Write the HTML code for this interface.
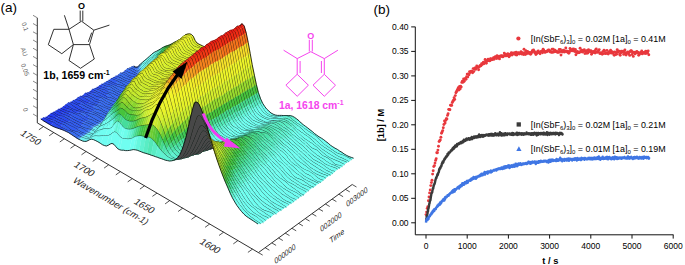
<!DOCTYPE html>
<html><head><meta charset="utf-8"><style>
html,body{margin:0;padding:0;background:#fff;}
svg{display:block;}
text{font-family:"Liberation Sans",sans-serif;}
</style></head><body>
<svg width="685" height="265" viewBox="0 0 685 265">
<rect width="685" height="265" fill="#fff"/>
<path stroke="#1a1a1a" stroke-width="0.9" fill="none" d="M37.3 17.8 V122.9 L258.4 252.6 L352.2 184.5"/>
<path stroke="#1a1a1a" stroke-width="0.75" fill="none" d="M43.5 126.5 l-4.6 3.3 M53.8 132.5 l-4.6 3.3 M64.4 138.7 l-4.6 3.3 M75.1 145.0 l-4.6 3.3 M86.1 151.5 l-4.6 3.3 M97.3 158.1 l-4.6 3.3 M108.7 164.8 l-4.6 3.3 M120.4 171.6 l-4.6 3.3 M132.3 178.6 l-4.6 3.3 M144.5 185.8 l-4.6 3.3 M157.0 193.1 l-4.6 3.3 M169.7 200.6 l-4.6 3.3 M182.7 208.2 l-4.6 3.3 M196.1 216.0 l-4.6 3.3 M209.7 224.0 l-4.6 3.3 M223.6 232.2 l-4.6 3.3 M237.9 240.6 l-4.6 3.3 M252.5 249.1 l-4.6 3.3 M258.4 252.6 l4.3 2.5 M265.1 247.7 l4.3 2.5 M271.8 242.9 l4.3 2.5 M278.5 238.0 l4.3 2.5 M285.2 233.1 l4.3 2.5 M291.9 228.3 l4.3 2.5 M298.6 223.4 l4.3 2.5 M305.3 218.6 l4.3 2.5 M312.0 213.7 l4.3 2.5 M318.7 208.8 l4.3 2.5 M325.4 204.0 l4.3 2.5 M332.1 199.1 l4.3 2.5 M338.8 194.2 l4.3 2.5 M345.5 189.4 l4.3 2.5 M352.2 184.5 l4.3 2.5 "/>
<path stroke="#555" stroke-width="0.7" fill="none" d="M37.3 17.8 L33.0 15.3 M37.3 26.0 L33.0 23.5 M37.3 34.2 L33.0 31.8 M37.3 42.5 L33.0 40.0 M37.3 50.7 L33.0 48.2 M37.3 58.9 L33.0 56.4 M37.3 67.1 L33.0 64.6 M37.3 75.4 L33.0 72.9 M37.3 83.6 L33.0 81.1 M37.3 91.8 L33.0 89.3 M37.3 100.0 L33.0 97.5 M37.3 108.3 L33.0 105.8 M37.3 116.5 L33.0 114.0 "/>
<text transform="matrix(0.862 0.507 -0.70 0.72 28.6 140.0)" text-anchor="middle" font-size="9.6" fill="#222">1750</text>
<text transform="matrix(0.862 0.507 -0.70 0.72 82.2 171.4)" text-anchor="middle" font-size="9.6" fill="#222">1700</text>
<text transform="matrix(0.862 0.507 -0.70 0.72 142.2 208.4)" text-anchor="middle" font-size="9.6" fill="#222">1650</text>
<text transform="matrix(0.862 0.507 -0.70 0.72 208.0 248.4)" text-anchor="middle" font-size="9.6" fill="#222">1600</text>
<text transform="matrix(0.862 0.507 -0.70 0.72 108.8 203.4)" text-anchor="middle" font-size="9.4" fill="#2a2a2a">Wavenumber (cm-1)</text>
<text transform="matrix(0.80 -0.60 0.22 0.97 285.6 256.5)" text-anchor="middle" font-size="8" fill="#222" textLength="26" lengthAdjust="spacingAndGlyphs">000000</text>
<text transform="matrix(0.80 -0.60 0.22 0.97 331.5 224.5)" text-anchor="middle" font-size="8" fill="#222" textLength="26" lengthAdjust="spacingAndGlyphs">002000</text>
<text transform="matrix(0.80 -0.60 0.22 0.97 357.5 199.5)" text-anchor="middle" font-size="8" fill="#222" textLength="26" lengthAdjust="spacingAndGlyphs">003000</text>
<text transform="matrix(0.80 -0.60 0.22 0.97 337.5 238.5)" text-anchor="middle" font-size="8" fill="#222">Time</text>
<text transform="matrix(0.35 0.94 -0.94 0.35 23.0 27.5)" text-anchor="middle" font-size="6.5" fill="#666">0.1</text>
<text transform="matrix(0.35 0.94 -0.94 0.35 22.0 52.7)" text-anchor="middle" font-size="6.5" fill="#666">AU</text>
<text transform="matrix(0.35 0.94 -0.94 0.35 23.0 70.5)" text-anchor="middle" font-size="6.5" fill="#666">0.05</text>
<text transform="matrix(0.35 0.94 -0.94 0.35 23.5 110.5)" text-anchor="middle" font-size="6.5" fill="#666">0</text>
<style>.sf path{fill:currentColor;stroke:currentColor;stroke-width:1.50}.sf path.k{fill:none;stroke:#000;stroke-width:4.00}</style><g class="sf" transform="scale(0.2)"><path color="#396df0" d="M658 334l9 3 8 2 12-3-9-1-9-5z"/>
<path color="#3f79f0" d="M675 339l9 2 11-14-8 9z"/>
<path color="#4a8bf0" d="M684 341l9-5 11-17-9 8z"/>
<path color="#6cf1f0" d="M693 336l8-7 12-18-9 8z"/>
<path color="#6ff8f1" d="M701 329l9-6 11-19-8 7z"/>
<path color="#70fcf2" d="M710 323l9-5 11-21-9 7z"/>
<path color="#70fdf2" d="M719 318l9-5 11-24-9 8z"/>
<path color="#70fdf1" d="M728 313l8-7 9-9 12-24-9 8-9 8z"/>
<path color="#70fef1" d="M745 297l9-7 11-24-8 7z"/>
<path color="#70fef0" d="M754 290l9-8 11-22-9 6z"/>
<path color="#70fff0" d="M763 282l9-7 11-19-9 4z"/>
<path color="#6dfdea" d="M772 275l9-7 11-17-9 5z"/>
<path color="#60f2d1" d="M781 268l9-9 11-13-9 5z"/>
<path color="#52e8b7" d="M790 259l9-8 11-11-9 6z"/>
<path color="#46dd9c" d="M799 251l9-7 11-9-9 5z"/>
<path color="#42d279" d="M808 244l9-5 11-8-9 4z"/>
<path color="#3ec755" d="M817 239l9-3 11-8-9 3z"/>
<path color="#3cc143" d="M826 236l9-2 11-9-9 3z"/>
<path color="#54c639" d="M835 234l9-3 11-10-9 4z"/>
<path color="#62ca35" d="M844 231l9-4 11-11-9 5z"/>
<path color="#7dd12f" d="M853 227l9-4 12-13-10 6z"/>
<path color="#97d92d" d="M862 223l9-4 12-13-9 4z"/>
<path color="#a4de2d" d="M871 219l9-4 12-14-9 5z"/>
<path color="#bee62d" d="M880 215l10-6 11-13-9 5z"/>
<path color="#c9ea2c" d="M890 209l9-9 11-11-9 7z"/>
<path color="#484848" d="M899 200l9-11 10-8 11-8-9 7-10 9z"/>
<path color="#e5f228" d="M918 181l9-5 11-6-9 3z"/>
<path color="#e9f328" d="M927 176l9 0 10 2 9 5 11-2-9-9-9-3-10 1z"/>
<path color="#e5f228" d="M955 183l9 24 12-4-10-22z"/>
<path color="#ddf029" d="M964 207l10 12 11-4-9-12z"/>
<path color="#d9ef2a" d="M974 219l9 7 10 6 9 5 10 4 10 3 9 1 12-6-10-2-10-3-9-4-10-5-9-4-10-6z"/>
<path color="#ddf029" d="M1031 245l10 0 11-5-9-1z"/>
<path color="#e1f129" d="M1041 245l9 0 12-6-10 1z"/>
<path color="#e5f228" d="M1050 245l10-1 12-8-10 3z"/>
<path color="#e8f328" d="M1060 244l10 0 11-9-9 1z"/>
<path color="#e9f328" d="M1070 244l10 0 11-10-10 1z"/>
<path color="#ebf328" d="M1080 244l9-2 12-8-10 0z"/>
<path color="#ecf428" d="M1089 242l10-5 12-7-10 4z"/>
<path color="#484848" d="M1099 237l10-6 10-7 11-8-9 8-10 6z"/>
<path color="#f3f528" d="M1119 224l10-6 11-8-10 6z"/>
<path color="#f4eb28" d="M1129 218l10-7 11-7-10 6z"/>
<path color="#484848" d="M1139 211l10-8 10-12 10-16 10-19 10-19 10-9 11-10-10 11-10 22-10 21-10 16-10 10-10 6z"/>
<path color="#eb1e14" d="M1199 128l10 11 12-9-11-12z"/>
<path color="#ed2b14" d="M1209 139l10 33 12-8-10-34z"/>
<path color="#f4721a" d="M1219 172l10 47 12-7-10-48z"/>
<path color="#f5da28" d="M1229 219l11 55 11-7-10-55z"/>
<path color="#eef428" d="M1240 274l10 57 11-8-10-56z"/>
<path color="#d9ef2a" d="M1250 331l10 53 12-8-11-53z"/>
<path color="#97d92d" d="M1260 384l11 47 11-8-10-47z"/>
<path color="#46c33c" d="M1271 431l10 37 11-5-10-40z"/>
<path color="#46dd9c" d="M1281 468l10 29 12-3-11-31z"/>
<path color="#59edc4" d="M1291 497l11 23 11-4-10-22z"/>
<path color="#6dfdea" d="M1302 520l10 18 12-5-11-17z"/>
<path color="#70fff0" d="M1312 538l11 16 10 11 12-9-11-10-10-13z"/>
<path color="#70fef0" d="M1333 565l11 8 10 5 11 2 10 2 12-5-11-2-10-4-11-6-10-9z"/>
<path color="#70fff0" d="M1375 582l11 1 11 1 11-1 11-5-11-1-10 0-11 0z"/>
<path color="#6dfdea" d="M1408 583l10-2 12-3-11 0z"/>
<path color="#66f7de" d="M1418 581l11-1 12-2-11 0z"/>
<path color="#60f2d1" d="M1429 580l11 2 11 6 11 10 11 9 11-12-11-8-11-6-11-3-10 0z"/>
<path color="#66f7de" d="M1473 607l11 8 11-11-11-9z"/>
<path color="#6dfdea" d="M1484 615l11 8 11 7 11-6-11-9-11-11z"/>
<path color="#70fff0" d="M1506 630l11 8 11 9 11 8 11 7 11 7 11 7 12 9 11-1-11-8-11-8-11-10-12-9-11-9-11-8-11-8z"/>
<path color="#70fef0" d="M1584 685l11 11 12-5-12-7z"/>
<path color="#70fef1" d="M1595 696l11 12 12 11 11 9 12 8 11 8 12 8 11 8 12 7 11 4 12 4 12 4 11 6 12 6 12 7 11-7-11-4-12-4-12-6-12-7-11-8-12-7-11-8-12-6-11-7-12-8-11-10-12-9-11-9-11-7z"/>
<path class="k" d="M658 334l9 3 8 2 9 2 9-5 8-7 9-6 9-5 9-5 8-7 9-9 9-7 9-8 9-7 9-7 9-9 9-8 9-7 9-5 9-3 9-2 9-3 9-4 9-4 9-4 9-4 10-6 9-9 9-11 10-8 9-5 9 0 10 2 9 5 9 24 10 12 9 7 10 6 9 5 10 4 10 3 9 1 10 0 9 0 10-1 10 0 10 0 9-2 10-5 10-6 10-7 10-6 10-7 10-8 10-12 10-16 10-19 10-19 10-9 10 11 10 33 10 47 11 55 10 57 10 53 11 47 10 37 10 29 11 23 10 18 11 16 10 11 11 8 10 5 11 2 10 2 11 1 11 1 11-1 10-2 11-1 11 2 11 6 11 10 11 9 11 8 11 8 11 7 11 8 11 9 11 8 11 7 11 7 11 7 12 9 11 11 11 12 12 11 11 9 12 8 11 8 12 8 11 8 12 7 11 4 12 4 12 4 11 6 12 6 12 7"/>
<path class="k" d="M669 330l9 5 9 1 8-9 9-8 9-8 8-7 9-7 9-8 9-8 9-8 8-7 9-6 9-4 9-5 9-5 9-6 9-5 9-4 9-3 9-3 9-4 9-5 10-6 9-4 9-5 9-5 9-7 10-9 9-7 9-3 10-1 9 3 9 9 10 22 9 12 10 6 9 4 10 5 9 4 10 3 10 2 9 1 10-1 10-3 9-1 10-1 10 0 10-4 10-6 9-8 10-6 10-6 10-6 10-10 10-16 10-21 10-22 10-11 11 12 10 34 10 48 10 55 10 56 11 53 10 47 10 40 11 31 10 22 11 17 10 13 11 10 10 9 11 6 10 4 11 2 11 0 10 0 11 1 11 0 11 0 10 0 11 3 11 6 11 8 11 9 11 11 11 9 11 8 11 8 11 9 12 9 11 10 11 8 11 8 12 7 11 7 11 9 12 9 11 10 12 8 11 7 12 6 11 8 12 7 11 8 12 7 12 6 12 4 11 4"/>
<path color="#396df0" d="M647 340l8 3 9 3 9 5 11-10-9-2-8-2-9-3z"/>
<path color="#3f79f0" d="M673 351l8 5 12-20-9 5z"/>
<path color="#4582f0" d="M681 356l9 1 11-28-8 7z"/>
<path color="#5ec6f0" d="M690 357l9-9 11-25-9 6z"/>
<path color="#6ef5f1" d="M699 348l9-10 11-20-9 5z"/>
<path color="#70fcf2" d="M708 338l8-8 12-17-9 5z"/>
<path color="#70fdf2" d="M716 330l9-8 11-16-8 7z"/>
<path color="#70fdf1" d="M725 322l9-7 9-8 11-17-9 7-9 9z"/>
<path color="#70fef1" d="M743 307l9-8 11-17-9 8z"/>
<path color="#70fef0" d="M752 299l8-8 12-16-9 7z"/>
<path color="#70fff0" d="M760 291l9-7 12-16-9 7z"/>
<path color="#6dfdea" d="M769 284l9-7 12-18-9 9z"/>
<path color="#60f2d1" d="M778 277l9-6 12-20-9 8z"/>
<path color="#4be2aa" d="M787 271l9-6 12-21-9 7z"/>
<path color="#44d78b" d="M796 265l9-8 12-18-9 5z"/>
<path color="#40cc67" d="M805 257l9-8 12-13-9 3z"/>
<path color="#3cc143" d="M814 249l9-6 12-9-9 2z"/>
<path color="#46c33c" d="M823 243l9-4 12-8-9 3z"/>
<path color="#62ca35" d="M832 239l10-3 11-9-9 4z"/>
<path color="#6fce32" d="M842 236l9-3 11-10-9 4z"/>
<path color="#8ad52d" d="M851 233l9-4 11-10-9 4z"/>
<path color="#a4de2d" d="M860 229l9-6 11-8-9 4z"/>
<path color="#484848" d="M869 223l9-7 9-8 10-9 11-10-9 11-9 9-10 6z"/>
<path color="#ddf029" d="M897 199l9-6 12-12-10 8z"/>
<path color="#e5f228" d="M906 193l9-4 12-13-9 5z"/>
<path color="#e8f328" d="M915 189l10-2 11-11-9 0z"/>
<path color="#e9f328" d="M925 187l9-1 12-8-10-2z"/>
<path color="#ebf328" d="M934 186l9 1 12-4-9-5z"/>
<path color="#e8f328" d="M943 187l10 24 11-4-9-24z"/>
<path color="#ddf029" d="M953 211l9 14 12-6-10-12z"/>
<path color="#d9ef2a" d="M962 225l10 7 9 4 10 3 9 3 10 5 10 5 11-7-9-1-10-3-10-4-9-5-10-6-9-7z"/>
<path color="#ddf029" d="M1020 252l9 4 10 1 11-12-9 0-10 0z"/>
<path color="#e1f129" d="M1039 257l10-3 11-10-10 1z"/>
<path color="#e8f328" d="M1049 254l9-2 12-8-10 0z"/>
<path color="#e9f328" d="M1058 252l10-2 12-6-10 0z"/>
<path color="#ebf328" d="M1068 250l10-1 11-7-9 2z"/>
<path color="#ecf428" d="M1078 249l10-3 11-9-10 5z"/>
<path color="#eef428" d="M1088 246l10-7 11-8-10 6z"/>
<path color="#484848" d="M1098 239l9-9 10-8 10-7 10-6 10-10 10-16 10-21 10-22 10-9 12-3-10 9-10 19-10 19-10 16-10 12-10 8-10 7-10 6-10 7z"/>
<path color="#eb1e14" d="M1187 131l11 13 11-5-10-11z"/>
<path color="#ed2b14" d="M1198 144l10 35 11-7-10-33z"/>
<path color="#f4721a" d="M1208 179l10 50 11-10-10-47z"/>
<path color="#f5da28" d="M1218 229l10 56 12-11-11-55z"/>
<path color="#edf428" d="M1228 285l10 55 12-9-10-57z"/>
<path color="#d5ed2b" d="M1238 340l11 53 11-9-10-53z"/>
<path color="#97d92d" d="M1249 393l10 46 12-8-11-47z"/>
<path color="#46c33c" d="M1259 439l10 38 12-9-10-37z"/>
<path color="#46dd9c" d="M1269 477l11 29 11-9-10-29z"/>
<path color="#59edc4" d="M1280 506l10 22 12-8-11-23z"/>
<path color="#6dfdea" d="M1290 528l11 16 11-6-10-18z"/>
<path color="#70fff0" d="M1301 544l10 12 11 11 11-2-10-11-11-16z"/>
<path color="#70fef0" d="M1322 567l10 8 11 6 10 4 12-5-11-2-10-5-11-8z"/>
<path color="#70fff0" d="M1353 585l11 2 11 2 10 2 11 2 12-10-11 1-11-1-11-1-10-2z"/>
<path color="#6dfdea" d="M1396 593l11 0 11-12-10 2z"/>
<path color="#66f7de" d="M1407 593l11-1 11-12-11 1z"/>
<path color="#60f2d1" d="M1418 592l10 0 11 3 11 6 11 7 12-1-11-9-11-10-11-6-11-2z"/>
<path color="#66f7de" d="M1461 608l11 9 11 8 12-2-11-8-11-8z"/>
<path color="#6dfdea" d="M1483 625l11 8 11 9 12-4-11-8-11-7z"/>
<path color="#70fff0" d="M1505 642l11 10 11 10 11 10 12 8 11 8 11 8 12-11-12-9-11-7-11-7-11-7-11-8-11-9z"/>
<path color="#70fef0" d="M1572 696l11 9 12-9-11-11z"/>
<path color="#70fef1" d="M1583 705l12 10 11 11 12 9 11 7 11 7 12 7 12 8 11 8 12 8 11 6 12 5 12 6 12 6 11 6 12-11-12-7-12-6-11-6-12-4-12-4-11-4-12-7-11-8-12-8-11-8-12-8-11-9-12-11-11-12z"/>
<path class="k" d="M647 340l8 3 9 3 9 5 8 5 9 1 9-9 9-10 8-8 9-8 9-7 9-8 9-8 8-8 9-7 9-7 9-6 9-6 9-8 9-8 9-6 9-4 10-3 9-3 9-4 9-6 9-7 9-8 10-9 9-6 9-4 10-2 9-1 9 1 10 24 9 14 10 7 9 4 10 3 9 3 10 5 10 5 9 4 10 1 10-3 9-2 10-2 10-1 10-3 10-7 9-9 10-8 10-7 10-6 10-10 10-16 10-21 10-22 10-9 11 13 10 35 10 50 10 56 10 55 11 53 10 46 10 38 11 29 10 22 11 16 10 12 11 11 10 8 11 6 10 4 11 2 11 2 10 2 11 2 11 0 11-1 10 0 11 3 11 6 11 7 11 9 11 8 11 8 11 9 11 10 11 10 11 10 12 8 11 8 11 8 11 9 12 10 11 11 12 9 11 7 11 7 12 7 12 8 11 8 12 8 11 6 12 5 12 6 12 6 11 6"/>
<path color="#396df0" d="M635 344l9 3 9 5 8 5 9 5 9 5 11-10-9-1-8-5-9-5-9-3-8-3z"/>
<path color="#3f79f0" d="M679 367l8 5 12-24-9 9z"/>
<path color="#4a8bf0" d="M687 372l9-8 12-26-9 10z"/>
<path color="#6ef5f1" d="M696 364l9-10 11-24-8 8z"/>
<path color="#70fbf2" d="M705 354l9-9 11-23-9 8z"/>
<path color="#70fdf2" d="M714 345l8-9 12-21-9 7z"/>
<path color="#70fdf1" d="M722 336l9-8 9-9 12-20-9 8-9 8z"/>
<path color="#70fef1" d="M740 319l9-9 11-19-8 8z"/>
<path color="#70fef0" d="M749 310l9-9 11-17-9 7z"/>
<path color="#70fff0" d="M758 301l9-9 11-15-9 7z"/>
<path color="#66f7de" d="M767 292l9-9 11-12-9 6z"/>
<path color="#59edc4" d="M776 283l9-8 11-10-9 6z"/>
<path color="#4be2aa" d="M785 275l9-6 11-12-9 8z"/>
<path color="#44d78b" d="M794 269l9-6 11-14-9 8z"/>
<path color="#40cc67" d="M803 263l9-4 11-16-9 6z"/>
<path color="#3cc143" d="M812 259l9-4 11-16-9 4z"/>
<path color="#54c639" d="M821 255l9-4 12-15-10 3z"/>
<path color="#62ca35" d="M830 251l9-5 12-13-9 3z"/>
<path color="#7dd12f" d="M839 246l9-6 12-11-9 4z"/>
<path color="#97d92d" d="M848 240l10-6 11-11-9 6z"/>
<path color="#b1e22d" d="M858 234l9-7 11-11-9 7z"/>
<path color="#484848" d="M867 227l9-10 9-10 10-7 11-7-9 6-10 9-9 8z"/>
<path color="#e1f129" d="M895 200l9-4 11-7-9 4z"/>
<path color="#e8f328" d="M904 196l9-3 12-6-10 2z"/>
<path color="#e9f328" d="M913 193l10-2 11-5-9 1z"/>
<path color="#ebf328" d="M923 191l9 0 11-4-9-1z"/>
<path color="#e8f328" d="M932 191l9 22 12-2-10-24z"/>
<path color="#e1f129" d="M941 213l10 15 11-3-9-14z"/>
<path color="#d9ef2a" d="M951 228l9 10 10 8 9 6 10 4 10 3 9 1 10 1 11-5-9-4-10-5-10-5-9-3-10-3-9-4-10-7z"/>
<path color="#ddf029" d="M1018 261l9 0 12-4-10-1z"/>
<path color="#e1f129" d="M1027 261l10-2 12-5-10 3z"/>
<path color="#e5f228" d="M1037 259l10-2 11-5-9 2z"/>
<path color="#e9f328" d="M1047 257l10-1 11-6-10 2z"/>
<path color="#ebf328" d="M1057 256l9-2 12-5-10 1z"/>
<path color="#484848" d="M1066 254l10-4 10-6 10-8 10-7 10-6 11-8-10 7-10 8-9 9-10 7-10 3z"/>
<path color="#f5da28" d="M1116 223l10-6 11-8-10 6z"/>
<path color="#484848" d="M1126 217l10-9 10-13 10-21 10-22 10-12 11-9-10 9-10 22-10 21-10 16-10 10z"/>
<path color="#eb1e14" d="M1176 140l10 9 12-5-11-13z"/>
<path color="#ed2b14" d="M1186 149l10 33 12-3-10-35z"/>
<path color="#f4721a" d="M1196 182l10 50 12-3-10-50z"/>
<path color="#f5da28" d="M1206 232l11 56 11-3-10-56z"/>
<path color="#edf428" d="M1217 288l10 57 11-5-10-55z"/>
<path color="#d5ed2b" d="M1227 345l10 53 12-5-11-53z"/>
<path color="#97d92d" d="M1237 398l10 46 12-5-10-46z"/>
<path color="#46c33c" d="M1247 444l11 37 11-4-10-38z"/>
<path color="#46dd9c" d="M1258 481l10 30 12-5-11-29z"/>
<path color="#59edc4" d="M1268 511l11 24 11-7-10-22z"/>
<path color="#6dfdea" d="M1279 535l10 18 12-9-11-16z"/>
<path color="#70fff0" d="M1289 553l10 14 11 10 12-10-11-11-10-12z"/>
<path color="#70fef0" d="M1310 577l11 7 10 5 11 3 11-7-10-4-11-6-10-8z"/>
<path color="#70fff0" d="M1342 592l10 1 11 1 11 1 10 0 12-2-11-2-10-2-11-2-11-2z"/>
<path color="#6dfdea" d="M1384 595l11 1 12-3-11 0z"/>
<path color="#66f7de" d="M1395 596l11 0 12-4-11 1z"/>
<path color="#60f2d1" d="M1406 596l11 2 11 4 10 5 11 8 11 8 12-6-11-9-11-7-11-6-11-3-10 0z"/>
<path color="#66f7de" d="M1460 623l11 10 11 10 12-10-11-8-11-8z"/>
<path color="#6dfdea" d="M1482 643l11 9 12-10-11-9z"/>
<path color="#70fff0" d="M1493 652l12 9 11 7 11 8 11 7 11 9 12 10 11-6-11-8-11-8-12-8-11-10-11-10-11-10z"/>
<path color="#70fef0" d="M1561 702l11 10 11-7-11-9z"/>
<path color="#70fef1" d="M1572 712l11 11 12 10 11 10 11 8 12 8 11 7 12 8 12 7 11 7 12 6 12 5 11 4 12 4 12 5 11-3-11-6-12-6-12-6-12-5-11-6-12-8-11-8-12-8-12-7-11-7-11-7-12-9-11-11-12-10z"/>
<path class="k" d="M635 344l9 3 9 5 8 5 9 5 9 5 8 5 9-8 9-10 9-9 8-9 9-8 9-9 9-9 9-9 9-9 9-9 9-8 9-6 9-6 9-4 9-4 9-4 9-5 9-6 10-6 9-7 9-10 9-10 10-7 9-4 9-3 10-2 9 0 9 22 10 15 9 10 10 8 9 6 10 4 10 3 9 1 10 1 9 0 10-2 10-2 10-1 9-2 10-4 10-6 10-8 10-7 10-6 10-6 10-9 10-13 10-21 10-22 10-12 10 9 10 33 10 50 11 56 10 57 10 53 10 46 11 37 10 30 11 24 10 18 10 14 11 10 11 7 10 5 11 3 10 1 11 1 11 1 10 0 11 1 11 0 11 2 11 4 10 5 11 8 11 8 11 10 11 10 11 9 12 9 11 7 11 8 11 7 11 9 12 10 11 10 11 11 12 10 11 10 11 8 12 8 11 7 12 8 12 7 11 7 12 6 12 5 11 4 12 4 12 5"/>
<path color="#396df0" d="M624 354l9 4 8 4 9 4 9 3 8 3 9 4 11-4-8-5-9-5-9-5-8-5-9-5-9-3z"/>
<path color="#3f79f0" d="M676 376l9 4 11-16-9 8z"/>
<path color="#4582f0" d="M685 380l8-4 12-22-9 10z"/>
<path color="#6cf1f0" d="M693 376l9-9 12-22-9 9z"/>
<path color="#70fbf2" d="M702 367l9-9 11-22-8 9z"/>
<path color="#70fcf2" d="M711 358l9-9 11-21-9 8z"/>
<path color="#70fdf1" d="M720 349l9-9 9-10 11-20-9 9-9 9z"/>
<path color="#70fef1" d="M738 330l8-9 12-20-9 9z"/>
<path color="#70fef0" d="M746 321l9-10 12-19-9 9z"/>
<path color="#70fff0" d="M755 311l9-10 12-18-9 9z"/>
<path color="#66f7de" d="M764 301l9-9 12-17-9 8z"/>
<path color="#52e8b7" d="M773 292l9-8 12-15-9 6z"/>
<path color="#46dd9c" d="M782 284l9-7 12-14-9 6z"/>
<path color="#42d279" d="M791 277l9-6 12-12-9 4z"/>
<path color="#3ec755" d="M800 271l9-5 12-11-9 4z"/>
<path color="#3cc143" d="M809 266l10-4 11-11-9 4z"/>
<path color="#54c639" d="M819 262l9-4 11-12-9 5z"/>
<path color="#6fce32" d="M828 258l9-5 11-13-9 6z"/>
<path color="#8ad52d" d="M837 253l9-7 12-12-10 6z"/>
<path color="#a4de2d" d="M846 246l9-8 12-11-9 7z"/>
<path color="#484848" d="M855 238l10-11 9-11 9-9 12-7-10 7-9 10-9 10z"/>
<path color="#e1f129" d="M883 207l9-5 12-6-9 4z"/>
<path color="#e8f328" d="M892 202l10-2 11-7-9 3z"/>
<path color="#e9f328" d="M902 200l9-1 12-8-10 2z"/>
<path color="#ebf328" d="M911 199l9 2 12-10-9 0z"/>
<path color="#e8f328" d="M920 201l10 19 11-7-9-22z"/>
<path color="#e1f129" d="M930 220l9 16 12-8-10-15z"/>
<path color="#d9ef2a" d="M939 236l10 9 9 6 10 4 9 3 10 4 10 4 9 3 12-8-10-1-9-1-10-3-10-4-9-6-10-8-9-10z"/>
<path color="#ddf029" d="M1006 269l10 1 11-9-9 0z"/>
<path color="#e1f129" d="M1016 270l10-1 11-10-10 2z"/>
<path color="#e5f228" d="M1026 269l9-2 12-10-10 2z"/>
<path color="#e9f328" d="M1035 267l10-2 12-9-10 1z"/>
<path color="#ebf328" d="M1045 265l10-3 11-8-9 2z"/>
<path color="#ecf428" d="M1055 262l10-4 11-8-10 4z"/>
<path color="#484848" d="M1065 258l9-7 10-9 10-8 10-6 10-6 10-9 10-13 10-19 10-21 10-11 12-9-10 12-10 22-10 21-10 13-10 9-10 6-10 6-10 7-10 8-10 6z"/>
<path color="#eb1e14" d="M1164 149l10 10 12-10-10-9z"/>
<path color="#ed2b14" d="M1174 159l11 32 11-9-10-33z"/>
<path color="#f36218" d="M1185 191l10 48 11-7-10-50z"/>
<path color="#f5da28" d="M1195 239l10 55 12-6-11-56z"/>
<path color="#eef428" d="M1205 294l10 57 12-6-10-57z"/>
<path color="#d9ef2a" d="M1215 351l11 53 11-6-10-53z"/>
<path color="#97d92d" d="M1226 404l10 47 11-7-10-46z"/>
<path color="#46c33c" d="M1236 451l10 39 12-9-11-37z"/>
<path color="#46dd9c" d="M1246 490l11 31 11-10-10-30z"/>
<path color="#59edc4" d="M1257 521l10 22 12-8-11-24z"/>
<path color="#6dfdea" d="M1267 543l10 17 12-7-10-18z"/>
<path color="#70fff0" d="M1277 560l11 11 10 8 11 7 10 5 11 5 11 4 10 3 11 2 11 1 11-11-10 0-11-1-11-1-10-1-11-3-10-5-11-7-11-10-10-14z"/>
<path color="#6dfdea" d="M1373 606l11 0 11-10-11-1z"/>
<path color="#66f7de" d="M1384 606l10-1 12-9-11 0z"/>
<path color="#60f2d1" d="M1394 605l11 0 11 2 12-5-11-4-11-2z"/>
<path color="#59edc4" d="M1416 607l11 4 11 6 11-2-11-8-10-5z"/>
<path color="#60f2d1" d="M1438 617l11 8 11 9 11-1-11-10-11-8z"/>
<path color="#66f7de" d="M1460 634l11 11 11-2-11-10z"/>
<path color="#6dfdea" d="M1471 645l11 11 11-4-11-9z"/>
<path color="#70fff0" d="M1482 656l11 12 11 10 11 10 11 8 12 8 11 7 12-9-12-10-11-9-11-7-11-8-11-7-12-9z"/>
<path color="#70fef0" d="M1549 711l11 7 12 9 11-4-11-11-11-10z"/>
<path color="#70fef1" d="M1572 727l11 9 11 10 12 10 11 10 12 9 11 9 12 7 12 5 11 5 12 5 12 5 11 6 12 6 12-11-12-5-12-4-11-4-12-5-12-6-11-7-12-7-12-8-11-7-12-8-11-8-11-10-12-10z"/>
<path class="k" d="M624 354l9 4 8 4 9 4 9 3 8 3 9 4 9 4 8-4 9-9 9-9 9-9 9-9 9-10 8-9 9-10 9-10 9-9 9-8 9-7 9-6 9-5 10-4 9-4 9-5 9-7 9-8 10-11 9-11 9-9 9-5 10-2 9-1 9 2 10 19 9 16 10 9 9 6 10 4 9 3 10 4 10 4 9 3 10 1 10-1 9-2 10-2 10-3 10-4 9-7 10-9 10-8 10-6 10-6 10-9 10-13 10-19 10-21 10-11 10 10 11 32 10 48 10 55 10 57 11 53 10 47 10 39 11 31 10 22 10 17 11 11 10 8 11 7 10 5 11 5 11 4 10 3 11 2 11 1 11 0 10-1 11 0 11 2 11 4 11 6 11 8 11 9 11 11 11 11 11 12 11 10 11 10 11 8 12 8 11 7 11 7 12 9 11 9 11 10 12 10 11 10 12 9 11 9 12 7 12 5 11 5 12 5 12 5 11 6 12 6"/>
<path color="#325cef" d="M613 363l8 1 12-6-9-4z"/>
<path color="#396df0" d="M621 364l9 4 8 6 9 6 9 2 8 1 9 3 12-6-9-4-9-4-8-3-9-3-9-4-8-4z"/>
<path color="#3f79f0" d="M673 386l9 6 11-16-8 4z"/>
<path color="#4582f0" d="M682 392l9 1 11-26-9 9z"/>
<path color="#5ec6f0" d="M691 393l9-13 11-22-9 9z"/>
<path color="#70fbf2" d="M700 380l8-15 12-16-9 9z"/>
<path color="#70fdf2" d="M708 365l9-12 12-13-9 9z"/>
<path color="#70fdf1" d="M717 353l9-8 9-8 11-16-8 9-9 10z"/>
<path color="#70fef1" d="M735 337l9-9 11-17-9 10z"/>
<path color="#70fef0" d="M744 328l9-10 11-17-9 10z"/>
<path color="#70fff0" d="M753 318l9-9 11-17-9 9z"/>
<path color="#66f7de" d="M762 309l9-4 11-21-9 8z"/>
<path color="#59edc4" d="M771 305l9-4 11-24-9 7z"/>
<path color="#4be2aa" d="M780 301l9-7 11-23-9 6z"/>
<path color="#42d279" d="M789 294l9-9 11-19-9 5z"/>
<path color="#3ec755" d="M798 285l9-10 12-13-10 4z"/>
<path color="#46c33c" d="M807 275l9-7 12-10-9 4z"/>
<path color="#62ca35" d="M816 268l9-6 12-9-9 5z"/>
<path color="#484848" d="M825 262l10-8 9-11 9-12 9-10 10-5 11-9-9 9-9 11-10 11-9 8-9 7z"/>
<path color="#e1f129" d="M872 216l9-3 11-11-9 5z"/>
<path color="#e5f228" d="M881 213l9-4 12-9-10 2z"/>
<path color="#e8f328" d="M890 209l10-3 11-7-9 1z"/>
<path color="#e9f328" d="M900 206l9 2 11-7-9-2z"/>
<path color="#e8f328" d="M909 208l9 18 12-6-10-19z"/>
<path color="#e1f129" d="M918 226l10 17 11-7-9-16z"/>
<path color="#d9ef2a" d="M928 243l9 8 10 5 9 7 10 7 9 4 10 1 10 0 11-6-9-3-10-4-10-4-9-3-10-4-9-6-10-9z"/>
<path color="#ddf029" d="M995 275l9 0 12-5-10-1z"/>
<path color="#e1f129" d="M1004 275l10-1 12-5-10 1z"/>
<path color="#e5f228" d="M1014 274l10-4 11-3-9 2z"/>
<path color="#484848" d="M1024 270l9-5 10-4 10-1 12-2-10 4-10 3-10 2z"/>
<path color="#eef428" d="M1053 260l10-1 11-8-9 7z"/>
<path color="#f0f528" d="M1063 259l10-4 11-13-10 9z"/>
<path color="#f3f528" d="M1073 255l10-8 11-13-10 8z"/>
<path color="#f4eb28" d="M1083 247l10-9 11-10-10 6z"/>
<path color="#f4e028" d="M1093 238l9-7 12-9-10 6z"/>
<path color="#f5c525" d="M1102 231l10-7 12-11-10 9z"/>
<path color="#484848" d="M1112 224l10-14 11-23 10-26 10-11 11-1-10 11-10 21-10 19-10 13z"/>
<path color="#eb1e14" d="M1153 150l10 14 11-5-10-10z"/>
<path color="#ed2b14" d="M1163 164l10 37 12-10-11-32z"/>
<path color="#f4721a" d="M1173 201l10 48 12-10-10-48z"/>
<path color="#f5da28" d="M1183 249l10 53 12-8-10-55z"/>
<path color="#eef428" d="M1193 302l11 55 11-6-10-57z"/>
<path color="#d9ef2a" d="M1204 357l10 55 12-8-11-53z"/>
<path color="#97d92d" d="M1214 412l10 47 12-8-10-47z"/>
<path color="#46c33c" d="M1224 459l11 36 11-5-10-39z"/>
<path color="#44d78b" d="M1235 495l10 27 12-1-11-31z"/>
<path color="#59edc4" d="M1245 522l10 21 12 0-10-22z"/>
<path color="#6dfdea" d="M1255 543l11 19 11-2-10-17z"/>
<path color="#70fff0" d="M1266 562l10 17 11 11 10 7 11 5 10 5 11 5 11 0 10-3 12-4-11-2-10-3-11-4-11-5-10-5-11-7-10-8-11-11z"/>
<path color="#484848" d="M1350 609l11-3 11-1 12 1-11 0-11-1z"/>
<path color="#66f7de" d="M1372 605l11 2 11-2-10 1z"/>
<path color="#60f2d1" d="M1383 607l10 1 12-3-11 0z"/>
<path color="#59edc4" d="M1393 608l11 3 11 6 11 9 11 11 12-12-11-8-11-6-11-4-11-2z"/>
<path color="#60f2d1" d="M1437 637l11 8 12-11-11-9z"/>
<path color="#66f7de" d="M1448 645l11 7 11 8 12-4-11-11-11-11z"/>
<path color="#6dfdea" d="M1470 660l11 11 12-3-11-12z"/>
<path color="#70fff0" d="M1481 671l11 12 12 10 11 8 11 8 11 11 12-9-11-7-12-8-11-8-11-10-11-10z"/>
<path color="#70fef0" d="M1537 720l12 12 11-14-11-7z"/>
<path color="#70fef1" d="M1549 732l11 9 11 5 12 5 11 9 12 12 11 9 12 5 11 6 12 9 12 11 11 10 12 4 12 2 12 5 11-10-12-6-11-6-12-5-12-5-11-5-12-5-12-7-11-9-12-9-11-10-12-10-11-10-11-9-12-9z"/>
<path class="k" d="M613 363l8 1 9 4 8 6 9 6 9 2 8 1 9 3 9 6 9 1 9-13 8-15 9-12 9-8 9-8 9-9 9-10 9-9 9-4 9-4 9-7 9-9 9-10 9-7 9-6 10-8 9-11 9-12 9-10 10-5 9-3 9-4 10-3 9 2 9 18 10 17 9 8 10 5 9 7 10 7 9 4 10 1 10 0 9 0 10-1 10-4 9-5 10-4 10-1 10-1 10-4 10-8 10-9 9-7 10-7 10-14 11-23 10-26 10-11 10 14 10 37 10 48 10 53 11 55 10 55 10 47 11 36 10 27 10 21 11 19 10 17 11 11 10 7 11 5 10 5 11 5 11 0 10-3 11-3 11-1 11 2 10 1 11 3 11 6 11 9 11 11 11 8 11 7 11 8 11 11 11 12 12 10 11 8 11 8 11 11 12 12 11 9 11 5 12 5 11 9 12 12 11 9 12 5 11 6 12 9 12 11 11 10 12 4 12 2 12 5"/>
<path color="#396df0" d="M601 365l9 3 8 5 9 5 9 5 8 3 9 4 9 4 8 4 9 4 12-9-9-1-9-6-9-3-8-1-9-2-9-6-8-6-9-4-8-1z"/>
<path color="#4582f0" d="M679 402l9 3 12-25-9 13z"/>
<path color="#5ec6f0" d="M688 405l9-12 11-28-8 15z"/>
<path color="#70fbf2" d="M697 393l9-11 11-29-9 12z"/>
<path color="#70fdf2" d="M706 382l9-11 11-26-9 8z"/>
<path color="#70fdf1" d="M715 371l8-12 9-11 12-20-9 9-9 8z"/>
<path color="#70fef1" d="M732 348l9-10 12-20-9 10z"/>
<path color="#70fff0" d="M741 338l9-9 9-8 12-16-9 4-9 9z"/>
<path color="#66f7de" d="M759 321l9-9 12-11-9 4z"/>
<path color="#484848" d="M768 312l9-9 9-9 10-9 11-10-9 10-9 9-9 7z"/>
<path color="#3cc143" d="M796 285l9-6 11-11-9 7z"/>
<path color="#54c639" d="M805 279l9-6 11-11-9 6z"/>
<path color="#6fce32" d="M814 273l9-6 12-13-10 8z"/>
<path color="#97d92d" d="M823 267l9-9 12-15-9 11z"/>
<path color="#bee62d" d="M832 258l9-12 12-15-9 12z"/>
<path color="#cdeb2c" d="M841 246l10-12 11-13-9 10z"/>
<path color="#d5ed2b" d="M851 234l9-8 12-10-10 5z"/>
<path color="#ddf029" d="M860 226l9-5 12-8-9 3z"/>
<path color="#e5f228" d="M869 221l10-3 11-9-9 4z"/>
<path color="#e8f328" d="M879 218l9-2 12-10-10 3z"/>
<path color="#e9f328" d="M888 216l9 0 12-8-9-2z"/>
<path color="#e8f328" d="M897 216l10 14 11-4-9-18z"/>
<path color="#e1f129" d="M907 230l9 17 12-4-10-17z"/>
<path color="#d9ef2a" d="M916 247l10 10 9 6 10 5 11-5-9-7-10-5-9-8z"/>
<path color="#d5ed2b" d="M945 268l9 5 10 4 11-3-9-4-10-7z"/>
<path color="#d9ef2a" d="M964 277l9 3 10 1 12-6-10 0-10-1z"/>
<path color="#ddf029" d="M983 281l10-1 11-5-9 0z"/>
<path color="#e1f129" d="M993 280l9-1 12-5-10 1z"/>
<path color="#e5f228" d="M1002 279l10-1 12-8-10 4z"/>
<path color="#e9f328" d="M1012 278l10 0 11-13-9 5z"/>
<path color="#ebf328" d="M1022 278l10-1 11-16-10 4z"/>
<path color="#ecf428" d="M1032 277l9-3 12-14-10 1z"/>
<path color="#eef428" d="M1041 274l10-7 12-8-10 1z"/>
<path color="#484848" d="M1051 267l10-8 10-7 10-7 10-8 10-10 10-15 10-20 10-22 10-12 12-8-10 11-10 26-11 23-10 14-10 7-9 7-10 9-10 8-10 4z"/>
<path color="#eb1e14" d="M1141 158l10 12 12-6-10-14z"/>
<path color="#ed2b14" d="M1151 170l10 35 12-4-10-37z"/>
<path color="#f4721a" d="M1161 205l10 51 12-7-10-48z"/>
<path color="#f4e028" d="M1171 256l11 56 11-10-10-53z"/>
<path color="#edf428" d="M1182 312l10 56 12-11-11-55z"/>
<path color="#d5ed2b" d="M1192 368l10 51 12-7-10-55z"/>
<path color="#97d92d" d="M1202 419l11 45 11-5-10-47z"/>
<path color="#46c33c" d="M1213 464l10 38 12-7-11-36z"/>
<path color="#44d78b" d="M1223 502l10 31 12-11-10-27z"/>
<path color="#59edc4" d="M1233 533l11 23 11-13-10-21z"/>
<path color="#66f7de" d="M1244 556l10 16 12-10-11-19z"/>
<path color="#70fff0" d="M1254 572l11 12 10 9 11 7 10 6 11 4 10 3 11 2 11 0 11-6-10 3-11 0-11-5-10-5-11-5-10-7-11-11-10-17z"/>
<path color="#6dfdea" d="M1339 615l10-1 12-8-11 3z"/>
<path color="#66f7de" d="M1349 614l11-1 12-8-11 1z"/>
<path color="#60f2d1" d="M1360 613l11-1 12-5-11-2z"/>
<path color="#59edc4" d="M1371 612l11 2 11 7 11 7 10 7 12-9-11-9-11-6-11-3-10-1z"/>
<path color="#60f2d1" d="M1414 635l11 7 11 7 12-4-11-8-11-11z"/>
<path color="#66f7de" d="M1436 649l11 10 11 10 12-9-11-8-11-7z"/>
<path color="#6dfdea" d="M1458 669l12 10 11-8-11-11z"/>
<path color="#70fff0" d="M1470 679l11 8 11 9 11 8 11 10 12 10 11-4-11-11-11-8-11-8-12-10-11-12z"/>
<path color="#70fef0" d="M1526 724l11 11 12-3-12-12z"/>
<path color="#70fef1" d="M1537 735l11 10 12 10 11 10 11 9 12 8 11 7 12 7 12 9 11 8 12 7 12-8-12-11-12-9-11-6-12-5-11-9-12-12-11-9-12-5-11-5-11-9z"/>
<path color="#70fdf1" d="M1652 820l12 5 11 4 12-3-12-4-11-10z"/>
<path color="#70fef1" d="M1675 829l12 6 12 6 12-8-12-5-12-2z"/>
<path class="k" d="M601 365l9 3 8 5 9 5 9 5 8 3 9 4 9 4 8 4 9 4 9 3 9-12 9-11 9-11 8-12 9-11 9-10 9-9 9-8 9-9 9-9 9-9 10-9 9-6 9-6 9-6 9-9 9-12 10-12 9-8 9-5 10-3 9-2 9 0 10 14 9 17 10 10 9 6 10 5 9 5 10 4 9 3 10 1 10-1 9-1 10-1 10 0 10-1 9-3 10-7 10-8 10-7 10-7 10-8 10-10 10-15 10-20 10-22 10-12 10 12 10 35 10 51 11 56 10 56 10 51 11 45 10 38 10 31 11 23 10 16 11 12 10 9 11 7 10 6 11 4 10 3 11 2 11 0 10-1 11-1 11-1 11 2 11 7 11 7 10 7 11 7 11 7 11 10 11 10 12 10 11 8 11 9 11 8 11 10 12 10 11 11 11 10 12 10 11 10 11 9 12 8 11 7 12 7 12 9 11 8 12 7 12 5 11 4 12 6 12 6"/>
<path color="#396df0" d="M590 375l8 3 9 3 8 5 9 5 9 3 8 3 9 4 9 4 9 4 8 2 12-6-9-3-9-4-8-4-9-4-9-4-8-3-9-5-9-5-8-5-9-3z"/>
<path color="#4582f0" d="M676 411l9 2 12-20-9 12z"/>
<path color="#5ec6f0" d="M685 413l9-11 12-20-9 11z"/>
<path color="#6ff8f1" d="M694 402l9-9 12-22-9 11z"/>
<path color="#70fcf2" d="M703 393l9-9 11-25-8 12z"/>
<path color="#70fdf1" d="M712 384l9-13 9-14 11-19-9 10-9 11z"/>
<path color="#70fef1" d="M730 357l9-13 11-15-9 9z"/>
<path color="#70fff0" d="M739 344l9-8 11-15-9 8z"/>
<path color="#6dfdea" d="M748 336l9-7 11-17-9 9z"/>
<path color="#60f2d1" d="M757 329l9-8 11-18-9 9z"/>
<path color="#4be2aa" d="M766 321l9-9 11-18-9 9z"/>
<path color="#44d78b" d="M775 312l9-9 12-18-10 9z"/>
<path color="#3ec755" d="M784 303l9-8 12-16-9 6z"/>
<path color="#46c33c" d="M793 295l9-8 12-14-9 6z"/>
<path color="#62ca35" d="M802 287l9-10 12-10-9 6z"/>
<path color="#484848" d="M811 277l10-11 9-12 9-10 9-9 12-9-9 8-10 12-9 12-9 9z"/>
<path color="#ddf029" d="M848 235l10-6 11-8-9 5z"/>
<path color="#e1f129" d="M858 229l9-6 12-5-10 3z"/>
<path color="#e8f328" d="M867 223l9-2 12-5-9 2z"/>
<path color="#e9f328" d="M876 221l10 3 11-8-9 0z"/>
<path color="#e8f328" d="M886 224l9 13 12-7-10-14z"/>
<path color="#e1f129" d="M895 237l10 20 11-10-9-17z"/>
<path color="#d9ef2a" d="M905 257l9 9 9 4 10 3 10 5 9 5 10 3 9 3 12-8-10-1-9-3-10-4-9-5-10-5-9-6-10-10z"/>
<path color="#ddf029" d="M971 289l10 0 12-9-10 1z"/>
<path color="#e1f129" d="M981 289l10-1 11-9-9 1z"/>
<path color="#e5f228" d="M991 288l9-4 12-6-10 1z"/>
<path color="#e8f328" d="M1000 284l10-2 12-4-10 0z"/>
<path color="#ebf328" d="M1010 282l10-2 12-3-10 1z"/>
<path color="#ecf428" d="M1020 280l10-1 11-5-9 3z"/>
<path color="#edf428" d="M1030 279l10-3 11-9-10 7z"/>
<path color="#eff428" d="M1040 276l9-7 12-10-10 8z"/>
<path color="#484848" d="M1049 269l10-9 10-9 10-7 10-9 10-14 10-21 10-24 10-12 12-6-10 12-10 22-10 20-10 15-10 10-10 8-10 7-10 7z"/>
<path color="#eb1e14" d="M1129 164l10 11 12-5-10-12z"/>
<path color="#ed2b14" d="M1139 175l11 35 11-5-10-35z"/>
<path color="#f4721a" d="M1150 210l10 50 11-4-10-51z"/>
<path color="#f4e028" d="M1160 260l10 58 12-6-11-56z"/>
<path color="#edf428" d="M1170 318l10 58 12-8-10-56z"/>
<path color="#d5ed2b" d="M1180 376l11 53 11-10-10-51z"/>
<path color="#97d92d" d="M1191 429l10 45 12-10-11-45z"/>
<path color="#46c33c" d="M1201 474l10 35 12-7-10-38z"/>
<path color="#44d78b" d="M1211 509l11 28 11-4-10-31z"/>
<path color="#59edc4" d="M1222 537l10 23 12-4-11-23z"/>
<path color="#6dfdea" d="M1232 560l10 19 12-7-10-16z"/>
<path color="#70fff0" d="M1242 579l11 13 10 9 11 5 10 5 11 4 11 4 10 3 11 0 12-7-11 0-11-2-10-3-11-4-10-6-11-7-10-9-11-12z"/>
<path color="#6dfdea" d="M1327 622l11-2 11-6-10 1z"/>
<path color="#66f7de" d="M1338 620l10-1 12-6-11 1z"/>
<path color="#60f2d1" d="M1348 619l11-1 12-6-11 1z"/>
<path color="#59edc4" d="M1359 618l11 2 11 6 11 8 11 8 11-7-10-7-11-7-11-7-11-2z"/>
<path color="#60f2d1" d="M1403 642l11 8 11 6 11 7 11-4-11-10-11-7-11-7z"/>
<path color="#66f7de" d="M1436 663l11 9 11 10 12-3-12-10-11-10z"/>
<path color="#6dfdea" d="M1458 682l11 12 12-7-11-8z"/>
<path color="#70fff0" d="M1469 694l11 10 11 10 12 8 11 9 11 10 12-6-11-11-12-10-11-10-11-8-11-9z"/>
<path color="#70fef0" d="M1525 741l11 11 12-7-11-10z"/>
<path color="#70fef1" d="M1536 752l12 11 11 10 12 9 11 7 12 8 11 8 12 9 11 8 12 6 12 5 11 3 12 4 12 6 12-5-12-6-12-6-11-4-12-5-12-7-11-8-12-9-12-7-11-7-12-8-11-9-11-10-12-10z"/>
<path class="k" d="M590 375l8 3 9 3 8 5 9 5 9 3 8 3 9 4 9 4 9 4 8 2 9 2 9-11 9-9 9-9 9-13 9-14 9-13 9-8 9-7 9-8 9-9 9-9 9-8 9-8 9-10 10-11 9-12 9-10 9-9 10-6 9-6 9-2 10 3 9 13 10 20 9 9 9 4 10 3 10 5 9 5 10 3 9 3 10 0 10-1 9-4 10-2 10-2 10-1 10-3 9-7 10-9 10-9 10-7 10-9 10-14 10-21 10-24 10-12 10 11 11 35 10 50 10 58 10 58 11 53 10 45 10 35 11 28 10 23 10 19 11 13 10 9 11 5 10 5 11 4 11 4 10 3 11 0 11-2 10-1 11-1 11 2 11 6 11 8 11 8 11 8 11 6 11 7 11 9 11 10 11 12 11 10 11 10 12 8 11 9 11 10 11 11 12 11 11 10 12 9 11 7 12 8 11 8 12 9 11 8 12 6 12 5 11 3 12 4 12 6"/>
<path color="#325cef" d="M578 381l9 2 11-5-8-3z"/>
<path color="#396df0" d="M587 383l8 4 9 4 8 5 9 5 9 4 9 3 8 2 9 4 9 4 9 4 11-9-9-2-8-2-9-4-9-4-9-4-8-3-9-3-9-5-8-5-9-3z"/>
<path color="#4582f0" d="M674 422l9 4 11-24-9 11z"/>
<path color="#5ec6f0" d="M683 426l8-10 12-23-9 9z"/>
<path color="#6ff8f1" d="M691 416l9-12 12-20-9 9z"/>
<path color="#70fcf2" d="M700 404l9-12 12-21-9 13z"/>
<path color="#70fdf1" d="M709 392l9-11 12-24-9 14z"/>
<path color="#70fef1" d="M718 381l9-13 9-13 12-19-9 8-9 13z"/>
<path color="#70fff0" d="M736 355l9-12 12-14-9 7z"/>
<path color="#6dfdea" d="M745 343l9-11 12-11-9 8z"/>
<path color="#59edc4" d="M754 332l9-8 12-12-9 9z"/>
<path color="#4be2aa" d="M763 324l9-7 12-14-9 9z"/>
<path color="#42d279" d="M772 317l9-6 12-16-9 8z"/>
<path color="#3ec755" d="M781 311l10-9 11-15-9 8z"/>
<path color="#54c639" d="M791 302l9-11 11-14-9 10z"/>
<path color="#484848" d="M800 291l9-13 9-14 9-13 10-7 11-9-9 9-9 10-9 12-10 11z"/>
<path color="#d9ef2a" d="M837 244l9-5 12-10-10 6z"/>
<path color="#e1f129" d="M846 239l9-3 12-13-9 6z"/>
<path color="#e5f228" d="M855 236l10-3 11-12-9 2z"/>
<path color="#e8f328" d="M865 233l9-2 9 5 12 1-9-13-10-3z"/>
<path color="#e1f129" d="M883 236l10 22 12-1-10-20z"/>
<path color="#d9ef2a" d="M893 258l9 12 10 7 9 6 10 4 9 3 10 4 10 2 11-7-9-3-10-3-9-5-10-5-10-3-9-4-9-9z"/>
<path color="#ddf029" d="M960 296l9-1 12-6-10 0z"/>
<path color="#e1f129" d="M969 295l10-3 12-4-10 1z"/>
<path color="#e5f228" d="M979 292l10-3 11-5-9 4z"/>
<path color="#e9f328" d="M989 289l9 0 12-7-10 2z"/>
<path color="#ebf328" d="M998 289l10 2 12-11-10 2z"/>
<path color="#ecf428" d="M1008 291l10-1 12-11-10 1z"/>
<path color="#edf428" d="M1018 290l10-4 12-10-10 3z"/>
<path color="#484848" d="M1028 286l10-10 10-11 10-10 9-8 10-8 10-12 10-18 11-22 10-12 11-11-10 12-10 24-10 21-10 14-10 9-10 7-10 9-10 9-9 7z"/>
<path color="#eb1e14" d="M1118 175l10 9 11-9-10-11z"/>
<path color="#ed2b14" d="M1128 184l10 33 12-7-11-35z"/>
<path color="#f4721a" d="M1138 217l10 49 12-6-10-50z"/>
<path color="#f5da28" d="M1148 266l10 58 12-6-10-58z"/>
<path color="#edf428" d="M1158 324l11 57 11-5-10-58z"/>
<path color="#d5ed2b" d="M1169 381l10 53 12-5-11-53z"/>
<path color="#97d92d" d="M1179 434l10 46 12-6-10-45z"/>
<path color="#46c33c" d="M1189 480l10 38 12-9-10-35z"/>
<path color="#44d78b" d="M1199 518l11 29 12-10-11-28z"/>
<path color="#59edc4" d="M1210 547l10 21 12-8-10-23z"/>
<path color="#66f7de" d="M1220 568l11 15 11-4-10-19z"/>
<path color="#70fff0" d="M1231 583l10 11 11 10 10 9 11 7 10 6 11 2 11-1 10-3 12-2-11 0-10-3-11-4-11-4-10-5-11-5-10-9-11-13z"/>
<path color="#6dfdea" d="M1315 624l11-1 12-3-11 2z"/>
<path color="#60f2d1" d="M1326 623l11 0 10 3 12-8-11 1-10 1z"/>
<path color="#59edc4" d="M1347 626l11 4 11 5 11 5 11 4 11 7 11 9 12-4-11-6-11-8-11-8-11-8-11-6-11-2z"/>
<path color="#60f2d1" d="M1413 660l11 10 11 11 12-9-11-9-11-7z"/>
<path color="#66f7de" d="M1435 681l11 10 12-9-11-10z"/>
<path color="#6dfdea" d="M1446 691l11 9 12-6-11-12z"/>
<path color="#70fff0" d="M1457 700l11 10 12 10 11 10 11 9 11 10 12-8-11-10-11-9-12-8-11-10-11-10z"/>
<path color="#70fef0" d="M1513 749l12 10 11-7-11-11z"/>
<path color="#70fef1" d="M1525 759l11 10 11 11 12 11 11 9 12 6 11 6 12 6 12 8 11 9 12 8 12 7 11 5 12 3 12-12-12-6-12-4-11-3-12-5-12-6-11-8-12-9-11-8-12-8-11-7-12-9-11-10-12-11z"/>
<path class="k" d="M578 381l9 2 8 4 9 4 8 5 9 5 9 4 9 3 8 2 9 4 9 4 9 4 9 4 8-10 9-12 9-12 9-11 9-13 9-13 9-12 9-11 9-8 9-7 9-6 10-9 9-11 9-13 9-14 9-13 10-7 9-5 9-3 10-3 9-2 9 5 10 22 9 12 10 7 9 6 10 4 9 3 10 4 10 2 9-1 10-3 10-3 9 0 10 2 10-1 10-4 10-10 10-11 10-10 9-8 10-8 10-12 10-18 11-22 10-12 10 9 10 33 10 49 10 58 11 57 10 53 10 46 10 38 11 29 10 21 11 15 10 11 11 10 10 9 11 7 10 6 11 2 11-1 10-3 11-1 11 0 10 3 11 4 11 5 11 5 11 4 11 7 11 9 11 10 11 11 11 10 11 9 11 10 12 10 11 10 11 9 11 10 12 10 11 10 11 11 12 11 11 9 12 6 11 6 12 6 12 8 11 9 12 8 12 7 11 5 12 3"/>
<path color="#325cef" d="M566 388l9 3 9 4 11-8-8-4-9-2z"/>
<path color="#396df0" d="M584 395l8 4 9 3 9 4 8 3 9 4 9 5 8 4 9 5 9 4 9 3 12-8-9-4-9-4-9-4-9-4-8-2-9-3-9-4-9-5-8-5-9-4z"/>
<path color="#4582f0" d="M671 434l9 3 11-21-8 10z"/>
<path color="#5ec6f0" d="M680 437l9-11 11-22-9 12z"/>
<path color="#6ff8f1" d="M689 426l9-13 11-21-9 12z"/>
<path color="#70fdf2" d="M698 413l8-13 12-19-9 11z"/>
<path color="#70fdf1" d="M706 400l9-12 12-20-9 13z"/>
<path color="#70fef1" d="M715 388l9-13 9-12 12-20-9 12-9 13z"/>
<path color="#70fff0" d="M733 363l9-12 12-19-9 11z"/>
<path color="#66f7de" d="M742 351l10-10 11-17-9 8z"/>
<path color="#52e8b7" d="M752 341l9-10 11-14-9 7z"/>
<path color="#46dd9c" d="M761 331l9-9 11-11-9 6z"/>
<path color="#484848" d="M770 322l9-10 9-10 9-11 9-13 10-12 11-15-9 13-9 14-9 13-9 11-10 9z"/>
<path color="#cdeb2c" d="M816 266l9-10 12-12-10 7z"/>
<path color="#d5ed2b" d="M825 256l9-8 12-9-9 5z"/>
<path color="#ddf029" d="M834 248l10-6 11-6-9 3z"/>
<path color="#e5f228" d="M844 242l9-4 12-5-10 3z"/>
<path color="#e8f328" d="M853 238l9-1 12-6-9 2z"/>
<path color="#e9f328" d="M862 237l10 3 11-4-9-5z"/>
<path color="#e5f228" d="M872 240l9 25 12-7-10-22z"/>
<path color="#ddf029" d="M881 265l10 13 11-8-9-12z"/>
<path color="#d9ef2a" d="M891 278l9 7 12-8-10-7z"/>
<path color="#d5ed2b" d="M900 285l10 3 11-5-9-6z"/>
<path color="#d9ef2a" d="M910 288l9 3 10 4 9 5 10 3 12-7-10-2-10-4-9-3-10-4z"/>
<path color="#ddf029" d="M948 303l10 1 11-9-9 1z"/>
<path color="#e1f129" d="M958 304l9-2 12-10-10 3z"/>
<path color="#e5f228" d="M967 302l10-4 12-9-10 3z"/>
<path color="#e9f328" d="M977 298l10-2 11-7-9 0z"/>
<path color="#ebf328" d="M987 296l9-1 10-1 12-4-10 1-10-2z"/>
<path color="#484848" d="M1006 294l10-4 10-7 10-9 10-8 12-11-10 10-10 11-10 10-10 4z"/>
<path color="#f4e028" d="M1046 266l10-8 11-11-9 8z"/>
<path color="#484848" d="M1056 258l10-10 10-15 10-20 10-22 10-12 12-4-10 12-11 22-10 18-10 12-10 8z"/>
<path color="#eb1e14" d="M1106 179l10 12 12-7-10-9z"/>
<path color="#ed2b14" d="M1116 191l10 35 12-9-10-33z"/>
<path color="#f4721a" d="M1126 226l10 49 12-9-10-49z"/>
<path color="#f4e028" d="M1136 275l11 56 11-7-10-58z"/>
<path color="#edf428" d="M1147 331l10 56 12-6-11-57z"/>
<path color="#d5ed2b" d="M1157 387l10 52 12-5-10-53z"/>
<path color="#97d92d" d="M1167 439l10 46 12-5-10-46z"/>
<path color="#46c33c" d="M1177 485l11 39 11-6-10-38z"/>
<path color="#44d78b" d="M1188 524l10 31 12-8-11-29z"/>
<path color="#59edc4" d="M1198 555l10 23 12-10-10-21z"/>
<path color="#66f7de" d="M1208 578l11 15 12-10-11-15z"/>
<path color="#70fff0" d="M1219 593l10 9 11 8 10 7 11 7 10 5 11 4 11 1 12-7-11 1-11-2-10-6-11-7-10-9-11-10-10-11z"/>
<path color="#6dfdea" d="M1293 634l10-1 12-9-10 3z"/>
<path color="#66f7de" d="M1303 633l11-2 12-8-11 1z"/>
<path color="#60f2d1" d="M1314 631l11-1 12-7-11 0z"/>
<path color="#59edc4" d="M1325 630l11 1 10 3 11 5 11 6 11 7 11 7 11 8 12-7-11-9-11-7-11-4-11-5-11-5-11-4-10-3z"/>
<path color="#60f2d1" d="M1401 667l11 9 11 10 12-5-11-11-11-10z"/>
<path color="#66f7de" d="M1423 686l11 10 12-5-11-10z"/>
<path color="#6dfdea" d="M1434 696l11 11 12-7-11-9z"/>
<path color="#70fff0" d="M1445 707l11 10 12 10 11 9 11 10 11 10 12-7-11-10-11-9-11-10-12-10-11-10z"/>
<path color="#70fef0" d="M1501 756l12 10 12-7-12-10z"/>
<path color="#70fef1" d="M1513 766l11 11 12 11 11 10 12 8 11 8 12 7 11 7 12 7 11 8 12 7 12-7-12-8-11-9-12-8-12-6-11-6-12-6-11-9-12-11-11-11-11-10z"/>
<path color="#70fdf1" d="M1628 850l12 7 12 6 11-8-11-5-12-7z"/>
<path color="#70fef1" d="M1652 863l11 5 12-10-12-3z"/>
<path class="k" d="M566 388l9 3 9 4 8 4 9 3 9 4 8 3 9 4 9 5 8 4 9 5 9 4 9 3 9 3 9-11 9-13 8-13 9-12 9-13 9-12 9-12 10-10 9-10 9-9 9-10 9-10 9-11 9-13 10-12 9-10 9-8 10-6 9-4 9-1 10 3 9 25 10 13 9 7 10 3 9 3 10 4 9 5 10 3 10 1 9-2 10-4 10-2 9-1 10-1 10-4 10-7 10-9 10-8 10-8 10-10 10-15 10-20 10-22 10-12 10 12 10 35 10 49 11 56 10 56 10 52 10 46 11 39 10 31 10 23 11 15 10 9 11 8 10 7 11 7 10 5 11 4 11 1 10-1 11-2 11-1 11 1 10 3 11 5 11 6 11 7 11 7 11 8 11 9 11 10 11 10 11 11 11 10 12 10 11 9 11 10 11 10 12 10 11 11 12 11 11 10 12 8 11 8 12 7 11 7 12 7 11 8 12 7 12 7 12 6 11 5"/>
<path color="#325cef" d="M555 393l8 3 9 3 12-4-9-4-9-3z"/>
<path color="#396df0" d="M572 399l9 4 8 4 9 5 9 4 8 5 9 5 9 4 9 4 8 4 9 3 9 4 12-8-9-3-9-3-9-4-9-5-8-4-9-5-9-4-8-3-9-4-9-3-8-4z"/>
<path color="#4582f0" d="M668 445l9 4 12-23-9 11z"/>
<path color="#5ec6f0" d="M677 449l9-12 12-24-9 13z"/>
<path color="#70fbf2" d="M686 437l9-14 11-23-8 13z"/>
<path color="#70fdf2" d="M695 423l9-14 11-21-9 12z"/>
<path color="#70fdf1" d="M704 409l9-14 11-20-9 13z"/>
<path color="#70fef1" d="M713 395l9-13 11-19-9 12z"/>
<path color="#70fef0" d="M722 382l9-13 11-18-9 12z"/>
<path color="#70fff0" d="M731 369l9-12 12-16-10 10z"/>
<path color="#60f2d1" d="M740 357l9-12 12-14-9 10z"/>
<path color="#4be2aa" d="M749 345l9-10 12-13-9 9z"/>
<path color="#42d279" d="M758 335l9-10 12-13-9 10z"/>
<path color="#484848" d="M767 325l9-10 10-11 9-13 9-13 9-11 12-11-9 10-10 12-9 13-9 11-9 10z"/>
<path color="#d5ed2b" d="M813 267l10-8 11-11-9 8z"/>
<path color="#ddf029" d="M823 259l9-6 12-11-10 6z"/>
<path color="#e5f228" d="M832 253l9-4 12-11-9 4z"/>
<path color="#e8f328" d="M841 249l10-3 11-9-9 1z"/>
<path color="#e9f328" d="M851 246l9-1 12-5-10-3z"/>
<path color="#e5f228" d="M860 245l9 22 12-2-9-25z"/>
<path color="#ddf029" d="M869 267l10 14 12-3-10-13z"/>
<path color="#d9ef2a" d="M879 281l9 8 10 5 9 5 10 4 10 3 9 3 12-6-10-3-9-5-10-4-9-3-10-3-9-7z"/>
<path color="#ddf029" d="M936 309l10 1 12-6-10-1z"/>
<path color="#e1f129" d="M946 310l10-1 11-7-9 2z"/>
<path color="#e5f228" d="M956 309l9-2 12-9-10 4z"/>
<path color="#e8f328" d="M965 307l10-2 12-9-10 2z"/>
<path color="#e9f328" d="M975 305l10-1 11-9-9 1z"/>
<path color="#ebf328" d="M985 304l10-2 11-8-10 1z"/>
<path color="#edf428" d="M995 302l9-5 12-7-10 4z"/>
<path color="#484848" d="M1004 297l10-8 10-7 10-8 10-8 10-12 10-15 10-21 10-22 10-10 12-7-10 12-10 22-10 20-10 15-10 10-10 8-10 8-10 9-10 7z"/>
<path color="#eb1e14" d="M1094 186l10 12 12-7-10-12z"/>
<path color="#ed2b14" d="M1104 198l10 35 12-7-10-35z"/>
<path color="#f4721a" d="M1114 233l10 50 12-8-10-49z"/>
<path color="#f4e028" d="M1124 283l11 58 12-10-11-56z"/>
<path color="#edf428" d="M1135 341l10 57 12-11-10-56z"/>
<path color="#d5ed2b" d="M1145 398l10 52 12-11-10-52z"/>
<path color="#97d92d" d="M1155 450l11 45 11-10-10-46z"/>
<path color="#46c33c" d="M1166 495l10 36 12-7-11-39z"/>
<path color="#44d78b" d="M1176 531l10 28 12-4-10-31z"/>
<path color="#59edc4" d="M1186 559l11 21 11-2-10-23z"/>
<path color="#66f7de" d="M1197 580l10 16 12-3-11-15z"/>
<path color="#70fff0" d="M1207 596l10 12 11 10 10 7 11 6 11 5 10 2 11 2 12-6-11-1-11-4-10-5-11-7-10-7-11-8-10-9z"/>
<path color="#6dfdea" d="M1281 640l11 0 11-7-10 1z"/>
<path color="#66f7de" d="M1292 640l10-2 12-7-11 2z"/>
<path color="#60f2d1" d="M1302 638l11-1 12-7-11 1z"/>
<path color="#59edc4" d="M1313 637l11-1 12-5-11-1z"/>
<path color="#52e8b7" d="M1324 636l11 2 10 5 11 7 11 8 12-6-11-7-11-6-11-5-10-3z"/>
<path color="#59edc4" d="M1367 658l11 9 11 9 12-9-11-8-11-7z"/>
<path color="#60f2d1" d="M1389 676l11 9 11 9 12-8-11-10-11-9z"/>
<path color="#66f7de" d="M1411 694l11 8 12-6-11-10z"/>
<path color="#6dfdea" d="M1422 702l11 10 12 9 11-4-11-10-11-11z"/>
<path color="#70fff0" d="M1445 721l11 10 11 11 11 11 12 11 11-8-11-10-11-10-11-9-12-10z"/>
<path color="#70fef0" d="M1490 764l11 11 12-9-12-10z"/>
<path color="#70fef1" d="M1501 775l11 11 12 10 11 9 12 9 11 8 12 8 11 7 12 8 12 7 11 7 12-9-12-7-11-8-12-7-11-7-12-7-11-8-12-8-11-10-12-11-11-11z"/>
<path color="#70fdf1" d="M1616 859l12 6 12 6 12-8-12-6-12-7z"/>
<path color="#70fef1" d="M1640 871l12 5 11-8-11-5z"/>
<path class="k" d="M555 393l8 3 9 3 9 4 8 4 9 5 9 4 8 5 9 5 9 4 9 4 8 4 9 3 9 4 9 4 9-12 9-14 9-14 9-14 9-13 9-13 9-12 9-12 9-10 9-10 9-10 10-11 9-13 9-13 9-11 10-8 9-6 9-4 10-3 9-1 9 22 10 14 9 8 10 5 9 5 10 4 10 3 9 3 10 1 10-1 9-2 10-2 10-1 10-2 9-5 10-8 10-7 10-8 10-8 10-12 10-15 10-21 10-22 10-10 10 12 10 35 10 50 11 58 10 57 10 52 11 45 10 36 10 28 11 21 10 16 10 12 11 10 10 7 11 6 11 5 10 2 11 2 11 0 10-2 11-1 11-1 11 2 10 5 11 7 11 8 11 9 11 9 11 9 11 9 11 8 11 10 12 9 11 10 11 11 11 11 12 11 11 11 11 11 12 10 11 9 12 9 11 8 12 8 11 7 12 8 12 7 11 7 12 6 12 6 12 5"/>
<path color="#325cef" d="M543 402l9 5 8 4 9 5 9 3 11-12-8-4-9-4-9-3-8-3z"/>
<path color="#396df0" d="M578 419l8 3 9 3 9 2 8 3 9 2 9 4 9 4 9 5 8 5 9 6 12-7-9-4-9-4-9-3-8-4-9-4-9-4-9-5-8-5-9-4-9-5z"/>
<path color="#4582f0" d="M665 456l9 5 12-24-9 12z"/>
<path color="#5ec6f0" d="M674 461l9-12 12-26-9 14z"/>
<path color="#70fbf2" d="M683 449l9-14 12-26-9 14z"/>
<path color="#70fdf2" d="M692 435l9-15 12-25-9 14z"/>
<path color="#70fdf1" d="M701 420l9-15 12-23-9 13z"/>
<path color="#70fef1" d="M710 405l9-14 12-22-9 13z"/>
<path color="#70fff0" d="M719 391l9-15 12-19-9 12z"/>
<path color="#6dfdea" d="M728 376l9-14 12-17-9 12z"/>
<path color="#52e8b7" d="M737 362l9-13 12-14-9 10z"/>
<path color="#484848" d="M746 349l9-12 10-12 9-12 9-13 9-13 10-10 11-10-9 11-9 13-9 13-10 11-9 10-9 10z"/>
<path color="#d1ec2b" d="M802 277l9-7 12-11-10 8z"/>
<path color="#d9ef2a" d="M811 270l9-6 12-11-9 6z"/>
<path color="#e1f129" d="M820 264l9-4 12-11-9 4z"/>
<path color="#e5f228" d="M829 260l10-3 12-11-10 3z"/>
<path color="#e8f328" d="M839 257l9-2 12-10-9 1z"/>
<path color="#e5f228" d="M848 255l10 19 11-7-9-22z"/>
<path color="#ddf029" d="M858 274l9 14 12-7-10-14z"/>
<path color="#d9ef2a" d="M867 288l10 6 9 5 10 3 9 4 10 5 9 4 12-6-9-3-10-3-10-4-9-5-10-5-9-8z"/>
<path color="#ddf029" d="M924 315l10 2 12-7-10-1z"/>
<path color="#e1f129" d="M934 317l10 1 12-9-10 1z"/>
<path color="#e5f228" d="M944 318l9-1 12-10-9 2z"/>
<path color="#e8f328" d="M953 317l10-1 12-11-10 2z"/>
<path color="#e9f328" d="M963 316l10-1 12-11-10 1z"/>
<path color="#ebf328" d="M973 315l10-4 12-9-10 2z"/>
<path color="#edf428" d="M983 311l10-7 11-7-9 5z"/>
<path color="#484848" d="M993 304l9-9 10-9 10-8 10-9 10-10 10-14 10-19 10-20 10-10 12-10-10 10-10 22-10 21-10 15-10 12-10 8-10 8-10 7-10 8z"/>
<path color="#eb1e14" d="M1082 196l10 12 12-10-10-12z"/>
<path color="#ee3114" d="M1092 208l10 35 12-10-10-35z"/>
<path color="#f4721a" d="M1102 243l11 49 11-9-10-50z"/>
<path color="#f4e028" d="M1113 292l10 56 12-7-11-58z"/>
<path color="#edf428" d="M1123 348l10 56 12-6-10-57z"/>
<path color="#d5ed2b" d="M1133 404l10 51 12-5-10-52z"/>
<path color="#97d92d" d="M1143 455l11 44 12-4-11-45z"/>
<path color="#46c33c" d="M1154 499l10 36 12-4-10-36z"/>
<path color="#44d78b" d="M1164 535l10 28 12-4-10-28z"/>
<path color="#52e8b7" d="M1174 563l11 22 12-5-11-21z"/>
<path color="#66f7de" d="M1185 585l10 17 12-6-10-16z"/>
<path color="#6dfdea" d="M1195 602l11 13 11-7-10-12z"/>
<path color="#70fff0" d="M1206 615l10 10 11 8 10 6 11 5 10 3 11 1 12-8-11-2-10-2-11-5-11-6-10-7-11-10z"/>
<path color="#6dfdea" d="M1269 648l11-1 12-7-11 0z"/>
<path color="#66f7de" d="M1280 647l10-2 12-7-10 2z"/>
<path color="#60f2d1" d="M1290 645l11-2 12-6-11 1z"/>
<path color="#59edc4" d="M1301 643l11-2 12-5-11 1z"/>
<path color="#52e8b7" d="M1312 641l11 0 12-3-11-2z"/>
<path color="#4be2aa" d="M1323 641l11 4 10 7 12-2-11-7-10-5z"/>
<path color="#52e8b7" d="M1344 652l11 9 11 9 12-3-11-9-11-8z"/>
<path color="#59edc4" d="M1366 670l11 11 12-5-11-9z"/>
<path color="#60f2d1" d="M1377 681l11 10 11 11 12-8-11-9-11-9z"/>
<path color="#66f7de" d="M1399 702l11 10 12-10-11-8z"/>
<path color="#6dfdea" d="M1410 712l12 10 11 9 12-10-12-9-11-10z"/>
<path color="#70fff0" d="M1433 731l11 9 11 9 11 9 12 10 12-4-12-11-11-11-11-11-11-10z"/>
<path color="#70fef0" d="M1478 768l11 10 12-3-11-11z"/>
<path color="#70fef1" d="M1489 778l11 12 12 11 11 11 12 11 11 10 12 9 11 7 12 7 12-11-12-8-11-7-12-8-11-8-12-9-11-9-12-10-11-11z"/>
<path color="#70fdf1" d="M1581 856l12 6 11 5 12 5 12-7-12-6-11-7-12-7z"/>
<path color="#70fef1" d="M1616 872l12 4 12 5 12-5-12-5-12-6z"/>
<path class="k" d="M543 402l9 5 8 4 9 5 9 3 8 3 9 3 9 2 8 3 9 2 9 4 9 4 9 5 8 5 9 6 9 5 9-12 9-14 9-15 9-15 9-14 9-15 9-14 9-13 9-12 10-12 9-12 9-13 9-13 10-10 9-7 9-6 9-4 10-3 9-2 10 19 9 14 10 6 9 5 10 3 9 4 10 5 9 4 10 2 10 1 9-1 10-1 10-1 10-4 10-7 9-9 10-9 10-8 10-9 10-10 10-14 10-19 10-20 10-10 10 12 10 35 11 49 10 56 10 56 10 51 11 44 10 36 10 28 11 22 10 17 11 13 10 10 11 8 10 6 11 5 10 3 11 1 11-1 10-2 11-2 11-2 11 0 11 4 10 7 11 9 11 9 11 11 11 10 11 11 11 10 12 10 11 9 11 9 11 9 11 9 12 10 11 10 11 12 12 11 11 11 12 11 11 10 12 9 11 7 12 7 12 6 11 5 12 5 12 4 12 5"/>
<path color="#325cef" d="M532 408l8 3 9 4 8 4 9 5 9 4 8 3 12-6-9-3-8-3-9-3-9-5-8-4-9-5z"/>
<path color="#396df0" d="M583 431l9 3 9 3 8 3 9 5 9 6 9 5 9 5 9 3 11-8-9-6-8-5-9-5-9-4-9-4-9-2-8-3-9-2z"/>
<path color="#3f79f0" d="M654 464l8 2 12-5-9-5z"/>
<path color="#4582f0" d="M662 466l9 1 12-18-9 12z"/>
<path color="#484848" d="M671 467l9-17 9-15 9-13 12-17-9 15-9 15-9 14z"/>
<path color="#70fdf1" d="M698 422l9-12 12-19-9 14z"/>
<path color="#70fef1" d="M707 410l9-12 12-22-9 15z"/>
<path color="#70fff0" d="M716 398l9-13 12-23-9 14z"/>
<path color="#66f7de" d="M725 385l10-15 11-21-9 13z"/>
<path color="#4be2aa" d="M735 370l9-14 11-19-9 12z"/>
<path color="#42d279" d="M744 356l9-14 12-17-10 12z"/>
<path color="#484848" d="M753 342l9-15 9-14 9-15 10-12 9-9 9-7 10-5 11-5-9 4-9 6-9 7-10 10-9 13-9 13-9 12z"/>
<path color="#e5f228" d="M818 265l9-3 12-5-10 3z"/>
<path color="#e8f328" d="M827 262l9 0 12-7-9 2z"/>
<path color="#e5f228" d="M836 262l10 17 12-5-10-19z"/>
<path color="#ddf029" d="M846 279l9 16 12-7-9-14z"/>
<path color="#d9ef2a" d="M855 295l10 8 9 4 10 4 9 4 10 5 10 5 9 2 12-10-10-2-9-4-10-5-9-4-10-3-9-5-10-6z"/>
<path color="#ddf029" d="M922 327l10-2 12-7-10-1z"/>
<path color="#e1f129" d="M932 325l10-4 11-4-9 1z"/>
<path color="#e8f328" d="M942 321l9-3 12-2-10 1z"/>
<path color="#484848" d="M951 318l10-3 10-3 10-3 10-5 11-9-9 9-10 7-10 4-10 1z"/>
<path color="#f2f528" d="M991 304l9-6 12-12-10 9z"/>
<path color="#f3f028" d="M1000 298l10-7 12-13-10 8z"/>
<path color="#f4e028" d="M1010 291l10-9 12-13-10 9z"/>
<path color="#484848" d="M1020 282l10-13 10-16 10-21 10-21 10-9 12-6-10 10-10 20-10 19-10 14-10 10z"/>
<path color="#eb1e14" d="M1070 202l10 12 12-6-10-12z"/>
<path color="#ee3114" d="M1080 214l11 34 11-5-10-35z"/>
<path color="#f4821c" d="M1091 248l10 49 12-5-11-49z"/>
<path color="#f4e028" d="M1101 297l10 56 12-5-10-56z"/>
<path color="#edf428" d="M1111 353l10 56 12-5-10-56z"/>
<path color="#d5ed2b" d="M1121 409l10 53 12-7-10-51z"/>
<path color="#97d92d" d="M1131 462l11 46 12-9-11-44z"/>
<path color="#46c33c" d="M1142 508l10 37 12-10-10-36z"/>
<path color="#44d78b" d="M1152 545l10 28 12-10-10-28z"/>
<path color="#52e8b7" d="M1162 573l11 21 12-9-11-22z"/>
<path color="#66f7de" d="M1173 594l10 14 12-6-10-17z"/>
<path color="#6dfdea" d="M1183 608l11 12 12-5-11-13z"/>
<path color="#70fff0" d="M1194 620l10 10 11 9 10 7 11 4 10 2 11-1 12-3-11-1-10-3-11-5-10-6-11-8-10-10z"/>
<path color="#6dfdea" d="M1257 651l11-2 12-2-11 1z"/>
<path color="#66f7de" d="M1268 649l10-1 12-3-10 2z"/>
<path color="#60f2d1" d="M1278 648l11 0 12-5-11 2z"/>
<path color="#52e8b7" d="M1289 648l11 1 11 2 12-10-11 0-11 2z"/>
<path color="#4be2aa" d="M1311 651l11 5 11 5 10 6 12-6-11-9-10-7-11-4z"/>
<path color="#52e8b7" d="M1343 667l11 8 11 9 12-3-11-11-11-9z"/>
<path color="#59edc4" d="M1365 684l11 11 12-4-11-10z"/>
<path color="#60f2d1" d="M1376 695l11 11 12-4-11-11z"/>
<path color="#66f7de" d="M1387 706l12 10 11 10 12-4-12-10-11-10z"/>
<path color="#6dfdea" d="M1410 726l11 9 12-4-11-9z"/>
<path color="#70fff0" d="M1421 735l11 9 11 11 12 12 11 13 12-12-12-10-11-9-11-9-11-9z"/>
<path color="#70fef0" d="M1466 780l11 12 12-14-11-10z"/>
<path color="#70fef1" d="M1477 792l11 10 12 9 11 8 12 8 11 8 12 10 11 10 12-6-11-7-12-9-11-10-12-11-11-11-12-11-11-12z"/>
<path color="#70fdf1" d="M1557 855l12 9 12 7 11 5 12 5 12-9-12-5-11-5-12-6-12-7z"/>
<path color="#70fef1" d="M1604 881l12 4 12 6 12-10-12-5-12-4z"/>
<path class="k" d="M532 408l8 3 9 4 8 4 9 5 9 4 8 3 9 3 9 3 8 3 9 5 9 6 9 5 9 5 9 3 8 2 9 1 9-17 9-15 9-13 9-12 9-12 9-13 10-15 9-14 9-14 9-15 9-14 9-15 10-12 9-9 9-7 10-5 9-3 9 0 10 17 9 16 10 8 9 4 10 4 9 4 10 5 10 5 9 2 10-2 10-4 9-3 10-3 10-3 10-3 10-5 9-6 10-7 10-9 10-13 10-16 10-21 10-21 10-9 10 12 11 34 10 49 10 56 10 56 10 53 11 46 10 37 10 28 11 21 10 14 11 12 10 10 11 9 10 7 11 4 10 2 11-1 11-2 10-1 11 0 11 1 11 2 11 5 11 5 10 6 11 8 11 9 11 11 11 11 12 10 11 10 11 9 11 9 11 11 12 12 11 13 11 12 11 10 12 9 11 8 12 8 11 8 12 10 11 10 12 9 12 7 11 5 12 5 12 4 12 6"/>
<path color="#325cef" d="M520 415l8 5 9 3 9 2 8 3 12-4-9-5-8-4-9-4-8-3z"/>
<path color="#396df0" d="M554 428l9 4 8 5 9 5 9 6 9 5 8 4 9 4 9 2 9 1 9 1 9 2 11-1-8-2-9-3-9-5-9-5-9-6-9-5-8-3-9-3-9-3-8-3-9-4z"/>
<path color="#3f79f0" d="M651 467l9 4 11-4-9-1z"/>
<path color="#4a8bf0" d="M660 471l9 4 11-25-9 17z"/>
<path color="#6ef5f1" d="M669 475l9-13 11-27-9 15z"/>
<path color="#70fcf2" d="M678 462l9-13 11-27-9 13z"/>
<path color="#70fdf1" d="M687 449l9-16 11-23-9 12z"/>
<path color="#70fef1" d="M696 433l9-18 11-17-9 12z"/>
<path color="#484848" d="M705 415l9-18 9-17 9-13 9-10 12-15-9 14-9 14-10 15-9 13z"/>
<path color="#3ec755" d="M741 357l9-10 12-20-9 15z"/>
<path color="#54c639" d="M750 347l9-13 12-21-9 14z"/>
<path color="#8ad52d" d="M759 334l10-17 11-19-9 15z"/>
<path color="#484848" d="M769 317l9-16 9-14 9-11 10-7 12-4-10 5-9 7-9 9-10 12z"/>
<path color="#e5f228" d="M806 269l9-3 12-4-9 3z"/>
<path color="#e8f328" d="M815 266l10 0 9 16 12-3-10-17-9 0z"/>
<path color="#ddf029" d="M834 282l9 19 12-6-9-16z"/>
<path color="#d9ef2a" d="M843 301l10 10 12-8-10-8z"/>
<path color="#d5ed2b" d="M853 311l9 5 12-9-9-4z"/>
<path color="#d9ef2a" d="M862 316l10 4 10 3 9 3 10 3 9 3 12-5-9-2-10-5-10-5-9-4-10-4z"/>
<path color="#ddf029" d="M910 332l10 1 12-8-10 2z"/>
<path color="#e1f129" d="M920 333l10 1 12-13-10 4z"/>
<path color="#e5f228" d="M930 334l9-1 12-15-9 3z"/>
<path color="#e9f328" d="M939 333l10-3 12-15-10 3z"/>
<path color="#ebf328" d="M949 330l10-7 12-11-10 3z"/>
<path color="#484848" d="M959 323l10-10 10-11 10-7 9-3 10-3 10-7 10-16 10-23 10-25 10-13 12-3-10 9-10 21-10 21-10 16-10 13-10 9-10 7-9 6-10 5-10 3z"/>
<path color="#eb1e14" d="M1058 205l11 12 11-3-10-12z"/>
<path color="#ee3114" d="M1069 217l10 37 12-6-11-34z"/>
<path color="#f4821c" d="M1079 254l10 53 12-10-10-49z"/>
<path color="#f4e028" d="M1089 307l10 59 12-13-10-56z"/>
<path color="#ecf428" d="M1099 366l10 56 12-13-10-56z"/>
<path color="#d5ed2b" d="M1109 422l11 51 11-11-10-53z"/>
<path color="#97d92d" d="M1120 473l10 42 12-7-11-46z"/>
<path color="#46c33c" d="M1130 515l10 35 12-5-10-37z"/>
<path color="#44d78b" d="M1140 550l11 27 11-4-10-28z"/>
<path color="#52e8b7" d="M1151 577l10 21 12-4-11-21z"/>
<path color="#60f2d1" d="M1161 598l10 16 12-6-10-14z"/>
<path color="#6dfdea" d="M1171 614l11 12 12-6-11-12z"/>
<path color="#70fff0" d="M1182 626l10 11 11 8 10 6 11 3 11 1 11-3-10-2-11-4-10-7-11-9-10-10z"/>
<path color="#6dfdea" d="M1235 655l10-1 12-3-11 1z"/>
<path color="#66f7de" d="M1245 654l11 0 12-5-11 2z"/>
<path color="#60f2d1" d="M1256 654l11 2 11-8-10 1z"/>
<path color="#59edc4" d="M1267 656l10 3 11 2 12-12-11-1-11 0z"/>
<path color="#52e8b7" d="M1288 661l11 2 11 2 12-9-11-5-11-2z"/>
<path color="#4be2aa" d="M1310 665l11 0 11 3 10 6 11 10 12 0-11-9-11-8-10-6-11-5z"/>
<path color="#52e8b7" d="M1353 684l11 14 12-3-11-11z"/>
<path color="#59edc4" d="M1364 698l12 14 11-6-11-11z"/>
<path color="#60f2d1" d="M1376 712l11 13 12-9-12-10z"/>
<path color="#66f7de" d="M1387 725l11 10 12-9-11-10z"/>
<path color="#6dfdea" d="M1398 735l11 8 11 8 12-7-11-9-11-9z"/>
<path color="#70fff0" d="M1420 751l11 10 12 12 11 12 12-5-11-13-12-12-11-11z"/>
<path color="#70fef0" d="M1454 785l11 13 12-6-11-12z"/>
<path color="#70fef1" d="M1465 798l12 13 11 11 11 10 12 9 11 7 12 5 12 5 11 7 12 8 12-2-12-7-12-9-11-10-12-10-11-8-12-8-11-8-12-9-11-10z"/>
<path color="#70fdf1" d="M1569 873l11 10 12 9 12 7 12-14-12-4-12-5-11-5z"/>
<path color="#70fef1" d="M1604 899l12 3 12-11-12-6z"/>
<path class="k" d="M520 415l8 5 9 3 9 2 8 3 9 4 8 5 9 5 9 6 9 5 8 4 9 4 9 2 9 1 9 1 9 2 9 4 9 4 9-13 9-13 9-16 9-18 9-18 9-17 9-13 9-10 9-10 9-13 10-17 9-16 9-14 9-11 10-7 9-3 10 0 9 16 9 19 10 10 9 5 10 4 10 3 9 3 10 3 9 3 10 1 10 1 9-1 10-3 10-7 10-10 10-11 10-7 9-3 10-3 10-7 10-16 10-23 10-25 10-13 11 12 10 37 10 53 10 59 10 56 11 51 10 42 10 35 11 27 10 21 10 16 11 12 10 11 11 8 10 6 11 3 11 1 10-1 11 0 11 2 10 3 11 2 11 2 11 2 11 0 11 3 10 6 11 10 11 14 12 14 11 13 11 10 11 8 11 8 11 10 12 12 11 12 11 13 12 13 11 11 11 10 12 9 11 7 12 5 12 5 11 7 12 8 11 10 12 9 12 7 12 3"/>
<path color="#325cef" d="M508 421l9 5 8 4 9 3 8 1 12-6-8-3-9-2-9-3-8-5z"/>
<path color="#396df0" d="M542 434l9 2 9 5 8 6 9 7 9 4 9 3 8 4 9 6 9 4 9 2 9 1 12-11-9-2-9-1-9-1-9-2-9-4-8-4-9-5-9-6-9-5-8-5-9-4z"/>
<path color="#3f79f0" d="M639 478l9 2 12-9-9-4z"/>
<path color="#4582f0" d="M648 480l9 6 12-11-9-4z"/>
<path color="#4a8bf0" d="M657 486l9-1 12-23-9 13z"/>
<path color="#6ef5f1" d="M666 485l9-16 12-20-9 13z"/>
<path color="#484848" d="M675 469l9-18 9-18 9-16 12-20-9 18-9 18-9 16z"/>
<path color="#70fff0" d="M702 417l9-14 12-23-9 17z"/>
<path color="#66f7de" d="M711 403l9-13 12-23-9 13z"/>
<path color="#52e8b7" d="M720 390l9-16 12-17-9 10z"/>
<path color="#484848" d="M729 374l9-19 10-20 9-15 9-10 9-8 12-15-9 14-9 16-10 17-9 13-9 10z"/>
<path color="#d1ec2b" d="M775 302l10-9 11-17-9 11z"/>
<path color="#ddf029" d="M785 293l9-9 12-15-10 7z"/>
<path color="#e5f228" d="M794 284l9-5 12-13-9 3z"/>
<path color="#e8f328" d="M803 279l10-1 9 12 12-8-9-16-10 0z"/>
<path color="#e1f129" d="M822 290l10 18 11-7-9-19z"/>
<path color="#d9ef2a" d="M832 308l9 6 10 3 9 6 10 7 9 7 10 3 9-2 12-6-9-3-10-3-9-3-10-3-10-4-9-5-10-10z"/>
<path color="#ddf029" d="M898 338l10-3 12-2-10-1z"/>
<path color="#e1f129" d="M908 335l10-1 12 0-10-1z"/>
<path color="#e5f228" d="M918 334l10 1 11-2-9 1z"/>
<path color="#e8f328" d="M928 335l9-1 12-4-10 3z"/>
<path color="#484848" d="M937 334l10-4 10-8 12-9-10 10-10 7z"/>
<path color="#eff428" d="M957 322l10-7 12-13-10 11z"/>
<path color="#f3f528" d="M967 315l10-4 12-16-10 7z"/>
<path color="#f3f028" d="M977 311l9-5 12-14-9 3z"/>
<path color="#f4e528" d="M986 306l10-7 12-10-10 3z"/>
<path color="#484848" d="M996 299l10-13 10-16 10-20 10-22 10-13 12-10-10 13-10 25-10 23-10 16-10 7z"/>
<path color="#eb1e14" d="M1046 215l11 9 12-7-11-12z"/>
<path color="#ed2b14" d="M1057 224l10 33 12-3-10-37z"/>
<path color="#f4721a" d="M1067 257l10 52 12-2-10-53z"/>
<path color="#f4e028" d="M1077 309l10 60 12-3-10-59z"/>
<path color="#ecf428" d="M1087 369l10 59 12-6-10-56z"/>
<path color="#d1ec2b" d="M1097 428l11 51 12-6-11-51z"/>
<path color="#97d92d" d="M1108 479l10 42 12-6-10-42z"/>
<path color="#46c33c" d="M1118 521l10 35 12-6-10-35z"/>
<path color="#44d78b" d="M1128 556l11 31 12-10-11-27z"/>
<path color="#52e8b7" d="M1139 587l10 24 12-13-10-21z"/>
<path color="#66f7de" d="M1149 611l10 16 12-13-10-16z"/>
<path color="#6dfdea" d="M1159 627l11 8 12-9-11-12z"/>
<path color="#70fff0" d="M1170 635l10 5 11 7 10 10 11 8 11 3 12-13-11-1-11-3-10-6-11-8-10-11z"/>
<path color="#6dfdea" d="M1223 668l10-3 12-11-10 1z"/>
<path color="#66f7de" d="M1233 665l11-4 12-7-11 0z"/>
<path color="#60f2d1" d="M1244 661l11-3 12-2-11-2z"/>
<path color="#59edc4" d="M1255 658l10 0 12 1-10-3z"/>
<path color="#484848" d="M1265 658l11 0 11 0 11 3 12 4-11-2-11-2-11-2z"/>
<path color="#46dd9c" d="M1298 661l11 7 11 11 12-11-11-3-11 0z"/>
<path color="#4be2aa" d="M1320 679l10 12 11 10 12-17-11-10-10-6z"/>
<path color="#52e8b7" d="M1341 701l11 8 12-11-11-14z"/>
<path color="#59edc4" d="M1352 709l11 8 13-5-12-14z"/>
<path color="#60f2d1" d="M1363 717l12 11 12-3-11-13z"/>
<path color="#66f7de" d="M1375 728l11 11 12-4-11-10z"/>
<path color="#6dfdea" d="M1386 739l11 10 11 8 12-6-11-8-11-8z"/>
<path color="#70fff0" d="M1408 757l11 9 12 12 11 16 12-9-11-12-12-12-11-10z"/>
<path color="#70fef0" d="M1442 794l11 14 12-10-11-13z"/>
<path color="#70fef1" d="M1453 808l12 10 11 8 11 7 12 10 11 11 12 10 11 7 12 5 12 8 11 10 12-11-11-10-12-8-11-7-12-5-12-5-11-7-12-9-11-10-11-11-12-13z"/>
<path color="#70fdf1" d="M1568 894l12 10 12 6 12 2 12-10-12-3-12-7-12-9z"/>
<path class="k" d="M508 421l9 5 8 4 9 3 8 1 9 2 9 5 8 6 9 7 9 4 9 3 8 4 9 6 9 4 9 2 9 1 9 2 9 6 9-1 9-16 9-18 9-18 9-16 9-14 9-13 9-16 9-19 10-20 9-15 9-10 9-8 10-9 9-9 9-5 10-1 9 12 10 18 9 6 10 3 9 6 10 7 9 7 10 3 9-2 10-3 10-1 10 1 9-1 10-4 10-8 10-7 10-4 9-5 10-7 10-13 10-16 10-20 10-22 10-13 11 9 10 33 10 52 10 60 10 59 11 51 10 42 10 35 11 31 10 24 10 16 11 8 10 5 11 7 10 10 11 8 11 3 10-3 11-4 11-3 10 0 11 0 11 0 11 3 11 7 11 11 10 12 11 10 11 8 11 8 12 11 11 11 11 10 11 8 11 9 12 12 11 16 11 14 12 10 11 8 11 7 12 10 11 11 12 10 11 7 12 5 12 8 11 10 12 10 12 6 12 2"/>
<path color="#2b4bee" d="M496 429l9 5 12-8-9-5z"/>
<path color="#325cef" d="M505 434l8 4 9 3 9 3 11-10-8-1-9-3-8-4z"/>
<path color="#396df0" d="M531 444l8 3 9 3 9 3 8 4 9 4 9 6 9 5 8 5 9 5 9 3 9 2 9 3 12-10-9-2-9-1-9-2-9-4-9-6-8-4-9-3-9-4-9-7-8-6-9-5-9-2z"/>
<path color="#3f79f0" d="M636 490l9 3 12-7-9-6z"/>
<path color="#4582f0" d="M645 493l9 4 12-12-9 1z"/>
<path color="#484848" d="M654 497l9-9 9-17 9-17 12-21-9 18-9 18-9 16z"/>
<path color="#70fdf1" d="M681 454l9-16 12-21-9 16z"/>
<path color="#70fef1" d="M690 438l9-16 12-19-9 14z"/>
<path color="#484848" d="M699 422l9-16 9-16 9-18 10-19 9-18 9-16 9-11 10-8 9-6 12-10-9 9-10 9-9 8-9 10-9 15-10 20-9 19-9 16-9 13z"/>
<path color="#e1f129" d="M782 294l9-5 12-10-9 5z"/>
<path color="#e5f228" d="M791 289l10-3 12-8-10 1z"/>
<path color="#e8f328" d="M801 286l9 4 12 0-9-12z"/>
<path color="#e1f129" d="M810 290l10 20 12-2-10-18z"/>
<path color="#d9ef2a" d="M820 310l9 11 10 7 9 5 10 5 12-8-10-7-9-6-10-3-9-6z"/>
<path color="#d5ed2b" d="M858 338l9 4 12-5-9-7z"/>
<path color="#d9ef2a" d="M867 342l10 4 10 1 11-9-9 2-10-3z"/>
<path color="#ddf029" d="M887 347l9-2 12-10-10 3z"/>
<path color="#e5f228" d="M896 345l10-3 12-8-10 1z"/>
<path color="#e8f328" d="M906 342l10-1 12-6-10-1z"/>
<path color="#e9f328" d="M916 341l9-2 12-5-9 1z"/>
<path color="#ebf328" d="M925 339l10-3 12-6-10 4z"/>
<path color="#484848" d="M935 336l10-5 12-9-10 8z"/>
<path color="#eff428" d="M945 331l10-7 12-9-10 7z"/>
<path color="#f2f528" d="M955 324l10-6 12-7-10 4z"/>
<path color="#f3f028" d="M965 318l10-6 11-6-9 5z"/>
<path color="#484848" d="M975 312l9-7 10-10 10-17 10-22 10-23 11-12 11-6-10 13-10 22-10 20-10 16-10 13-10 7z"/>
<path color="#eb1e14" d="M1035 221l10 12 12-9-11-9z"/>
<path color="#ed2b14" d="M1045 233l10 35 12-11-10-33z"/>
<path color="#f4721a" d="M1055 268l10 51 12-10-10-52z"/>
<path color="#f4e028" d="M1065 319l10 58 12-8-10-60z"/>
<path color="#ecf428" d="M1075 377l10 57 12-6-10-59z"/>
<path color="#d1ec2b" d="M1085 434l11 52 12-7-11-51z"/>
<path color="#97d92d" d="M1096 486l10 44 12-9-10-42z"/>
<path color="#46c33c" d="M1106 530l10 36 12-10-10-35z"/>
<path color="#44d78b" d="M1116 566l11 27 12-6-11-31z"/>
<path color="#52e8b7" d="M1127 593l10 20 12-2-10-24z"/>
<path color="#66f7de" d="M1137 613l10 15 12-1-10-16z"/>
<path color="#6dfdea" d="M1147 628l11 11 10 10 12-9-10-5-11-8z"/>
<path color="#70fff0" d="M1168 649l11 8 10 7 11 5 11 2 12-3-11-3-11-8-10-10-11-7z"/>
<path color="#6dfdea" d="M1211 671l10-1 12-5-10 3z"/>
<path color="#66f7de" d="M1221 670l11-2 12-7-11 4z"/>
<path color="#60f2d1" d="M1232 668l11-2 12-8-11 3z"/>
<path color="#52e8b7" d="M1243 666l10-2 12-6-10 0z"/>
<path color="#4be2aa" d="M1253 664l11-1 12-5-11 0z"/>
<path color="#46dd9c" d="M1264 663l11 2 11 5 11 7 10 8 13-6-11-11-11-7-11-3-11 0z"/>
<path color="#4be2aa" d="M1307 685l11 9 12-3-10-12z"/>
<path color="#52e8b7" d="M1318 694l11 10 11 9 12-4-11-8-11-10z"/>
<path color="#59edc4" d="M1340 713l11 10 12 9 12-4-12-11-11-8z"/>
<path color="#60f2d1" d="M1363 732l11 11 12-4-11-11z"/>
<path color="#66f7de" d="M1374 743l11 11 12-5-11-10z"/>
<path color="#6dfdea" d="M1385 754l11 11 12-8-11-8z"/>
<path color="#70fff0" d="M1396 765l11 13 11 12 12 11 12-7-11-16-12-12-11-9z"/>
<path color="#70fef0" d="M1430 801l11 11 12-4-11-14z"/>
<path color="#70fef1" d="M1441 812l11 10 12 10 11 10 12 11 11 10 12 10 11 8 12 8 12 6 12-11-12-8-12-5-11-7-12-10-11-11-12-10-11-7-11-8-12-10z"/>
<path color="#70fdf1" d="M1545 895l11 6 12 5 12 6 12 5 12-5-12-2-12-6-12-10-11-10z"/>
<path class="k" d="M496 429l9 5 8 4 9 3 9 3 8 3 9 3 9 3 8 4 9 4 9 6 9 5 8 5 9 5 9 3 9 2 9 3 9 3 9 4 9-9 9-17 9-17 9-16 9-16 9-16 9-16 9-18 10-19 9-18 9-16 9-11 10-8 9-6 9-5 10-3 9 4 10 20 9 11 10 7 9 5 10 5 9 4 10 4 10 1 9-2 10-3 10-1 9-2 10-3 10-5 10-7 10-6 10-6 9-7 10-10 10-17 10-22 10-23 11-12 10 12 10 35 10 51 10 58 10 57 11 52 10 44 10 36 11 27 10 20 10 15 11 11 10 10 11 8 10 7 11 5 11 2 10-1 11-2 11-2 10-2 11-1 11 2 11 5 11 7 10 8 11 9 11 10 11 9 11 10 12 9 11 11 11 11 11 11 11 13 11 12 12 11 11 11 11 10 12 10 11 10 12 11 11 10 12 10 11 8 12 8 12 6 11 6 12 5 12 6 12 5"/>
<path color="#2b4bee" d="M484 437l9 4 9 4 11-7-8-4-9-5z"/>
<path color="#325cef" d="M502 445l8 2 9 2 8 4 9 6 12-9-9-3-8-3-9-3-9-3z"/>
<path color="#396df0" d="M536 459l9 4 9 3 8 2 9 4 9 5 9 4 8 4 9 3 9 5 9 7 9 5 12-12-9-3-9-3-9-2-9-3-9-5-8-5-9-5-9-6-9-4-8-4-9-3z"/>
<path color="#3f79f0" d="M633 505l9 4 12-12-9-4z"/>
<path color="#4582f0" d="M642 509l9 2 12-23-9 9z"/>
<path color="#484848" d="M651 511l9-18 9-19 9-18 9-18 9-17 9-17 10-16 9-17 9-20 9-18 10-15 9-10 9-8 9-5 12-6-9 5-9 6-10 8-9 11-9 16-9 18-10 19-9 18-9 16-9 16-9 16-9 16-9 17-9 17z"/>
<path color="#e5f228" d="M779 295l10-4 12-5-10 3z"/>
<path color="#e8f328" d="M789 291l9 1 12-2-9-4z"/>
<path color="#e5f228" d="M798 292l10 26 12-8-10-20z"/>
<path color="#d9ef2a" d="M808 318l9 16 12-13-9-11z"/>
<path color="#d5ed2b" d="M817 334l10 7 9 3 10 1 9 2 12-5-9-4-10-5-9-5-10-7z"/>
<path color="#d9ef2a" d="M855 347l10 3 10 1 12-4-10-1-10-4z"/>
<path color="#ddf029" d="M875 351l9-2 12-4-9 2z"/>
<path color="#e5f228" d="M884 349l10-2 12-5-10 3z"/>
<path color="#e8f328" d="M894 347l10 0 12-6-10 1z"/>
<path color="#e9f328" d="M904 347l9 1 12-9-9 2z"/>
<path color="#ebf328" d="M913 348l10-1 12-11-10 3z"/>
<path color="#ecf428" d="M923 347l10-6 12-10-10 5z"/>
<path color="#484848" d="M933 341l10-9 10-8 10-6 9-6 10-11 10-16 10-20 10-21 10-10 13-13-11 12-10 23-10 22-10 17-10 10-9 7-10 6-10 6-10 7z"/>
<path color="#eb1e14" d="M1022 234l11 10 12-11-10-12z"/>
<path color="#ee3114" d="M1033 244l10 32 12-8-10-35z"/>
<path color="#f4821c" d="M1043 276l10 48 12-5-10-51z"/>
<path color="#f4e028" d="M1053 324l10 57 12-4-10-58z"/>
<path color="#ecf428" d="M1063 381l10 59 12-6-10-57z"/>
<path color="#d5ed2b" d="M1073 440l11 52 12-6-11-52z"/>
<path color="#97d92d" d="M1084 492l10 44 12-6-10-44z"/>
<path color="#46c33c" d="M1094 536l10 35 12-5-10-36z"/>
<path color="#44d78b" d="M1104 571l11 28 12-6-11-27z"/>
<path color="#52e8b7" d="M1115 599l10 22 12-8-10-20z"/>
<path color="#60f2d1" d="M1125 621l10 15 12-8-10-15z"/>
<path color="#6dfdea" d="M1135 636l11 10 10 8 12-5-10-10-11-11z"/>
<path color="#70fff0" d="M1156 654l11 8 10 9 11 6 10 2 13-8-11-2-11-5-10-7-11-8z"/>
<path color="#6dfdea" d="M1198 679l11 0 12-9-10 1z"/>
<path color="#66f7de" d="M1209 679l11-2 12-9-11 2z"/>
<path color="#60f2d1" d="M1220 677l10-3 13-8-11 2z"/>
<path color="#52e8b7" d="M1230 674l11-3 12-7-10 2z"/>
<path color="#4be2aa" d="M1241 671l11-4 12-4-11 1z"/>
<path color="#46dd9c" d="M1252 667l11-2 12 0-11-2z"/>
<path color="#44d78b" d="M1263 665l11 4 11 9 12-1-11-7-11-5z"/>
<path color="#46dd9c" d="M1285 678l10 11 11 11 12-6-11-9-10-8z"/>
<path color="#4be2aa" d="M1306 700l11 10 12-6-11-10z"/>
<path color="#52e8b7" d="M1317 710l11 10 12-7-11-9z"/>
<path color="#59edc4" d="M1328 720l11 11 11 11 13-10-12-9-11-10z"/>
<path color="#60f2d1" d="M1350 742l12 10 12-9-11-11z"/>
<path color="#66f7de" d="M1362 752l11 9 12-7-11-11z"/>
<path color="#6dfdea" d="M1373 761l11 9 12-5-11-11z"/>
<path color="#70fff0" d="M1384 770l11 13 11 13 12 12 12-7-12-11-11-12-11-13z"/>
<path color="#70fef0" d="M1418 808l11 11 11 10 12-7-11-10-11-11z"/>
<path color="#70fef1" d="M1440 829l12 12 11 11 12 11 11 8 12 7 11 9 12-6-11-8-12-10-11-10-12-11-11-10-12-10z"/>
<path color="#70fdf1" d="M1509 887l12 9 12 7 11 6 12 4 12-7-12-5-11-6-12-6-12-8z"/>
<path color="#70fef1" d="M1556 913l12 7 12 7 12-10-12-5-12-6z"/>
<path class="k" d="M484 437l9 4 9 4 8 2 9 2 8 4 9 6 9 4 9 3 8 2 9 4 9 5 9 4 8 4 9 3 9 5 9 7 9 5 9 4 9 2 9-18 9-19 9-18 9-18 9-17 9-17 10-16 9-17 9-20 9-18 10-15 9-10 9-8 9-5 10-4 9 1 10 26 9 16 10 7 9 3 10 1 9 2 10 3 10 1 9-2 10-2 10 0 9 1 10-1 10-6 10-9 10-8 10-6 9-6 10-11 10-16 10-20 10-21 10-10 11 10 10 32 10 48 10 57 10 59 11 52 10 44 10 35 11 28 10 22 10 15 11 10 10 8 11 8 10 9 11 6 10 2 11 0 11-2 10-3 11-3 11-4 11-2 11 4 11 9 10 11 11 11 11 10 11 10 11 11 11 11 12 10 11 9 11 9 11 13 11 13 12 12 11 11 11 10 12 12 11 11 12 11 11 8 12 7 11 9 12 9 12 7 11 6 12 4 12 7 12 7"/>
<path color="#2b4bee" d="M473 443l8 3 9 3 12-4-9-4-9-4z"/>
<path color="#325cef" d="M490 449l8 3 9 5 9 5 8 4 9 3 12-6-9-4-9-6-8-4-9-2-8-2z"/>
<path color="#396df0" d="M533 469l9 1 8 4 9 6 9 7 9 7 9 3 8 0 9 1 9 3 9 6 9 7 12-5-9-4-9-5-9-7-9-5-9-3-8-4-9-4-9-5-9-4-8-2-9-3z"/>
<path color="#3f79f0" d="M630 514l9 6 12-9-9-2z"/>
<path color="#4a8bf0" d="M639 520l9-2 12-25-9 18z"/>
<path color="#484848" d="M648 518l9-23 9-21 9-18 9-17 9-15 10-17 9-21 9-22 9-20 10-15 9-10 12-11-9 10-10 15-9 18-9 20-9 17-10 16-9 17-9 17-9 18-9 18-9 19z"/>
<path color="#d5ed2b" d="M749 319l9-7 12-12-9 8z"/>
<path color="#ddf029" d="M758 312l10-6 11-11-9 5z"/>
<path color="#e5f228" d="M768 306l9-5 12-10-10 4z"/>
<path color="#e8f328" d="M777 301l9-2 12-7-9-1z"/>
<path color="#e5f228" d="M786 299l10 22 12-3-10-26z"/>
<path color="#d9ef2a" d="M796 321l9 15 12-2-9-16z"/>
<path color="#d5ed2b" d="M805 336l10 10 12-5-10-7z"/>
<path color="#d1ec2b" d="M815 346l9 6 12-8-9-3z"/>
<path color="#d5ed2b" d="M824 352l10 3 9 0 12-8-9-2-10-1z"/>
<path color="#d9ef2a" d="M843 355l10 1 12-6-10-3z"/>
<path color="#ddf029" d="M853 356l10 0 9 1 12-8-9 2-10-1z"/>
<path color="#e5f228" d="M872 357l10 1 10 0 12-11-10 0-10 2z"/>
<path color="#e8f328" d="M892 358l9-1 12-9-9-1z"/>
<path color="#ebf328" d="M901 357l10-4 12-6-10 1z"/>
<path color="#484848" d="M911 353l10-7 10-8 10-6 12-8-10 8-10 9-10 6z"/>
<path color="#f3f028" d="M941 332l9-5 13-9-10 6z"/>
<path color="#f4e528" d="M950 327l10-6 12-9-9 6z"/>
<path color="#484848" d="M960 321l10-11 10-17 10-24 10-22 10-9 12-4-10 10-10 21-10 20-10 16-10 11z"/>
<path color="#eb1e14" d="M1010 238l11 15 12-9-11-10z"/>
<path color="#ef3814" d="M1021 253l10 35 12-12-10-32z"/>
<path color="#f4821c" d="M1031 288l10 48 12-12-10-48z"/>
<path color="#f4e028" d="M1041 336l10 54 12-9-10-57z"/>
<path color="#edf428" d="M1051 390l10 54 12-4-10-59z"/>
<path color="#d5ed2b" d="M1061 444l10 53 13-5-11-52z"/>
<path color="#97d92d" d="M1071 497l11 47 12-8-10-44z"/>
<path color="#46c33c" d="M1082 544l10 38 12-11-10-35z"/>
<path color="#44d78b" d="M1092 582l10 28 13-11-11-28z"/>
<path color="#52e8b7" d="M1102 610l11 19 12-8-10-22z"/>
<path color="#60f2d1" d="M1113 629l10 12 12-5-10-15z"/>
<path color="#66f7de" d="M1123 641l11 10 12-5-11-10z"/>
<path color="#6dfdea" d="M1134 651l10 9 12-6-10-8z"/>
<path color="#70fff0" d="M1144 660l11 9 10 8 11 5 10 2 12-5-10-2-11-6-10-9-11-8z"/>
<path color="#6dfdea" d="M1186 684l11-2 12-3-11 0z"/>
<path color="#66f7de" d="M1197 682l11-3 12-2-11 2z"/>
<path color="#59edc4" d="M1208 679l10-2 12-3-10 3z"/>
<path color="#52e8b7" d="M1218 677l11-1 12-5-11 3z"/>
<path color="#4be2aa" d="M1229 676l11 0 12-9-11 4z"/>
<path color="#44d78b" d="M1240 676l11 0 11 2 10 5 11 8 12-2-10-11-11-9-11-4-11 2z"/>
<path color="#46dd9c" d="M1283 691l11 11 12-2-11-11z"/>
<path color="#4be2aa" d="M1294 702l11 13 12-5-11-10z"/>
<path color="#52e8b7" d="M1305 715l11 12 11 9 12-5-11-11-11-10z"/>
<path color="#59edc4" d="M1327 736l11 9 12-3-11-11z"/>
<path color="#60f2d1" d="M1338 745l11 9 13-2-12-10z"/>
<path color="#66f7de" d="M1349 754l12 13 11 13 12-10-11-9-11-9z"/>
<path color="#6dfdea" d="M1372 780l11 13 12-10-11-13z"/>
<path color="#70fff0" d="M1383 793l11 12 12 9 11 9 12-4-11-11-12-12-11-13z"/>
<path color="#70fef0" d="M1417 823l11 10 12-4-11-10z"/>
<path color="#70fef1" d="M1428 833l12 12 11 15 12 14 11 11 12 7 11 4 12 5 11 6 13-4-12-7-12-9-11-9-12-7-11-8-12-11-11-11-12-12z"/>
<path color="#70fdf1" d="M1520 907l12 9 12 9 12 7 12 4 12-9-12-7-12-7-12-4-11-6z"/>
<path class="k" d="M473 443l8 3 9 3 8 3 9 5 9 5 8 4 9 3 9 1 8 4 9 6 9 7 9 7 9 3 8 0 9 1 9 3 9 6 9 7 9 6 9-2 9-23 9-21 9-18 9-17 9-15 10-17 9-21 9-22 9-20 10-15 9-10 9-7 10-6 9-5 9-2 10 22 9 15 10 10 9 6 10 3 9 0 10 1 10 0 9 1 10 1 10 0 9-1 10-4 10-7 10-8 10-6 9-5 10-6 10-11 10-17 10-24 10-22 10-9 11 15 10 35 10 48 10 54 10 54 10 53 11 47 10 38 10 28 11 19 10 12 11 10 10 9 11 9 10 8 11 5 10 2 11-2 11-3 10-2 11-1 11 0 11 0 11 2 10 5 11 8 11 11 11 13 11 12 11 9 11 9 11 9 12 13 11 13 11 13 11 12 12 9 11 9 11 10 12 12 11 15 12 14 11 11 12 7 11 4 12 5 11 6 12 9 12 9 12 7 12 4"/>
<path color="#325cef" d="M461 446l8 5 9 5 8 5 9 3 9 4 8 4 9 5 9 5 12-12-9-1-9-3-8-4-9-5-9-5-8-3-9-3-8-3z"/>
<path color="#396df0" d="M530 482l8 5 9 2 9 2 9 3 9 5 8 5 9 5 9 3 9 3 9 4 12-5-9-7-9-6-9-3-9-1-8 0-9-3-9-7-9-7-9-6-8-4z"/>
<path color="#4582f0" d="M618 519l9 4 12-3-9-6z"/>
<path color="#5ec6f0" d="M627 523l9 5 12-10-9 2z"/>
<path color="#484848" d="M636 528l9-11 9-20 9-20 9-18 9-19 10-19 9-22 9-22 9-20 10-15 9-10 12-13-9 10-10 15-9 20-9 22-9 21-10 17-9 15-9 17-9 18-9 21-9 23z"/>
<path color="#d1ec2b" d="M737 332l9-9 12-11-9 7z"/>
<path color="#d9ef2a" d="M746 323l10-7 12-10-10 6z"/>
<path color="#e1f129" d="M756 316l9-6 12-9-9 5z"/>
<path color="#e8f328" d="M765 310l9-3 12-8-9 2z"/>
<path color="#e5f228" d="M774 307l10 20 12-6-10-22z"/>
<path color="#ddf029" d="M784 327l9 16 12-7-9-15z"/>
<path color="#d5ed2b" d="M793 343l10 9 9 4 10 2 9 3 12-6-9 0-10-3-9-6-10-10z"/>
<path color="#d9ef2a" d="M831 361l10 3 9 3 13-11-10 0-10-1z"/>
<path color="#ddf029" d="M850 367l10 1 12-11-9-1z"/>
<path color="#e1f129" d="M860 368l10-1 12-9-10-1z"/>
<path color="#e5f228" d="M870 367l10-2 12-7-10 0z"/>
<path color="#e8f328" d="M880 365l9-2 12-6-9 1z"/>
<path color="#e9f328" d="M889 363l10-4 12-6-10 4z"/>
<path color="#ecf428" d="M899 359l10-5 12-8-10 7z"/>
<path color="#eef428" d="M909 354l10-6 12-10-10 8z"/>
<path color="#f0f528" d="M919 348l10-6 12-10-10 6z"/>
<path color="#f3f528" d="M929 342l9-8 12-7-9 5z"/>
<path color="#484848" d="M938 334l10-9 10-11 10-14 10-19 10-21 10-12 12-10-10 9-10 22-10 24-10 17-10 11-10 6z"/>
<path color="#eb1e14" d="M998 248l10 10 13-5-11-15z"/>
<path color="#ef3814" d="M1008 258l11 33 12-3-10-35z"/>
<path color="#f4821c" d="M1019 291l10 50 12-5-10-48z"/>
<path color="#f4e528" d="M1029 341l10 57 12-8-10-54z"/>
<path color="#ecf428" d="M1039 398l10 58 12-12-10-54z"/>
<path color="#d5ed2b" d="M1049 456l10 51 12-10-10-53z"/>
<path color="#97d92d" d="M1059 507l11 44 12-7-11-47z"/>
<path color="#46c33c" d="M1070 551l10 36 12-5-10-38z"/>
<path color="#44d78b" d="M1080 587l10 28 12-5-10-28z"/>
<path color="#52e8b7" d="M1090 615l11 21 12-7-11-19z"/>
<path color="#60f2d1" d="M1101 636l10 15 12-10-10-12z"/>
<path color="#66f7de" d="M1111 651l11 10 12-10-11-10z"/>
<path color="#6dfdea" d="M1122 661l10 8 11 6 12-6-11-9-10-9z"/>
<path color="#70fff0" d="M1143 675l10 6 11 4 12-3-11-5-10-8z"/>
<path color="#6dfdea" d="M1164 685l10 2 12-3-10-2z"/>
<path color="#66f7de" d="M1174 687l11 0 12-5-11 2z"/>
<path color="#60f2d1" d="M1185 687l11-3 12-5-11 3z"/>
<path color="#59edc4" d="M1196 684l10-2 12-5-10 2z"/>
<path color="#4be2aa" d="M1206 682l11-1 12-5-11 1z"/>
<path color="#46dd9c" d="M1217 681l11-1 12-4-11 0z"/>
<path color="#44d78b" d="M1228 680l11 2 10 3 13-7-11-2-11 0z"/>
<path color="#42d279" d="M1249 685l11 6 12-8-10-5z"/>
<path color="#44d78b" d="M1260 691l11 8 11 10 12-7-11-11-11-8z"/>
<path color="#46dd9c" d="M1282 709l11 11 12-5-11-13z"/>
<path color="#4be2aa" d="M1293 720l11 11 12-4-11-12z"/>
<path color="#52e8b7" d="M1304 731l11 9 11 9 12-4-11-9-11-9z"/>
<path color="#59edc4" d="M1326 749l11 10 12-5-11-9z"/>
<path color="#60f2d1" d="M1337 759l11 12 13-4-12-13z"/>
<path color="#66f7de" d="M1348 771l12 14 12-5-11-13z"/>
<path color="#6dfdea" d="M1360 785l11 13 12-5-11-13z"/>
<path color="#70fff0" d="M1371 798l11 12 11 11 12 11 12-9-11-9-12-9-11-12z"/>
<path color="#70fef0" d="M1405 832l11 13 12-12-11-10z"/>
<path color="#70fef1" d="M1416 845l11 13 12 12 11 11 12 8 11 8 12 8 12 8 11 7 12-13-11-6-12-5-11-4-12-7-11-11-12-14-11-15-12-12z"/>
<path color="#70fdf1" d="M1508 920l12 6 12 4 12 6 11 6 13-6-12-4-12-7-12-9-12-9z"/>
<path class="k" d="M461 446l8 5 9 5 8 5 9 3 9 4 8 4 9 5 9 5 8 5 9 2 9 2 9 3 9 5 8 5 9 5 9 3 9 3 9 4 9 4 9 5 9-11 9-20 9-20 9-18 9-19 10-19 9-22 9-22 9-20 10-15 9-10 9-9 10-7 9-6 9-3 10 20 9 16 10 9 9 4 10 2 9 3 10 3 9 3 10 1 10-1 10-2 9-2 10-4 10-5 10-6 10-6 9-8 10-9 10-11 10-14 10-19 10-21 10-12 10 10 11 33 10 50 10 57 10 58 10 51 11 44 10 36 10 28 11 21 10 15 11 10 10 8 11 6 10 6 11 4 10 2 11 0 11-3 10-2 11-1 11-1 11 2 10 3 11 6 11 8 11 10 11 11 11 11 11 9 11 9 11 10 11 12 12 14 11 13 11 12 11 11 12 11 11 13 11 13 12 12 11 11 12 8 11 8 12 8 12 8 11 7 12 6 12 4 12 6 11 6"/>
<path color="#2b4bee" d="M449 459l8 2 9 2 12-7-9-5-8-5z"/>
<path color="#325cef" d="M466 463l9 2 8 3 9 5 8 6 9 5 9 5 8 3 9 4 12-7-9-2-8-5-9-5-9-5-8-4-9-4-9-3-8-5z"/>
<path color="#396df0" d="M535 496l9 4 9 4 9 3 8 3 9 3 9 3 9 5 9 5 12-7-9-4-9-3-9-3-9-5-8-5-9-5-9-3-9-2z"/>
<path color="#4a8bf0" d="M606 526l9 6 12-9-9-4z"/>
<path color="#6cf1f0" d="M615 532l9 5 9 4 12-24-9 11-9-5z"/>
<path color="#484848" d="M633 541l9-21 9-20 9-22 9-21 10-23 9-23 9-23 9-18 10-15 9-13 9-10 9-8 13-8-10 7-9 9-9 10-10 15-9 20-9 22-9 22-10 19-9 19-9 18-9 20-9 20z"/>
<path color="#e1f129" d="M743 324l10-4 12-10-9 6z"/>
<path color="#e5f228" d="M753 320l9-2 10 16 12-7-10-20-9 3z"/>
<path color="#d9ef2a" d="M772 334l9 17 12-8-9-16z"/>
<path color="#d5ed2b" d="M781 351l10 8 9 4 10 4 9 4 12-10-9-3-10-2-9-4-10-9z"/>
<path color="#d9ef2a" d="M819 371l10 4 9 1 12-9-9-3-10-3z"/>
<path color="#ddf029" d="M838 376l10-2 12-6-10-1z"/>
<path color="#e1f129" d="M848 374l10-3 12-4-10 1z"/>
<path color="#e5f228" d="M858 371l9-2 13-4-10 2z"/>
<path color="#e8f328" d="M867 369l10-1 12-5-9 2z"/>
<path color="#ebf328" d="M877 368l10-1 12-8-10 4z"/>
<path color="#ecf428" d="M887 367l10-5 12-8-10 5z"/>
<path color="#eef428" d="M897 362l10-6 12-8-10 6z"/>
<path color="#484848" d="M907 356l9-6 13-8-10 6z"/>
<path color="#f3f528" d="M916 350l10-6 12-10-9 8z"/>
<path color="#f4eb28" d="M926 344l10-8 12-11-10 9z"/>
<path color="#484848" d="M936 336l10-10 10-16 10-21 10-22 10-11 12-8-10 12-10 21-10 19-10 14-10 11z"/>
<path color="#ec2414" d="M986 256l10 11 12-9-10-10z"/>
<path color="#ef3814" d="M996 267l10 33 13-9-11-33z"/>
<path color="#f4821c" d="M1006 300l11 49 12-8-10-50z"/>
<path color="#f4e528" d="M1017 349l10 56 12-7-10-57z"/>
<path color="#ecf428" d="M1027 405l10 58 12-7-10-58z"/>
<path color="#d1ec2b" d="M1037 463l10 53 12-9-10-51z"/>
<path color="#97d92d" d="M1047 516l11 44 12-9-11-44z"/>
<path color="#46c33c" d="M1058 560l10 35 12-8-10-36z"/>
<path color="#44d78b" d="M1068 595l10 25 12-5-10-28z"/>
<path color="#52e8b7" d="M1078 620l11 19 12-3-11-21z"/>
<path color="#60f2d1" d="M1089 639l10 15 12-3-10-15z"/>
<path color="#66f7de" d="M1099 654l10 12 13-5-11-10z"/>
<path color="#6dfdea" d="M1109 666l11 9 10 8 11 5 10 4 11 4 12-9-10-2-11-4-10-6-11-6-10-8z"/>
<path color="#66f7de" d="M1162 696l11 1 12-10-11 0z"/>
<path color="#60f2d1" d="M1173 697l10-1 13-12-11 3z"/>
<path color="#59edc4" d="M1183 696l11-3 12-11-10 2z"/>
<path color="#4be2aa" d="M1194 693l11-6 12-6-11 1z"/>
<path color="#46dd9c" d="M1205 687l11-5 12-2-11 1z"/>
<path color="#484848" d="M1216 682l10-2 13 2-11-2z"/>
<path color="#42d279" d="M1226 680l11 3 11 7 11 9 12 0-11-8-11-6-10-3z"/>
<path color="#44d78b" d="M1259 699l11 11 12-1-11-10z"/>
<path color="#46dd9c" d="M1270 710l11 14 12-4-11-11z"/>
<path color="#4be2aa" d="M1281 724l11 13 12-6-11-11z"/>
<path color="#52e8b7" d="M1292 737l11 13 11 11 12-12-11-9-11-9z"/>
<path color="#59edc4" d="M1314 761l11 11 12-13-11-10z"/>
<path color="#60f2d1" d="M1325 772l11 10 12-11-11-12z"/>
<path color="#66f7de" d="M1336 782l11 11 13-8-12-14z"/>
<path color="#6dfdea" d="M1347 793l12 11 12-6-11-13z"/>
<path color="#70fff0" d="M1359 804l11 12 11 10 12 11 12-5-12-11-11-11-11-12z"/>
<path color="#70fef0" d="M1393 837l11 12 12-4-11-13z"/>
<path color="#70fef1" d="M1404 849l11 13 12 14 11 12 12 10 11 8 12 7 12-8-12-8-11-8-12-8-11-11-12-12-11-13z"/>
<path color="#70fdf1" d="M1473 913l11 8 12 7 12 8 12 6 11 6 12 6 12-12-11-6-12-6-12-4-12-6-11-7-12-8z"/>
<path class="k" d="M449 459l8 2 9 2 9 2 8 3 9 5 8 6 9 5 9 5 8 3 9 4 9 4 9 4 9 3 8 3 9 3 9 3 9 5 9 5 9 6 9 5 9 4 9-21 9-20 9-22 9-21 10-23 9-23 9-23 9-18 10-15 9-13 9-10 9-8 10-4 9-2 10 16 9 17 10 8 9 4 10 4 9 4 10 4 9 1 10-2 10-3 9-2 10-1 10-1 10-5 10-6 9-6 10-6 10-8 10-10 10-16 10-21 10-22 10-11 10 11 10 33 11 49 10 56 10 58 10 53 11 44 10 35 10 25 11 19 10 15 10 12 11 9 10 8 11 5 10 4 11 4 11 1 10-1 11-3 11-6 11-5 10-2 11 3 11 7 11 9 11 11 11 14 11 13 11 13 11 11 11 11 11 10 11 11 12 11 11 12 11 10 12 11 11 12 11 13 12 14 11 12 12 10 11 8 12 7 11 8 12 7 12 8 12 6 11 6 12 6"/>
<path color="#2b4bee" d="M437 464l8 3 9 3 12-7-9-2-8-2z"/>
<path color="#325cef" d="M454 470l9 3 8 4 9 5 8 3 9 2 12-3-9-5-8-6-9-5-8-3-9-2z"/>
<path color="#396df0" d="M497 487l9 3 9 5 8 7 9 6 9 5 9 4 8 4 9 6 9 3 9 2 9 1 12-7-9-5-9-5-9-3-9-3-8-3-9-3-9-4-9-4-9-4-8-3-9-5z"/>
<path color="#4a8bf0" d="M594 533l9 2 12-3-9-6z"/>
<path color="#6cf1f0" d="M603 535l9 5 9 5 12-4-9-4-9-5z"/>
<path color="#484848" d="M621 545l9-9 9-22 9-21 9-20 10-20 9-23 9-25 9-21 9-15 10-11 12-16-9 13-10 15-9 18-9 23-9 23-10 23-9 21-9 22-9 20-9 21z"/>
<path color="#c9ea2c" d="M713 358l9-9 12-17-9 10z"/>
<path color="#d5ed2b" d="M722 349l9-10 12-15-9 8z"/>
<path color="#ddf029" d="M731 339l10-9 12-10-10 4z"/>
<path color="#e5f228" d="M741 330l9-5 10 11 12-2-10-16-9 2z"/>
<path color="#ddf029" d="M760 336l9 19 12-4-9-17z"/>
<path color="#d5ed2b" d="M769 355l9 8 10 3 10 3 9 6 10 6 12-6-10-4-9-4-10-4-9-4-10-8z"/>
<path color="#d9ef2a" d="M817 381l9 3 12-8-9-1z"/>
<path color="#ddf029" d="M826 384l10-1 12-9-10 2z"/>
<path color="#e1f129" d="M836 383l10-2 12-10-10 3z"/>
<path color="#e5f228" d="M846 381l9 0 12-12-9 2z"/>
<path color="#e8f328" d="M855 381l10 1 12-14-10 1z"/>
<path color="#e9f328" d="M865 382l10-2 12-13-10 1z"/>
<path color="#ecf428" d="M875 380l10-7 12-11-10 5z"/>
<path color="#484848" d="M885 373l9-9 10-9 10-5 10-7 10-12 10-16 10-21 10-19 10-9 12-10-10 11-10 22-10 21-10 16-10 10-10 8-10 6-9 6-10 6z"/>
<path color="#ec2414" d="M974 266l10 11 12-10-10-11z"/>
<path color="#ef3814" d="M984 277l10 32 12-9-10-33z"/>
<path color="#f4821c" d="M994 309l10 49 13-9-11-49z"/>
<path color="#f4e528" d="M1004 358l11 57 12-10-10-56z"/>
<path color="#ecf428" d="M1015 415l10 57 12-9-10-58z"/>
<path color="#d1ec2b" d="M1025 472l10 52 12-8-10-53z"/>
<path color="#97d92d" d="M1035 524l10 42 13-6-11-44z"/>
<path color="#46c33c" d="M1045 566l11 34 12-5-10-35z"/>
<path color="#44d78b" d="M1056 600l10 28 12-8-10-25z"/>
<path color="#52e8b7" d="M1066 628l10 22 13-11-11-19z"/>
<path color="#60f2d1" d="M1076 650l11 16 12-12-10-15z"/>
<path color="#66f7de" d="M1087 666l10 10 12-10-10-12z"/>
<path color="#6dfdea" d="M1097 676l11 5 10 6 11 6 10 4 11 1 12-2-11-4-10-4-11-5-10-8-11-9z"/>
<path color="#66f7de" d="M1150 698l10-1 13 0-11-1z"/>
<path color="#484848" d="M1160 697l11-2 11 0 12-2-11 3-10 1z"/>
<path color="#4be2aa" d="M1182 695l11-1 12-7-11 6z"/>
<path color="#46dd9c" d="M1193 694l10-2 13-10-11 5z"/>
<path color="#42d279" d="M1203 692l11-2 12-10-10 2z"/>
<path color="#40cc67" d="M1214 690l11 2 11 7 11 10 12-10-11-9-11-7-11-3z"/>
<path color="#42d279" d="M1247 709l11 10 12-9-11-11z"/>
<path color="#44d78b" d="M1258 719l11 9 12-4-11-14z"/>
<path color="#46dd9c" d="M1269 728l11 9 12 0-11-13z"/>
<path color="#4be2aa" d="M1280 737l11 12 12 1-11-13z"/>
<path color="#52e8b7" d="M1291 749l11 14 12-2-11-11z"/>
<path color="#59edc4" d="M1302 763l11 13 12-4-11-11z"/>
<path color="#60f2d1" d="M1313 776l11 12 12-6-11-10z"/>
<path color="#66f7de" d="M1324 788l11 9 12-4-11-11z"/>
<path color="#6dfdea" d="M1335 797l11 11 13-4-12-11z"/>
<path color="#70fff0" d="M1346 808l12 14 11 14 11 12 13-11-12-11-11-10-11-12z"/>
<path color="#70fef0" d="M1380 848l12 12 12-11-11-12z"/>
<path color="#70fef1" d="M1392 860l11 11 11 14 12 13 11 11 12 6 12 6 11 6 12-6-11-8-12-7-11-8-12-10-11-12-12-14-11-13z"/>
<path color="#70fdf1" d="M1472 927l12 8 12 8 11 5 12 6 12 7 12-7-12-6-11-6-12-6-12-8-12-7z"/>
<path class="k" d="M437 464l8 3 9 3 9 3 8 4 9 5 8 3 9 2 9 3 9 5 8 7 9 6 9 5 9 4 8 4 9 6 9 3 9 2 9 1 9 2 9 5 9 5 9-9 9-22 9-21 9-20 10-20 9-23 9-25 9-21 9-15 10-11 9-9 9-10 10-9 9-5 10 11 9 19 9 8 10 3 10 3 9 6 10 6 9 3 10-1 10-2 9 0 10 1 10-2 10-7 9-9 10-9 10-5 10-7 10-12 10-16 10-21 10-19 10-9 10 11 10 32 10 49 11 57 10 57 10 52 10 42 11 34 10 28 10 22 11 16 10 10 11 5 10 6 11 6 10 4 11 1 10-1 11-2 11 0 11-1 10-2 11-2 11 2 11 7 11 10 11 10 11 9 11 9 11 12 11 14 11 13 11 12 11 9 11 11 12 14 11 14 11 12 12 12 11 11 11 14 12 13 11 11 12 6 12 6 11 6 12 8 12 8 11 5 12 6 12 7"/>
<path color="#2b4bee" d="M425 465l8 6 9 6 12-7-9-3-8-3z"/>
<path color="#325cef" d="M442 477l9 5 8 4 9 4 8 6 9 4 9 2 12-12-9-3-9-2-8-3-9-5-8-4-9-3z"/>
<path color="#396df0" d="M494 502l9 2 8 3 9 6 9 6 9 4 8 2 9 3 9 5 9 5 9 3 12-8-9-1-9-2-9-3-9-6-8-4-9-4-9-5-9-6-8-7-9-5z"/>
<path color="#3f79f0" d="M582 541l9 2 12-8-9-2z"/>
<path color="#5ec6f0" d="M591 543l9 3 12-6-9-5z"/>
<path color="#6cf1f0" d="M600 546l9 6 9 6 12-22-9 9-9-5z"/>
<path color="#484848" d="M618 558l9-21 9-22 9-21 9-22 10-24 9-26 9-25 9-20 10-13 9-9 9-8 10-7 12-10-10 9-9 10-9 9-10 11-9 15-9 21-9 25-9 23-10 20-9 20-9 21-9 22z"/>
<path color="#e1f129" d="M729 340l9-5 12-10-9 5z"/>
<path color="#e5f228" d="M738 335l9 6 13-5-10-11z"/>
<path color="#ddf029" d="M747 341l10 22 12-8-9-19z"/>
<path color="#d5ed2b" d="M757 363l9 9 10 3 12-9-10-3-9-8z"/>
<path color="#d9ef2a" d="M776 375l9 2 10 6 12-8-9-6-10-3z"/>
<path color="#d5ed2b" d="M795 383l10 8 9 4 12-11-9-3-10-6z"/>
<path color="#d9ef2a" d="M814 395l10-1 12-11-10 1z"/>
<path color="#ddf029" d="M824 394l9-3 13-10-10 2z"/>
<path color="#e1f129" d="M833 391l10-1 12-9-9 0z"/>
<path color="#e5f228" d="M843 390l10-1 12-7-10-1z"/>
<path color="#e8f328" d="M853 389l10-4 12-5-10 2z"/>
<path color="#484848" d="M863 385l9-9 10-10 10-6 10-4 12-6-10 5-10 9-9 9-10 7z"/>
<path color="#f4eb28" d="M902 356l10-5 12-8-10 7z"/>
<path color="#484848" d="M912 351l10-9 10-15 10-18 10-20 12-14-10 19-10 21-10 16-10 12z"/>
<path color="#ed2b14" d="M952 289l10-12 10 8 12-8-10-11-10 9z"/>
<path color="#ef3814" d="M972 285l10 31 12-7-10-32z"/>
<path color="#f5921e" d="M982 316l10 49 12-7-10-49z"/>
<path color="#f4e528" d="M992 365l10 59 13-9-11-57z"/>
<path color="#ecf428" d="M1002 424l11 57 12-9-10-57z"/>
<path color="#d1ec2b" d="M1013 481l10 50 12-7-10-52z"/>
<path color="#97d92d" d="M1023 531l10 41 12-6-10-42z"/>
<path color="#46c33c" d="M1033 572l10 35 13-7-11-34z"/>
<path color="#42d279" d="M1043 607l11 27 12-6-10-28z"/>
<path color="#52e8b7" d="M1054 634l10 20 12-4-10-22z"/>
<path color="#60f2d1" d="M1064 654l11 14 12-2-11-16z"/>
<path color="#66f7de" d="M1075 668l10 9 12-1-10-10z"/>
<path color="#6dfdea" d="M1085 677l10 10 11 9 10 7 11 3 12-9-10-4-11-6-10-6-11-5z"/>
<path color="#66f7de" d="M1127 706l11 0 12-8-11-1z"/>
<path color="#60f2d1" d="M1138 706l10 0 12-9-10 1z"/>
<path color="#59edc4" d="M1148 706l11 0 12-11-11 2z"/>
<path color="#52e8b7" d="M1159 706l11-3 12-8-11 0z"/>
<path color="#4be2aa" d="M1170 703l10-6 13-3-11 1z"/>
<path color="#484848" d="M1180 697l11-7 11-2 12 2-11 2-10 2z"/>
<path color="#40cc67" d="M1202 688l11 6 11 8 10 9 13-2-11-10-11-7-11-2z"/>
<path color="#42d279" d="M1234 711l11 10 11 11 13-4-11-9-11-10z"/>
<path color="#44d78b" d="M1256 732l11 13 13-8-11-9z"/>
<path color="#46dd9c" d="M1267 745l11 13 13-9-11-12z"/>
<path color="#4be2aa" d="M1278 758l11 11 13-6-11-14z"/>
<path color="#52e8b7" d="M1289 769l12 9 12-2-11-13z"/>
<path color="#59edc4" d="M1301 778l11 12 12-2-11-12z"/>
<path color="#60f2d1" d="M1312 790l11 15 12-8-11-9z"/>
<path color="#66f7de" d="M1323 805l11 15 12-12-11-11z"/>
<path color="#70fff0" d="M1334 820l11 13 12 11 11 12 12-8-11-12-11-14-12-14z"/>
<path color="#70fef0" d="M1368 856l11 14 13-10-12-12z"/>
<path color="#70fef1" d="M1379 870l12 13 11 9 12 8 11 7 12 10 11 11 12 9 12-10-11-6-12-6-12-6-11-11-12-13-11-14-11-11z"/>
<path color="#70fdf1" d="M1460 937l12 8 11 8 12 9 12 9 12 4 12-14-12-7-12-6-11-5-12-8-12-8z"/>
<path class="k" d="M425 465l8 6 9 6 9 5 8 4 9 4 8 6 9 4 9 2 9 2 8 3 9 6 9 6 9 4 8 2 9 3 9 5 9 5 9 3 9 2 9 3 9 6 9 6 9-21 9-22 9-21 9-22 10-24 9-26 9-25 9-20 10-13 9-9 9-8 10-7 9-5 9 6 10 22 9 9 10 3 9 2 10 6 10 8 9 4 10-1 9-3 10-1 10-1 10-4 9-9 10-10 10-6 10-4 10-5 10-9 10-15 10-18 10-20 10-12 10 8 10 31 10 49 10 59 11 57 10 50 10 41 10 35 11 27 10 20 11 14 10 9 10 10 11 9 10 7 11 3 11 0 10 0 11 0 11-3 10-6 11-7 11-2 11 6 11 8 10 9 11 10 11 11 11 13 11 13 11 11 12 9 11 12 11 15 11 15 11 13 12 11 11 12 11 14 12 13 11 9 12 8 11 7 12 10 11 11 12 9 12 8 11 8 12 9 12 9 12 4"/>
<path color="#2b4bee" d="M413 479l8 4 9 2 9 1 12-4-9-5-9-6-8-6z"/>
<path color="#325cef" d="M439 486l8 3 9 6 8 6 9 6 9 3 8 2 13-8-9-2-9-2-9-4-8-6-9-4-8-4z"/>
<path color="#396df0" d="M490 512l9 2 9 4 9 7 9 6 8 5 9 1 9 1 9 3 9 7 9 7 12-12-9-2-9-3-9-5-9-5-9-3-8-2-9-4-9-6-9-6-8-3z"/>
<path color="#4a8bf0" d="M579 555l9 5 12-14-9-3z"/>
<path color="#6cf1f0" d="M588 560l9 3 9 1 12-6-9-6-9-6z"/>
<path color="#484848" d="M606 564l9-12 9-22 9-20 9-23 10-26 9-27 9-23 9-16 12-18-9 20-9 25-9 26-10 24-9 22-9 21-9 22-9 21z"/>
<path color="#97d92d" d="M679 395l9-13 13-18-10 13z"/>
<path color="#bee62d" d="M688 382l10-12 12-15-9 9z"/>
<path color="#cdeb2c" d="M698 370l9-12 12-11-9 8z"/>
<path color="#484848" d="M707 358l9-9 13-9-10 7z"/>
<path color="#e1f129" d="M716 349l10-6 12-8-9 5z"/>
<path color="#e5f228" d="M726 343l9 1 12-3-9-6z"/>
<path color="#ddf029" d="M735 344l10 25 12-6-10-22z"/>
<path color="#d5ed2b" d="M745 369l9 11 10 4 9 3 10 4 9 6 10 4 12-6-9-4-10-8-10-6-9-2-10-3-9-9z"/>
<path color="#d9ef2a" d="M802 401l10-1 12-6-10 1z"/>
<path color="#ddf029" d="M812 400l9-3 12-6-9 3z"/>
<path color="#e1f129" d="M821 397l10-1 12-6-10 1z"/>
<path color="#e5f228" d="M831 396l10-1 12-6-10 1z"/>
<path color="#e8f328" d="M841 395l9-1 13-9-10 4z"/>
<path color="#ebf328" d="M850 394l10-5 12-13-9 9z"/>
<path color="#edf428" d="M860 389l10-8 12-15-10 10z"/>
<path color="#f0f528" d="M870 381l10-8 12-13-10 6z"/>
<path color="#f3f528" d="M880 373l10-8 12-9-10 4z"/>
<path color="#f4eb28" d="M890 365l10-6 12-8-10 5z"/>
<path color="#484848" d="M900 359l10-10 10-14 10-20 10-21 10-9 12-8-10 12-10 20-10 18-10 15-10 9z"/>
<path color="#ed2b14" d="M950 285l10 12 12-12-10-8z"/>
<path color="#f13e14" d="M960 297l10 33 12-14-10-31z"/>
<path color="#f5921e" d="M970 330l10 47 12-12-10-49z"/>
<path color="#f4e528" d="M980 377l10 53 12-6-10-59z"/>
<path color="#ecf428" d="M990 430l10 54 13-3-11-57z"/>
<path color="#d1ec2b" d="M1000 484l11 53 12-6-10-50z"/>
<path color="#97d92d" d="M1011 537l10 45 12-10-10-41z"/>
<path color="#46c33c" d="M1021 582l10 35 12-10-10-35z"/>
<path color="#42d279" d="M1031 617l10 25 13-8-11-27z"/>
<path color="#4be2aa" d="M1041 642l11 18 12-6-10-20z"/>
<path color="#59edc4" d="M1052 660l10 15 13-7-11-14z"/>
<path color="#66f7de" d="M1062 675l11 13 12-11-10-9z"/>
<path color="#6dfdea" d="M1073 688l10 11 11 7 10 2 11 0 12-2-11-3-10-7-11-9-10-10z"/>
<path color="#66f7de" d="M1115 708l10-1 13-1-11 0z"/>
<path color="#60f2d1" d="M1125 707l11 1 12-2-10 0z"/>
<path color="#59edc4" d="M1136 708l11 1 12-3-11 0z"/>
<path color="#52e8b7" d="M1147 709l10-1 13-5-11 3z"/>
<path color="#484848" d="M1157 708l11-5 11-6 12-7-11 7-10 6z"/>
<path color="#40cc67" d="M1179 697l11-3 12-6-11 2z"/>
<path color="#3ec755" d="M1190 694l10 4 11 8 11 11 12-6-10-9-11-8-11-6z"/>
<path color="#40cc67" d="M1222 717l11 11 12-7-11-10z"/>
<path color="#42d279" d="M1233 728l11 10 12-6-11-11z"/>
<path color="#44d78b" d="M1244 738l11 9 12-2-11-13z"/>
<path color="#46dd9c" d="M1255 747l11 11 12 0-11-13z"/>
<path color="#4be2aa" d="M1266 758l11 13 12-2-11-11z"/>
<path color="#52e8b7" d="M1277 771l11 16 13-9-12-9z"/>
<path color="#59edc4" d="M1288 787l11 15 13-12-11-12z"/>
<path color="#60f2d1" d="M1299 802l12 12 12-9-11-15z"/>
<path color="#66f7de" d="M1311 814l11 11 12-5-11-15z"/>
<path color="#70fff0" d="M1322 825l11 10 11 12 12 15 12-6-11-12-12-11-11-13z"/>
<path color="#70fef0" d="M1356 862l11 14 12-6-11-14z"/>
<path color="#70fef1" d="M1367 876l11 13 12 10 11 10 12 10 11 12 12 10 12-13-11-11-12-10-11-7-12-8-11-9-12-13z"/>
<path color="#70fdf1" d="M1436 941l12 8 11 5 12 5 12 6 11 8 12 8 13-6-12-4-12-9-12-9-11-8-12-8-12-9z"/>
<path class="k" d="M413 479l8 4 9 2 9 1 8 3 9 6 8 6 9 6 9 3 8 2 9 2 9 4 9 7 9 6 8 5 9 1 9 1 9 3 9 7 9 7 9 5 9 3 9 1 9-12 9-22 9-20 9-23 10-26 9-27 9-23 9-16 9-13 10-12 9-12 9-9 10-6 9 1 10 25 9 11 10 4 9 3 10 4 9 6 10 4 10-1 9-3 10-1 10-1 9-1 10-5 10-8 10-8 10-8 10-6 10-10 10-14 10-20 10-21 10-9 10 12 10 33 10 47 10 53 10 54 11 53 10 45 10 35 10 25 11 18 10 15 11 13 10 11 11 7 10 2 11 0 10-1 11 1 11 1 10-1 11-5 11-6 11-3 10 4 11 8 11 11 11 11 11 10 11 9 11 11 11 13 11 16 11 15 12 12 11 11 11 10 11 12 12 15 11 14 11 13 12 10 11 10 12 10 11 12 12 10 12 8 11 5 12 5 12 6 11 8 12 8"/>
<path color="#2b4bee" d="M401 481l8 4 9 4 12-4-9-2-8-4z"/>
<path color="#325cef" d="M418 489l9 5 8 5 9 5 8 5 9 5 9 4 8 4 9 3 12-11-9-2-8-2-9-3-9-6-8-6-9-6-8-3-9-1z"/>
<path color="#396df0" d="M487 525l9 3 9 3 8 4 9 4 9 4 9 3 9 4 9 4 9 5 12-4-9-7-9-7-9-3-9-1-9-1-8-5-9-6-9-7-9-4z"/>
<path color="#4a8bf0" d="M567 559l9 4 12-3-9-5z"/>
<path color="#6cf1f0" d="M576 563l9 5 9 5 9 1 12-22-9 12-9-1-9-3z"/>
<path color="#484848" d="M603 574l9-23 9-23 9-25 9-26 10-26 9-23 9-19 9-16 10-14 9-12 9-8 12-10-9 9-9 12-10 12-9 13-9 16-9 23-9 27-10 26-9 23-9 20-9 22z"/>
<path color="#ddf029" d="M704 359l10-6 12-10-10 6z"/>
<path color="#e5f228" d="M714 353l9-2 12-7-9-1z"/>
<path color="#e1f129" d="M723 351l10 22 12-4-10-25z"/>
<path color="#d5ed2b" d="M733 373l9 14 12-7-9-11z"/>
<path color="#d1ec2b" d="M742 387l9 7 13-10-10-4z"/>
<path color="#d5ed2b" d="M751 394l10 4 10 5 9 3 10 3 12-8-10-4-9-6-10-4-9-3z"/>
<path color="#d9ef2a" d="M790 409l9-1 13-8-10 1z"/>
<path color="#ddf029" d="M799 408l10-1 12-10-9 3z"/>
<path color="#e1f129" d="M809 407l10-1 12-10-10 1z"/>
<path color="#e5f228" d="M819 406l9-1 13-10-10 1z"/>
<path color="#e8f328" d="M828 405l10-3 12-8-9 1z"/>
<path color="#ebf328" d="M838 402l10-6 12-7-10 5z"/>
<path color="#484848" d="M848 396l10-8 10-7 9-7 10-7 10-9 10-14 10-18 10-20 10-10 13-11-10 9-10 21-10 20-10 14-10 10-10 6-10 8-10 8-10 8z"/>
<path color="#ee3114" d="M937 296l10 11 13-10-10-12z"/>
<path color="#f24414" d="M947 307l11 33 12-10-10-33z"/>
<path color="#f59f20" d="M958 340l10 47 12-10-10-47z"/>
<path color="#f4eb28" d="M968 387l10 54 12-11-10-53z"/>
<path color="#ecf428" d="M978 441l10 54 12-11-10-54z"/>
<path color="#d1ec2b" d="M988 495l10 49 13-7-11-53z"/>
<path color="#97d92d" d="M998 544l11 42 12-4-10-45z"/>
<path color="#46c33c" d="M1009 586l10 35 12-4-10-35z"/>
<path color="#42d279" d="M1019 621l10 27 12-6-10-25z"/>
<path color="#4be2aa" d="M1029 648l11 21 12-9-11-18z"/>
<path color="#59edc4" d="M1040 669l10 15 12-9-10-15z"/>
<path color="#66f7de" d="M1050 684l10 11 13-7-11-13z"/>
<path color="#6dfdea" d="M1060 695l11 9 10 5 11 4 12-5-10-2-11-7-10-11z"/>
<path color="#66f7de" d="M1092 713l10 3 13-8-11 0z"/>
<path color="#60f2d1" d="M1102 716l11 1 12-10-10 1z"/>
<path color="#59edc4" d="M1113 717l11 0 12-9-11-1z"/>
<path color="#52e8b7" d="M1124 717l10-3 13-5-11-1z"/>
<path color="#4be2aa" d="M1134 714l11-3 12-3-10 1z"/>
<path color="#484848" d="M1145 711l11-5 10-5 13-4-11 6-11 5z"/>
<path color="#3ec755" d="M1166 701l11-2 13-5-11 3z"/>
<path color="#3cc143" d="M1177 699l11 3 11 7 12-3-11-8-10-4z"/>
<path color="#3ec755" d="M1199 709l11 9 11 11 12-1-11-11-11-11z"/>
<path color="#40cc67" d="M1221 729l11 12 12-3-11-10z"/>
<path color="#42d279" d="M1232 741l11 12 12-6-11-9z"/>
<path color="#44d78b" d="M1243 753l11 13 12-8-11-11z"/>
<path color="#46dd9c" d="M1254 766l11 13 12-8-11-13z"/>
<path color="#52e8b7" d="M1265 779l11 13 12-5-11-16z"/>
<path color="#59edc4" d="M1276 792l11 13 12-3-11-15z"/>
<path color="#60f2d1" d="M1287 805l11 13 13-4-12-12z"/>
<path color="#66f7de" d="M1298 818l11 13 13-6-11-11z"/>
<path color="#6dfdea" d="M1309 831l12 12 12-8-11-10z"/>
<path color="#70fff0" d="M1321 843l11 13 11 14 13-8-12-15-11-12z"/>
<path color="#70fef0" d="M1343 870l12 13 12-7-11-14z"/>
<path color="#70fef1" d="M1355 883l11 13 11 12 12 11 11 11 12 9 12 8 12-6-12-10-11-12-12-10-11-10-12-10-11-13z"/>
<path color="#70fdf1" d="M1424 947l11 7 12 7 12 7 11 8 12 7 12 7 12-9-12-8-11-8-12-6-12-5-11-5-12-8z"/>
<path class="k" d="M401 481l8 4 9 4 9 5 8 5 9 5 8 5 9 5 9 4 8 4 9 3 9 3 9 3 8 4 9 4 9 4 9 3 9 4 9 4 9 5 9 4 9 5 9 5 9 1 9-23 9-23 9-25 9-26 10-26 9-23 9-19 9-16 10-14 9-12 9-8 10-6 9-2 10 22 9 14 9 7 10 4 10 5 9 3 10 3 9-1 10-1 10-1 9-1 10-3 10-6 10-8 10-7 9-7 10-7 10-9 10-14 10-18 10-20 10-10 10 11 11 33 10 47 10 54 10 54 10 49 11 42 10 35 10 27 11 21 10 15 10 11 11 9 10 5 11 4 10 3 11 1 11 0 10-3 11-3 11-5 10-5 11-2 11 3 11 7 11 9 11 11 11 12 11 12 11 13 11 13 11 13 11 13 11 13 11 13 12 12 11 13 11 14 12 13 11 13 11 12 12 11 11 11 12 9 12 8 11 7 12 7 12 7 11 8 12 7 12 7"/>
<path color="#2b4bee" d="M389 488l8 5 9 6 8 6 9 4 9 4 8 3 12-7-8-5-9-5-8-5-9-5-9-4-8-4z"/>
<path color="#325cef" d="M440 516l9 3 9 3 8 3 9 2 12-2-9-3-8-4-9-4-9-5z"/>
<path color="#396df0" d="M475 527l9 4 9 4 8 6 9 6 9 7 9 4 9 4 9 3 9 3 12-9-9-5-9-4-9-4-9-3-9-4-9-4-8-4-9-3-9-3z"/>
<path color="#4a8bf0" d="M555 568l9 4 12-9-9-4z"/>
<path color="#6cf1f0" d="M564 572l9 4 9 5 9 4 12-11-9-1-9-5-9-5z"/>
<path color="#484848" d="M591 585l9-18 9-25 9-25 9-27 9-27 10-23 9-19 9-16 9-13 13-13-10 14-9 16-9 19-9 23-10 26-9 26-9 25-9 23-9 23z"/>
<path color="#c5e92d" d="M673 392l10-9 12-16-9 12z"/>
<path color="#d1ec2b" d="M683 383l9-7 12-17-9 8z"/>
<path color="#d9ef2a" d="M692 376l9-6 13-17-10 6z"/>
<path color="#e1f129" d="M701 370l10-4 12-15-9 2z"/>
<path color="#ddf029" d="M711 366l9 16 13-9-10-22z"/>
<path color="#d5ed2b" d="M720 382l10 12 12-7-9-14z"/>
<path color="#d1ec2b" d="M730 394l9 5 10 3 12-4-10-4-9-7z"/>
<path color="#d5ed2b" d="M749 402l9 5 10 5 9 4 10 0 12-8-9 1-10-3-9-3-10-5z"/>
<path color="#d9ef2a" d="M787 416l10 0 12-9-10 1z"/>
<path color="#e1f129" d="M797 416l9 0 13-10-10 1z"/>
<path color="#e5f228" d="M806 416l10-1 12-10-9 1z"/>
<path color="#e8f328" d="M816 415l10-3 12-10-10 3z"/>
<path color="#ebf328" d="M826 412l10-7 12-9-10 6z"/>
<path color="#484848" d="M836 405l10-8 9-8 13-8-10 7-10 8z"/>
<path color="#f2f528" d="M855 389l10-6 12-9-9 7z"/>
<path color="#f3f028" d="M865 383l10-5 12-11-10 7z"/>
<path color="#f4e528" d="M875 378l10-7 12-13-10 9z"/>
<path color="#484848" d="M885 371l10-13 10-18 10-22 10-12 12-10-10 10-10 20-10 18-10 14z"/>
<path color="#ee3114" d="M925 306l10 10 12-9-10-11z"/>
<path color="#f24414" d="M935 316l10 32 13-8-11-33z"/>
<path color="#f59f20" d="M945 348l10 47 13-8-10-47z"/>
<path color="#f4eb28" d="M955 395l11 54 12-8-10-54z"/>
<path color="#ebf328" d="M966 449l10 54 12-8-10-54z"/>
<path color="#d1ec2b" d="M976 503l10 49 12-8-10-49z"/>
<path color="#97d92d" d="M986 552l10 43 13-9-11-42z"/>
<path color="#46c33c" d="M996 595l11 35 12-9-10-35z"/>
<path color="#42d279" d="M1007 630l10 26 12-8-10-27z"/>
<path color="#4be2aa" d="M1017 656l10 20 13-7-11-21z"/>
<path color="#59edc4" d="M1027 676l11 14 12-6-10-15z"/>
<path color="#66f7de" d="M1038 690l10 10 10 8 13-4-11-9-10-11z"/>
<path color="#6dfdea" d="M1058 708l11 8 10 7 13-10-11-4-10-5z"/>
<path color="#66f7de" d="M1079 723l11 4 11 2 12-12-11-1-10-3z"/>
<path color="#60f2d1" d="M1101 729l10-3 13-9-11 0z"/>
<path color="#52e8b7" d="M1111 726l11-6 12-6-10 3z"/>
<path color="#484848" d="M1122 720l11-7 10-8 11-5 11-2 12 1-11 2-10 5-11 5-11 3z"/>
<path color="#46c33c" d="M1165 698l11 4 11 7 12 0-11-7-11-3z"/>
<path color="#3cc143" d="M1187 709l10 11 11 13 13-4-11-11-11-9z"/>
<path color="#40cc67" d="M1208 733l11 15 13-7-11-12z"/>
<path color="#42d279" d="M1219 748l11 14 13-9-11-12z"/>
<path color="#44d78b" d="M1230 762l11 12 13-8-11-13z"/>
<path color="#46dd9c" d="M1241 774l11 12 13-7-11-13z"/>
<path color="#4be2aa" d="M1252 786l12 12 12-6-11-13z"/>
<path color="#52e8b7" d="M1264 798l11 12 12-5-11-13z"/>
<path color="#60f2d1" d="M1275 810l11 14 12-6-11-13z"/>
<path color="#66f7de" d="M1286 824l11 14 12-7-11-13z"/>
<path color="#6dfdea" d="M1297 838l11 14 13-9-12-12z"/>
<path color="#70fff0" d="M1308 852l12 13 11 12 11 12 13-6-12-13-11-14-11-13z"/>
<path color="#70fef0" d="M1342 889l12 11 12-4-11-13z"/>
<path color="#70fef1" d="M1354 900l11 12 12 11 11 11 12 10 11 10 12 10 12-10-11-7-12-8-12-9-11-11-12-11-11-12z"/>
<path color="#70fdf1" d="M1423 964l11 10 12 9 12 7 12 5 11 4 13-9-12-7-12-7-11-8-12-7-12-7z"/>
<path class="k" d="M389 488l8 5 9 6 8 6 9 4 9 4 8 3 9 3 9 3 8 3 9 2 9 4 9 4 8 6 9 6 9 7 9 4 9 4 9 3 9 3 9 4 9 4 9 5 9 4 9-18 9-25 9-25 9-27 9-27 10-23 9-19 9-16 9-13 10-9 9-7 9-6 10-4 9 16 10 12 9 5 10 3 9 5 10 5 9 4 10 0 10 0 9 0 10-1 10-3 10-7 10-8 9-8 10-6 10-5 10-7 10-13 10-18 10-22 10-12 10 10 10 32 10 47 11 54 10 54 10 49 10 43 11 35 10 26 10 20 11 14 10 10 10 8 11 8 10 7 11 4 11 2 10-3 11-6 11-7 10-8 11-5 11-2 11 4 11 7 10 11 11 13 11 15 11 14 11 12 11 12 12 12 11 12 11 14 11 14 11 14 12 13 11 12 11 12 12 11 11 12 12 11 11 11 12 10 11 10 12 10 11 10 12 9 12 7 12 5 11 4"/>
<path color="#2b4bee" d="M377 498l8 3 9 2 8 3 9 5 8 6 9 6 12-7-8-3-9-4-9-4-8-6-9-6-8-5z"/>
<path color="#325cef" d="M428 523l9 4 8 4 9 4 9 4 12-12-9-2-8-3-9-3-9-3z"/>
<path color="#396df0" d="M463 539l9 5 8 3 9 2 9 3 9 4 9 6 9 5 8 3 9 4 13-6-9-3-9-3-9-4-9-4-9-7-9-6-8-6-9-4-9-4z"/>
<path color="#3f79f0" d="M542 574l9 4 13-6-9-4z"/>
<path color="#5ec6f0" d="M551 578l9 5 13-7-9-4z"/>
<path color="#6cf1f0" d="M560 583l9 6 9 4 13-8-9-4-9-5z"/>
<path color="#484848" d="M578 593l10-9 9-25 9-25 9-26 9-27 9-25 10-21 9-17 9-12 9-11 13-12-10 9-9 13-9 16-9 19-10 23-9 27-9 27-9 25-9 25-9 18z"/>
<path color="#cdeb2c" d="M670 395l10-9 12-10-9 7z"/>
<path color="#484848" d="M680 386l9-9 12-7-9 6z"/>
<path color="#ddf029" d="M689 377l10-4 9 12 12-3-9-16-10 4z"/>
<path color="#d5ed2b" d="M708 385l9 17 13-8-10-12z"/>
<path color="#d1ec2b" d="M717 402l10 8 9 3 10 4 10 5 12-10-10-5-9-5-10-3-9-5z"/>
<path color="#d5ed2b" d="M756 422l9 4 10 1 12-11-10 0-9-4z"/>
<path color="#d9ef2a" d="M775 427l9-2 13-9-10 0z"/>
<path color="#ddf029" d="M784 425l10-2 12-7-9 0z"/>
<path color="#e1f129" d="M794 423l10-2 12-6-10 1z"/>
<path color="#e5f228" d="M804 421l10-1 12-8-10 3z"/>
<path color="#e9f328" d="M814 420l9-3 13-12-10 7z"/>
<path color="#ecf428" d="M823 417l10-7 13-13-10 8z"/>
<path color="#eef428" d="M833 410l10-7 12-14-9 8z"/>
<path color="#f0f528" d="M843 403l10-8 12-12-10 6z"/>
<path color="#f3f528" d="M853 395l10-6 12-11-10 5z"/>
<path color="#f4e528" d="M863 389l10-9 12-9-10 7z"/>
<path color="#484848" d="M873 380l10-14 10-20 10-21 10-11 12-8-10 12-10 22-10 18-10 13z"/>
<path color="#ef3814" d="M913 314l10 12 12-10-10-10z"/>
<path color="#f25216" d="M923 326l10 34 12-12-10-32z"/>
<path color="#f5ac22" d="M933 360l10 47 12-12-10-47z"/>
<path color="#f3f028" d="M943 407l10 53 13-11-11-54z"/>
<path color="#ebf328" d="M953 460l10 53 13-10-10-54z"/>
<path color="#d1ec2b" d="M963 513l11 49 12-10-10-49z"/>
<path color="#97d92d" d="M974 562l10 43 12-10-10-43z"/>
<path color="#46c33c" d="M984 605l10 35 13-10-11-35z"/>
<path color="#44d78b" d="M994 640l10 25 13-9-10-26z"/>
<path color="#4be2aa" d="M1004 665l11 19 12-8-10-20z"/>
<path color="#59edc4" d="M1015 684l10 14 13-8-11-14z"/>
<path color="#60f2d1" d="M1025 698l11 11 12-9-10-10z"/>
<path color="#66f7de" d="M1036 709l10 8 11 5 10 2 11 1 12 2-11-4-10-7-11-8-10-8z"/>
<path color="#484848" d="M1078 725l10 1 11 0 10-2 11-5 11-7 12-7-10 8-11 7-11 6-10 3-11-2z"/>
<path color="#3ec755" d="M1131 712l11-4 12-8-11 5z"/>
<path color="#46c33c" d="M1142 708l10-1 11 4 11 7 11 7 12-5-10-11-11-7-11-4-11 2z"/>
<path color="#3cc143" d="M1185 725l11 10 12-2-11-13z"/>
<path color="#3ec755" d="M1196 735l11 13 12 0-11-15z"/>
<path color="#40cc67" d="M1207 748l11 14 12 0-11-14z"/>
<path color="#42d279" d="M1218 762l11 13 12-1-11-12z"/>
<path color="#46dd9c" d="M1229 775l11 12 12-1-11-12z"/>
<path color="#4be2aa" d="M1240 787l11 12 13-1-12-12z"/>
<path color="#52e8b7" d="M1251 799l11 14 13-3-11-12z"/>
<path color="#59edc4" d="M1262 813l11 16 13-5-11-14z"/>
<path color="#60f2d1" d="M1273 829l12 15 12-6-11-14z"/>
<path color="#6dfdea" d="M1285 844l11 14 12-6-11-14z"/>
<path color="#70fff0" d="M1296 858l11 14 11 13 12 15 12-11-11-12-11-12-12-13z"/>
<path color="#70fef0" d="M1330 900l11 14 13-14-12-11z"/>
<path color="#70fef1" d="M1341 914l12 11 11 9 12 9 11 9 12 11 11 9 13-8-12-10-11-10-12-10-11-11-12-11-11-12z"/>
<path color="#70fdf1" d="M1410 972l12 7 12 7 11 7 12 8 12 8 12-10-11-4-12-5-12-7-12-9-11-10z"/>
<path class="k" d="M377 498l8 3 9 2 8 3 9 5 8 6 9 6 9 4 8 4 9 4 9 4 9 5 8 3 9 2 9 3 9 4 9 6 9 5 8 3 9 4 9 4 9 5 9 6 9 4 10-9 9-25 9-25 9-26 9-27 9-25 10-21 9-17 9-12 9-11 10-9 9-9 10-4 9 12 9 17 10 8 9 3 10 4 10 5 9 4 10 1 9-2 10-2 10-2 10-1 9-3 10-7 10-7 10-8 10-6 10-9 10-14 10-20 10-21 10-11 10 12 10 34 10 47 10 53 10 53 11 49 10 43 10 35 10 25 11 19 10 14 11 11 10 8 11 5 10 2 11 1 10 1 11 0 10-2 11-5 11-7 11-4 10-1 11 4 11 7 11 7 11 10 11 13 11 14 11 13 11 12 11 12 11 14 11 16 12 15 11 14 11 14 11 13 12 15 11 14 12 11 11 9 12 9 11 9 12 11 11 9 12 7 12 7 11 7 12 8 12 8"/>
<path color="#2b4bee" d="M365 502l8 7 9 6 8 4 9 1 12-9-9-5-8-3-9-2-8-3z"/>
<path color="#325cef" d="M399 520l8 3 9 4 9 5 8 5 9 4 9 3 8 5 9 5 12-7-8-3-9-5-9-4-9-4-8-4-9-4-9-6-8-6z"/>
<path color="#396df0" d="M468 554l9 6 9 4 9 3 8 2 9 4 9 4 9 4 9 3 12-6-9-4-9-4-8-3-9-5-9-6-9-4-9-3-9-2z"/>
<path color="#4a8bf0" d="M539 584l9 2 12-3-9-5z"/>
<path color="#6cf1f0" d="M548 586l9 5 9 7 9 4 13-18-10 9-9-4-9-6z"/>
<path color="#484848" d="M575 602l9-22 10-27 9-30 9-29 9-23 9-18 10-17 9-16 9-15 9-12 10-6 12-10-9 9-10 9-9 11-9 12-9 17-10 21-9 25-9 27-9 26-9 25-9 25z"/>
<path color="#ddf029" d="M677 387l9-2 10 8 12-8-9-12-10 4z"/>
<path color="#d5ed2b" d="M696 393l9 18 12-9-9-17z"/>
<path color="#d1ec2b" d="M705 411l10 7 9 4 10 5 9 6 10 3 12-10-9-4-10-5-10-4-9-3-10-8z"/>
<path color="#d5ed2b" d="M753 436l9-1 13-8-10-1z"/>
<path color="#d9ef2a" d="M762 435l10-1 12-9-9 2z"/>
<path color="#ddf029" d="M772 434l10 0 12-11-10 2z"/>
<path color="#e1f129" d="M782 434l10 1 12-14-10 2z"/>
<path color="#e5f228" d="M792 435l9-1 13-14-10 1z"/>
<path color="#e8f328" d="M801 434l10-6 12-11-9 3z"/>
<path color="#484848" d="M811 428l10-10 10-8 10-6 12-9-10 8-10 7-10 7z"/>
<path color="#f3f528" d="M841 404l9-5 13-10-10 6z"/>
<path color="#484848" d="M850 399l10-9 10-15 10-20 10-19 13-11-10 21-10 20-10 14-10 9z"/>
<path color="#f13e14" d="M890 336l10-7 10 15 13-18-10-12-10 11z"/>
<path color="#f36218" d="M910 344l10 34 13-18-10-34z"/>
<path color="#f5b824" d="M920 378l11 45 12-16-10-47z"/>
<path color="#f3f528" d="M931 423l10 49 12-12-10-53z"/>
<path color="#e9f328" d="M941 472l10 49 12-8-10-53z"/>
<path color="#d1ec2b" d="M951 521l10 48 13-7-11-49z"/>
<path color="#97d92d" d="M961 569l10 42 13-6-10-43z"/>
<path color="#46c33c" d="M971 611l11 34 12-5-10-35z"/>
<path color="#42d279" d="M982 645l10 25 12-5-10-25z"/>
<path color="#4be2aa" d="M992 670l10 18 13-4-11-19z"/>
<path color="#59edc4" d="M1002 688l11 14 12-4-10-14z"/>
<path color="#60f2d1" d="M1013 702l10 12 13-5-11-11z"/>
<path color="#66f7de" d="M1023 714l11 11 12-8-10-8z"/>
<path color="#6dfdea" d="M1034 725l10 7 13-10-11-5z"/>
<path color="#66f7de" d="M1044 732l11 4 10 0 13-11-11-1-10-2z"/>
<path color="#60f2d1" d="M1065 736l11 0 12-10-10-1z"/>
<path color="#59edc4" d="M1076 736l10-3 13-7-11 0z"/>
<path color="#4be2aa" d="M1086 733l11-5 12-4-10 2z"/>
<path color="#484848" d="M1097 728l11-7 10-9 11-6 11-1 12 2-10 1-11 4-11 7-11 5z"/>
<path color="#54c639" d="M1140 705l11 7 11 9 12-3-11-7-11-4z"/>
<path color="#46c33c" d="M1162 721l11 9 10 9 13-4-11-10-11-7z"/>
<path color="#3cc143" d="M1183 739l11 11 13-2-11-13z"/>
<path color="#3ec755" d="M1194 750l11 14 13-2-11-14z"/>
<path color="#40cc67" d="M1205 764l11 16 13-5-11-13z"/>
<path color="#44d78b" d="M1216 780l12 16 12-9-11-12z"/>
<path color="#46dd9c" d="M1228 796l11 12 12-9-11-12z"/>
<path color="#4be2aa" d="M1239 808l11 12 12-7-11-14z"/>
<path color="#52e8b7" d="M1250 820l11 13 12-4-11-16z"/>
<path color="#60f2d1" d="M1261 833l11 15 13-4-12-15z"/>
<path color="#66f7de" d="M1272 848l11 18 13-8-11-14z"/>
<path color="#70fff0" d="M1283 866l12 16 11 13 11 10 13-5-12-15-11-13-11-14z"/>
<path color="#70fef0" d="M1317 905l12 11 12-2-11-14z"/>
<path color="#70fef1" d="M1329 916l11 11 12 13 11 11 12 11 11 9 12 10 12-9-11-9-12-11-11-9-12-9-11-9-12-11z"/>
<path color="#70fdf1" d="M1398 981l11 10 12 9 12 7 12 5 11 5 13-8-12-8-12-8-11-7-12-7-12-7z"/>
<path class="k" d="M365 502l8 7 9 6 8 4 9 1 8 3 9 4 9 5 8 5 9 4 9 3 8 5 9 5 9 6 9 4 9 3 8 2 9 4 9 4 9 4 9 3 9 2 9 5 9 7 9 4 9-22 10-27 9-30 9-29 9-23 9-18 10-17 9-16 9-15 9-12 10-6 9-2 10 8 9 18 10 7 9 4 10 5 9 6 10 3 9-1 10-1 10 0 10 1 9-1 10-6 10-10 10-8 10-6 9-5 10-9 10-15 10-20 10-19 10-7 10 15 10 34 11 45 10 49 10 49 10 48 10 42 11 34 10 25 10 18 11 14 10 12 11 11 10 7 11 4 10 0 11 0 10-3 11-5 11-7 10-9 11-6 11-1 11 7 11 9 11 9 10 9 11 11 11 14 11 16 12 16 11 12 11 12 11 13 11 15 11 18 12 16 11 13 11 10 12 11 11 11 12 13 11 11 12 11 11 9 12 10 11 10 12 9 12 7 12 5 11 5"/>
<path color="#2b4bee" d="M352 511l9 4 8 3 9 4 9 4 8 5 12-8-8-3-9-1-8-4-9-6-8-7z"/>
<path color="#325cef" d="M395 531l9 5 8 6 9 4 9 4 8 3 9 3 9 3 12-5-9-5-8-5-9-3-9-4-8-5-9-5-9-4z"/>
<path color="#396df0" d="M456 559l9 4 8 4 9 4 9 5 9 5 9 5 9 5 9 4 12-11-9-3-9-4-9-4-9-4-8-2-9-3-9-4-9-6z"/>
<path color="#4a8bf0" d="M527 595l9 4 12-13-9-2z"/>
<path color="#6cf1f0" d="M536 599l9 3 9 4 9 3 12-7-9-4-9-7-9-5z"/>
<path color="#484848" d="M563 609l9-20 9-26 9-26 10-27 9-23 9-19 9-17 10-15 9-14 12-17-9 15-9 16-10 17-9 18-9 23-9 29-9 30-10 27-9 22z"/>
<path color="#c5e92d" d="M646 422l9-11 12-18-9 12z"/>
<path color="#d1ec2b" d="M655 411l10-10 12-14-10 6z"/>
<path color="#d9ef2a" d="M665 401l9-6 12-10-9 2z"/>
<path color="#ddf029" d="M674 395l9-1 13-1-10-8z"/>
<path color="#d5ed2b" d="M683 394l10 22 12-5-9-18z"/>
<path color="#d1ec2b" d="M693 416l9 10 13-8-10-7z"/>
<path color="#cdeb2c" d="M702 426l10 7 9 6 10 5 9 3 13-11-10-3-9-6-10-5-9-4z"/>
<path color="#d1ec2b" d="M740 447l10 0 12-12-9 1z"/>
<path color="#d5ed2b" d="M750 447l10-2 12-11-10 1z"/>
<path color="#d9ef2a" d="M760 445l9-1 13-10-10 0z"/>
<path color="#ddf029" d="M769 444l10-1 13-8-10-1z"/>
<path color="#e1f129" d="M779 443l10-1 12-8-9 1z"/>
<path color="#e8f328" d="M789 442l10-5 12-9-10 6z"/>
<path color="#ebf328" d="M799 437l9-6 13-13-10 10z"/>
<path color="#edf428" d="M808 431l10-7 13-14-10 8z"/>
<path color="#eff428" d="M818 424l10-7 13-13-10 6z"/>
<path color="#f2f528" d="M828 417l10-7 12-11-9 5z"/>
<path color="#484848" d="M838 410l10-10 10-12 10-17 10-18 12-17-10 19-10 20-10 15-10 9z"/>
<path color="#f25216" d="M878 353l10-8 12-16-10 7z"/>
<path color="#f24414" d="M888 345l10 11 12-12-10-15z"/>
<path color="#f4721a" d="M898 356l10 30 12-8-10-34z"/>
<path color="#f5c525" d="M908 386l10 44 13-7-11-45z"/>
<path color="#f3f528" d="M918 430l10 51 13-9-10-49z"/>
<path color="#e9f328" d="M928 481l11 50 12-10-10-49z"/>
<path color="#cdeb2c" d="M939 531l10 47 12-9-10-48z"/>
<path color="#97d92d" d="M949 578l10 41 12-8-10-42z"/>
<path color="#46c33c" d="M959 619l10 34 13-8-11-34z"/>
<path color="#42d279" d="M969 653l11 27 12-10-10-25z"/>
<path color="#4be2aa" d="M980 680l10 21 12-13-10-18z"/>
<path color="#59edc4" d="M990 701l10 14 13-13-11-14z"/>
<path color="#60f2d1" d="M1000 715l11 9 12-10-10-12z"/>
<path color="#66f7de" d="M1011 724l10 7 11 3 10 3 13-1-11-4-10-7-11-11z"/>
<path color="#60f2d1" d="M1042 737l11 1 12-2-10 0z"/>
<path color="#59edc4" d="M1053 738l10 0 13-2-11 0z"/>
<path color="#52e8b7" d="M1063 738l11-1 12-4-10 3z"/>
<path color="#484848" d="M1074 737l11-4 10-6 11-7 11-8 12-6-11 6-10 9-11 7-11 5z"/>
<path color="#54c639" d="M1117 712l10-3 13-4-11 1z"/>
<path color="#62ca35" d="M1127 709l11 3 11 7 11 10 13 1-11-9-11-9-11-7z"/>
<path color="#54c639" d="M1160 729l11 12 12-2-10-9z"/>
<path color="#46c33c" d="M1171 741l11 14 12-5-11-11z"/>
<path color="#3cc143" d="M1182 755l11 14 12-5-11-14z"/>
<path color="#40cc67" d="M1193 769l11 15 12-4-11-16z"/>
<path color="#42d279" d="M1204 784l11 14 13-2-12-16z"/>
<path color="#46dd9c" d="M1215 798l11 14 13-4-11-12z"/>
<path color="#4be2aa" d="M1226 812l11 14 13-6-11-12z"/>
<path color="#52e8b7" d="M1237 826l11 15 13-8-11-13z"/>
<path color="#59edc4" d="M1248 841l12 15 12-8-11-15z"/>
<path color="#66f7de" d="M1260 856l11 14 12-4-11-18z"/>
<path color="#70fff0" d="M1271 870l11 14 11 14 12 13 12-6-11-10-11-13-12-16z"/>
<path color="#70fef0" d="M1305 911l11 13 13-8-12-11z"/>
<path color="#70fef1" d="M1316 924l12 13 11 12 12 12 11 12 12 10 12-12-11-9-12-11-11-11-12-13-11-11z"/>
<path color="#70fdf1" d="M1374 983l11 8 12 8 12 7 11 6 12 6 12 6 12-7-11-5-12-5-12-7-12-9-11-10-12-10z"/>
<path class="k" d="M352 511l9 4 8 3 9 4 9 4 8 5 9 5 8 6 9 4 9 4 8 3 9 3 9 3 9 4 8 4 9 4 9 5 9 5 9 5 9 5 9 4 9 4 9 3 9 4 9 3 9-20 9-26 9-26 10-27 9-23 9-19 9-17 10-15 9-14 9-11 10-10 9-6 9-1 10 22 9 10 10 7 9 6 10 5 9 3 10 0 10-2 9-1 10-1 10-1 10-5 9-6 10-7 10-7 10-7 10-10 10-12 10-17 10-18 10-8 10 11 10 30 10 44 10 51 11 50 10 47 10 41 10 34 11 27 10 21 10 14 11 9 10 7 11 3 10 3 11 1 10 0 11-1 11-4 10-6 11-7 11-8 10-3 11 3 11 7 11 10 11 12 11 14 11 14 11 15 11 14 11 14 11 14 11 15 12 15 11 14 11 14 11 14 12 13 11 13 12 13 11 12 12 12 11 12 12 10 11 8 12 8 12 7 11 6 12 6 12 6"/>
<path color="#2b4bee" d="M340 514l9 5 8 6 9 6 8 6 9 5 8 5 9 4 9 4 8 3 13-8-9-4-9-4-8-6-9-5-8-5-9-4-9-4-8-3-9-4z"/>
<path color="#325cef" d="M417 558l9 4 9 3 9 2 12-8-9-3-9-3-8-3z"/>
<path color="#396df0" d="M444 567l8 3 9 2 9 3 9 4 9 5 9 6 9 6 9 6 12-7-9-4-9-5-9-5-9-5-9-5-9-4-8-4-9-4z"/>
<path color="#4a8bf0" d="M515 602l9 5 12-8-9-4z"/>
<path color="#6cf1f0" d="M524 607l9 6 9 4 9 5 12-13-9-3-9-4-9-3z"/>
<path color="#484848" d="M551 622l9-13 9-26 9-29 9-29 9-26 10-21 9-18 9-15 9-12 10-10 12-12-9 11-9 14-10 15-9 17-9 19-9 23-10 27-9 26-9 26-9 20z"/>
<path color="#c9ea2c" d="M643 423l9-8 13-14-10 10z"/>
<path color="#d1ec2b" d="M652 415l10-5 12-15-9 6z"/>
<path color="#d9ef2a" d="M662 410l9-3 12-13-9 1z"/>
<path color="#d5ed2b" d="M671 407l9 20 13-11-10-22z"/>
<path color="#cdeb2c" d="M680 427l10 12 9 7 13-13-10-7-9-10z"/>
<path color="#c9ea2c" d="M699 446l10 6 9 6 10 2 12-13-9-3-10-5-9-6z"/>
<path color="#cdeb2c" d="M728 460l10-1 12-12-10 0z"/>
<path color="#d1ec2b" d="M738 459l9-3 13-11-10 2z"/>
<path color="#d9ef2a" d="M747 456l10-2 12-10-9 1z"/>
<path color="#ddf029" d="M757 454l10-1 12-10-10 1z"/>
<path color="#e1f129" d="M767 453l9-2 13-9-10 1z"/>
<path color="#e5f228" d="M776 451l10-5 13-9-10 5z"/>
<path color="#e9f328" d="M786 446l10-7 12-8-9 6z"/>
<path color="#ecf428" d="M796 439l10-6 12-9-10 7z"/>
<path color="#eef428" d="M806 433l10-5 12-11-10 7z"/>
<path color="#f0f528" d="M816 428l10-5 12-13-10 7z"/>
<path color="#f3f528" d="M826 423l9-7 13-16-10 10z"/>
<path color="#f4e528" d="M835 416l10-11 13-17-10 12z"/>
<path color="#484848" d="M845 405l10-16 10-18 13-18-10 18-10 17z"/>
<path color="#f36218" d="M865 371l10-10 13-16-10 8z"/>
<path color="#f25216" d="M875 361l10 9 13-14-10-11z"/>
<path color="#f4821c" d="M885 370l11 29 12-13-10-30z"/>
<path color="#f5d227" d="M896 399l10 44 12-13-10-44z"/>
<path color="#f2f528" d="M906 443l10 50 12-12-10-51z"/>
<path color="#e8f328" d="M916 493l10 50 13-12-11-50z"/>
<path color="#cdeb2c" d="M926 543l10 46 13-11-10-47z"/>
<path color="#8ad52d" d="M936 589l10 39 13-9-10-41z"/>
<path color="#46c33c" d="M946 628l11 32 12-7-10-34z"/>
<path color="#42d279" d="M957 660l10 24 13-4-11-27z"/>
<path color="#4be2aa" d="M967 684l10 20 13-3-10-21z"/>
<path color="#59edc4" d="M977 704l11 14 12-3-10-14z"/>
<path color="#60f2d1" d="M988 718l10 12 13-6-11-9z"/>
<path color="#66f7de" d="M998 730l11 9 10 5 11 3 12-10-10-3-11-3-10-7z"/>
<path color="#60f2d1" d="M1030 747l10 1 13-10-11-1z"/>
<path color="#59edc4" d="M1040 748l11-2 12-8-10 0z"/>
<path color="#52e8b7" d="M1051 746l10-3 13-6-11 1z"/>
<path color="#484848" d="M1061 743l11-6 11-8 10-8 11-8 11-4 12 0-10 3-11 8-11 7-10 6-11 4z"/>
<path color="#6fce32" d="M1115 709l11 2 11 8 10 11 13-1-11-10-11-7-11-3z"/>
<path color="#62ca35" d="M1147 730l11 13 13-2-11-12z"/>
<path color="#54c639" d="M1158 743l11 14 13-2-11-14z"/>
<path color="#3cc143" d="M1169 757l11 15 13-3-11-14z"/>
<path color="#3ec755" d="M1180 772l11 15 13-3-11-15z"/>
<path color="#42d279" d="M1191 787l11 15 13-4-11-14z"/>
<path color="#44d78b" d="M1202 802l12 15 12-5-11-14z"/>
<path color="#46dd9c" d="M1214 817l11 15 12-6-11-14z"/>
<path color="#52e8b7" d="M1225 832l11 15 12-6-11-15z"/>
<path color="#59edc4" d="M1236 847l11 16 13-7-12-15z"/>
<path color="#66f7de" d="M1247 863l11 14 13-7-11-14z"/>
<path color="#6dfdea" d="M1258 877l12 15 12-8-11-14z"/>
<path color="#70fff0" d="M1270 892l11 13 11 14 13-8-12-13-11-14z"/>
<path color="#70fef0" d="M1292 919l12 13 12-8-11-13z"/>
<path color="#70fef1" d="M1304 932l11 13 11 13 12 11 12 11 11 9 13-6-12-10-11-12-12-12-11-12-12-13z"/>
<path color="#70fdf1" d="M1361 989l12 8 11 8 12 8 12 8 12 8 11 7 13-12-12-6-12-6-11-6-12-7-12-8-11-8z"/>
<path class="k" d="M340 514l9 5 8 6 9 6 8 6 9 5 8 5 9 4 9 4 8 3 9 4 9 3 9 2 8 3 9 2 9 3 9 4 9 5 9 6 9 6 9 6 9 5 9 6 9 4 9 5 9-13 9-26 9-29 9-29 9-26 10-21 9-18 9-15 9-12 10-10 9-8 10-5 9-3 9 20 10 12 9 7 10 6 9 6 10 2 10-1 9-3 10-2 10-1 9-2 10-5 10-7 10-6 10-5 10-5 9-7 10-11 10-16 10-18 10-10 10 9 11 29 10 44 10 50 10 50 10 46 10 39 11 32 10 24 10 20 11 14 10 12 11 9 10 5 11 3 10 1 11-2 10-3 11-6 11-8 10-8 11-8 11-4 11 2 11 8 10 11 11 13 11 14 11 15 11 15 11 15 12 15 11 15 11 15 11 16 11 14 12 15 11 13 11 14 12 13 11 13 11 13 12 11 12 11 11 9 12 8 11 8 12 8 12 8 12 8 11 7"/>
<path color="#2b4bee" d="M328 524l8 5 9 6 8 5 9 5 9 4 8 3 9 3 8 3 13-3-9-4-9-4-8-5-9-5-8-6-9-6-8-6-9-5z"/>
<path color="#325cef" d="M396 558l9 3 9 3 9 4 8 5 13-6-9-2-9-3-9-4-8-3z"/>
<path color="#396df0" d="M431 573l9 4 9 5 9 5 9 5 8 5 9 5 9 4 9 4 13-8-9-6-9-6-9-6-9-5-9-4-9-3-9-2-8-3z"/>
<path color="#4a8bf0" d="M502 610l9 4 13-7-9-5z"/>
<path color="#6cf1f0" d="M511 614l9 4 9 3 9 3 13-2-9-5-9-4-9-6z"/>
<path color="#484848" d="M538 624l9-8 10-25 9-27 9-26 9-22 9-19 9-16 13-21-9 18-10 21-9 26-9 29-9 29-9 26-9 13z"/>
<path color="#54c639" d="M602 481l10-14 12-22-9 15z"/>
<path color="#7dd12f" d="M612 467l9-13 12-21-9 12z"/>
<path color="#a4de2d" d="M621 454l9-11 13-20-10 10z"/>
<path color="#c5e92d" d="M630 443l10-10 12-18-9 8z"/>
<path color="#cdeb2c" d="M640 433l9-7 13-16-10 5z"/>
<path color="#d5ed2b" d="M649 426l10-5 9 12 12-6-9-20-9 3z"/>
<path color="#cdeb2c" d="M668 433l9 12 13-6-10-12z"/>
<path color="#c9ea2c" d="M677 445l10 7 9 6 10 7 10 5 9 1 13-12-10 1-10-2-9-6-10-6-9-7z"/>
<path color="#cdeb2c" d="M725 471l10-1 12-14-9 3z"/>
<path color="#d1ec2b" d="M735 470l10 0 12-16-10 2z"/>
<path color="#d9ef2a" d="M745 470l9-1 13-16-10 1z"/>
<path color="#ddf029" d="M754 469l10-2 12-16-9 2z"/>
<path color="#e1f129" d="M764 467l10-4 12-17-10 5z"/>
<path color="#e8f328" d="M774 463l9-7 13-17-10 7z"/>
<path color="#ebf328" d="M783 456l10-6 13-17-10 6z"/>
<path color="#edf428" d="M793 450l10-6 13-16-10 5z"/>
<path color="#eff428" d="M803 444l10-7 13-14-10 5z"/>
<path color="#f2f528" d="M813 437l10-9 12-12-9 7z"/>
<path color="#484848" d="M823 428l10-12 10-16 10-18 12-11-10 18-10 16-10 11z"/>
<path color="#f4821c" d="M853 382l10-8 12-13-10 10z"/>
<path color="#f4721a" d="M863 374l10 10 12-14-10-9z"/>
<path color="#f5921e" d="M873 384l10 31 13-16-11-29z"/>
<path color="#f5da28" d="M883 415l10 44 13-16-10-44z"/>
<path color="#f0f528" d="M893 459l10 49 13-15-10-50z"/>
<path color="#e5f228" d="M903 508l10 49 13-14-10-50z"/>
<path color="#c9ea2c" d="M913 557l11 45 12-13-10-46z"/>
<path color="#8ad52d" d="M924 602l10 38 12-12-10-39z"/>
<path color="#3cc143" d="M934 640l10 30 13-10-11-32z"/>
<path color="#42d279" d="M944 670l11 24 12-10-10-24z"/>
<path color="#4be2aa" d="M955 694l10 19 12-9-10-20z"/>
<path color="#59edc4" d="M965 713l10 14 13-9-11-14z"/>
<path color="#60f2d1" d="M975 727l11 10 12-7-10-12z"/>
<path color="#66f7de" d="M986 737l10 7 11 5 10 3 13-5-11-3-10-5-11-9z"/>
<path color="#60f2d1" d="M1017 752l11 0 12-4-10-1z"/>
<path color="#59edc4" d="M1028 752l10-2 13-4-11 2z"/>
<path color="#484848" d="M1038 750l11-4 10-7 11-8 11-8 11-8 10-3 13-3-11 4-11 8-10 8-11 8-11 6-10 3z"/>
<path color="#7dd12f" d="M1102 712l11 3 13-4-11-2z"/>
<path color="#8ad52d" d="M1113 715l11 7 13-3-11-8z"/>
<path color="#7dd12f" d="M1124 722l11 10 12-2-10-11z"/>
<path color="#6fce32" d="M1135 732l11 11 12 0-11-13z"/>
<path color="#62ca35" d="M1146 743l11 14 12 0-11-14z"/>
<path color="#46c33c" d="M1157 757l11 15 12 0-11-15z"/>
<path color="#3cc143" d="M1168 772l11 16 12-1-11-15z"/>
<path color="#40cc67" d="M1179 788l11 17 12-3-11-15z"/>
<path color="#42d279" d="M1190 805l11 17 13-5-12-15z"/>
<path color="#46dd9c" d="M1201 822l11 16 13-6-11-15z"/>
<path color="#52e8b7" d="M1212 838l11 16 13-7-11-15z"/>
<path color="#59edc4" d="M1223 854l11 15 13-6-11-16z"/>
<path color="#60f2d1" d="M1234 869l12 14 12-6-11-14z"/>
<path color="#6dfdea" d="M1246 883l11 14 13-5-12-15z"/>
<path color="#70fff0" d="M1257 897l11 13 12 14 11 13 13-5-12-13-11-14-11-13z"/>
<path color="#70fef1" d="M1291 937l11 14 12 14 11 13 12 12 11 10 13-11-11-9-12-11-12-11-11-13-11-13z"/>
<path color="#70fdf1" d="M1348 1000l12 10 12 7 11 7 12 6 12 6 12 5 12-5-11-7-12-8-12-8-12-8-11-8-12-8z"/>
<path class="k" d="M328 524l8 5 9 6 8 5 9 5 9 4 8 3 9 3 8 3 9 3 9 3 9 4 8 5 9 4 9 5 9 5 9 5 8 5 9 5 9 4 9 4 9 4 9 4 9 3 9 3 9-8 10-25 9-27 9-26 9-22 9-19 9-16 10-14 9-13 9-11 10-10 9-7 10-5 9 12 9 12 10 7 9 6 10 7 10 5 9 1 10-1 10 0 9-1 10-2 10-4 9-7 10-6 10-6 10-7 10-9 10-12 10-16 10-18 10-8 10 10 10 31 10 44 10 49 10 49 11 45 10 38 10 30 11 24 10 19 10 14 11 10 10 7 11 5 10 3 11 0 10-2 11-4 10-7 11-8 11-8 11-8 10-3 11 3 11 7 11 10 11 11 11 14 11 15 11 16 11 17 11 17 11 16 11 16 11 15 12 14 11 14 11 13 12 14 11 13 11 14 12 14 11 13 12 12 11 10 12 10 12 7 11 7 12 6 12 6 12 5"/>
<path color="#253dee" d="M316 533l8 6 9 4 8 2 12-5-8-5-9-6-8-5z"/>
<path color="#2b4bee" d="M341 545l9 2 8 4 9 6 8 7 9 4 12-10-8-3-9-3-8-3-9-4-9-5z"/>
<path color="#325cef" d="M384 568l9 1 9 2 12-7-9-3-9-3z"/>
<path color="#396df0" d="M402 571l8 4 9 7 12-9-8-5-9-4z"/>
<path color="#325cef" d="M419 582l9 6 9 5 12-11-9-5-9-4z"/>
<path color="#396df0" d="M437 593l8 3 9 3 9 3 9 6 9 4 9 4 12-6-9-4-9-4-9-5-8-5-9-5-9-5z"/>
<path color="#4a8bf0" d="M490 616l9 3 12-5-9-4z"/>
<path color="#6cf1f0" d="M499 619l9 4 9 5 9 6 9-2 12-16-9 8-9-3-9-3-9-4z"/>
<path color="#484848" d="M535 632l9-25 9-28 9-26 10-21 9-18 9-17 9-16 10-14 9-10 12-14-9 11-9 13-10 14-9 16-9 19-9 22-9 26-9 27-10 25z"/>
<path color="#b1e22d" d="M618 457l9-7 13-17-10 10z"/>
<path color="#c5e92d" d="M627 450l10-6 12-18-9 7z"/>
<path color="#cdeb2c" d="M637 444l9-6 13-17-10 5z"/>
<path color="#d1ec2b" d="M646 438l10 4 12-9-9-12z"/>
<path color="#cdeb2c" d="M656 442l9 13 12-10-9-12z"/>
<path color="#c9ea2c" d="M665 455l9 8 13-11-10-7z"/>
<path color="#c5e92d" d="M674 463l10 9 10 8 9 5 10-1 12-13-9-1-10-5-10-7-9-6z"/>
<path color="#c9ea2c" d="M713 484l9-2 13-12-10 1z"/>
<path color="#cdeb2c" d="M722 482l10 0 13-12-10 0z"/>
<path color="#d1ec2b" d="M732 482l10 1 12-14-9 1z"/>
<path color="#d5ed2b" d="M742 483l9 0 13-16-10 2z"/>
<path color="#ddf029" d="M751 483l10-4 13-16-10 4z"/>
<path color="#e5f228" d="M761 479l10-7 12-16-9 7z"/>
<path color="#e9f328" d="M771 472l10-8 12-14-10 6z"/>
<path color="#ecf428" d="M781 464l10-6 12-14-10 6z"/>
<path color="#eef428" d="M791 458l10-6 12-15-10 7z"/>
<path color="#f0f528" d="M801 452l9-9 13-15-10 9z"/>
<path color="#484848" d="M810 443l10-11 10-16 10-16 13-18-10 18-10 16-10 12z"/>
<path color="#f5921e" d="M840 400l10-7 13-19-10 8z"/>
<path color="#f4821c" d="M850 393l10 12 13-21-10-10z"/>
<path color="#f5ac22" d="M860 405l10 29 13-19-10-31z"/>
<path color="#f4e028" d="M870 434l11 40 12-15-10-44z"/>
<path color="#eff428" d="M881 474l10 47 12-13-10-49z"/>
<path color="#e1f129" d="M891 521l10 48 12-12-10-49z"/>
<path color="#c5e92d" d="M901 569l10 45 13-12-11-45z"/>
<path color="#7dd12f" d="M911 614l10 39 13-13-10-38z"/>
<path color="#3cc143" d="M921 653l11 30 12-13-10-30z"/>
<path color="#44d78b" d="M932 683l10 21 13-10-11-24z"/>
<path color="#4be2aa" d="M942 704l10 14 13-5-10-19z"/>
<path color="#59edc4" d="M952 718l11 12 12-3-10-14z"/>
<path color="#60f2d1" d="M963 730l10 12 13-5-11-10z"/>
<path color="#66f7de" d="M973 742l11 9 10 6 13-8-11-5-10-7z"/>
<path color="#60f2d1" d="M994 757l11 2 12-7-10-3z"/>
<path color="#59edc4" d="M1005 759l10-2 13-5-11 0z"/>
<path color="#52e8b7" d="M1015 757l11-3 12-4-10 2z"/>
<path color="#4be2aa" d="M1026 754l10-3 13-5-11 4z"/>
<path color="#484848" d="M1036 751l11-7 11-9 10-12 11-11 11-3 12 3-10 3-11 8-11 8-11 8-10 7z"/>
<path color="#97d92d" d="M1090 709l11 5 10 9 13-1-11-7-11-3z"/>
<path color="#8ad52d" d="M1111 723l11 10 13-1-11-10z"/>
<path color="#7dd12f" d="M1122 733l11 11 13-1-11-11z"/>
<path color="#6fce32" d="M1133 744l11 15 13-2-11-14z"/>
<path color="#62ca35" d="M1144 759l11 17 13-4-11-15z"/>
<path color="#46c33c" d="M1155 776l11 17 13-5-11-16z"/>
<path color="#3ec755" d="M1166 793l11 16 13-4-11-17z"/>
<path color="#42d279" d="M1177 809l11 14 13-1-11-17z"/>
<path color="#44d78b" d="M1188 823l11 14 13 1-11-16z"/>
<path color="#4be2aa" d="M1199 837l12 16 12 1-11-16z"/>
<path color="#52e8b7" d="M1211 853l11 19 12-3-11-15z"/>
<path color="#60f2d1" d="M1222 872l11 18 13-7-12-14z"/>
<path color="#66f7de" d="M1233 890l11 15 13-8-11-14z"/>
<path color="#70fff0" d="M1244 905l12 13 11 14 11 15 13-10-11-13-12-14-11-13z"/>
<path color="#70fef1" d="M1278 947l12 16 11 15 12 10 11 7 12 8 11 9 13-2-12-10-11-10-12-12-11-13-12-14-11-14z"/>
<path color="#70fdf1" d="M1347 1012l12 10 12 10 11 8 12 6 12 6 13-11-12-5-12-6-12-6-11-7-12-7z"/>
<path class="k" d="M316 533l8 6 9 4 8 2 9 2 8 4 9 6 8 7 9 4 9 1 9 2 8 4 9 7 9 6 9 5 8 3 9 3 9 3 9 6 9 4 9 4 9 3 9 4 9 5 9 6 9-2 9-25 9-28 9-26 10-21 9-18 9-17 9-16 10-14 9-10 9-7 10-6 9-6 10 4 9 13 9 8 10 9 10 8 9 5 10-1 9-2 10 0 10 1 9 0 10-4 10-7 10-8 10-6 10-6 9-9 10-11 10-16 10-16 10-7 10 12 10 29 11 40 10 47 10 48 10 45 10 39 11 30 10 21 10 14 11 12 10 12 11 9 10 6 11 2 10-2 11-3 10-3 11-7 11-9 10-12 11-11 11-3 11 5 10 9 11 10 11 11 11 15 11 17 11 17 11 16 11 14 11 14 12 16 11 19 11 18 11 15 12 13 11 14 11 15 12 16 11 15 12 10 11 7 12 8 11 9 12 10 12 10 11 8 12 6 12 6"/>
<path color="#253dee" d="M303 542l9 5 8 3 9 4 12-9-8-2-9-4-8-6z"/>
<path color="#2b4bee" d="M329 554l8 3 9 3 9 3 8 3 12-2-8-7-9-6-8-4-9-2z"/>
<path color="#325cef" d="M363 566l9 4 8 3 9 5 9 5 9 6 8 5 9 6 9 4 12-8-8-3-9-5-9-6-9-7-8-4-9-2-9-1-9-4z"/>
<path color="#396df0" d="M433 604l9 5 9 4 9 4 8 4 9 4 13-9-9-4-9-4-9-6-9-3-9-3z"/>
<path color="#4a8bf0" d="M477 625l9 4 13-10-9-3z"/>
<path color="#6cf1f0" d="M486 629l9 3 9 3 9 2 10 1 12-6-9 2-9-6-9-5-9-4z"/>
<path color="#484848" d="M523 638l9-23 9-25 9-23 9-21 9-17 10-14 9-13 12-21-9 16-9 17-9 18-10 21-9 26-9 28-9 25z"/>
<path color="#46c33c" d="M587 502l9-12 13-23-10 14z"/>
<path color="#6fce32" d="M596 490l9-11 13-22-9 10z"/>
<path color="#97d92d" d="M605 479l10-9 12-20-9 7z"/>
<path color="#b1e22d" d="M615 470l9-7 13-19-10 6z"/>
<path color="#c5e92d" d="M624 463l10-7 12-18-9 6z"/>
<path color="#c9ea2c" d="M634 456l9-3 9 15 13-13-9-13-10-4z"/>
<path color="#c5e92d" d="M652 468l10 7 9 7 13-10-10-9-9-8z"/>
<path color="#bee62d" d="M671 482l10 7 10 6 9 3 13-14-10 1-9-5-10-8z"/>
<path color="#c5e92d" d="M700 498l10 1 12-17-9 2z"/>
<path color="#c9ea2c" d="M710 499l9 1 13-18-10 0z"/>
<path color="#cdeb2c" d="M719 500l10 1 13-18-10-1z"/>
<path color="#d1ec2b" d="M729 501l10-1 12-17-9 0z"/>
<path color="#d5ed2b" d="M739 500l10-4 12-17-10 4z"/>
<path color="#ddf029" d="M749 496l9-7 13-17-10 7z"/>
<path color="#e5f228" d="M758 489l10-6 13-19-10 8z"/>
<path color="#e9f328" d="M768 483l10-6 13-19-10 6z"/>
<path color="#ecf428" d="M778 477l10-6 13-19-10 6z"/>
<path color="#eef428" d="M788 471l10-8 12-20-9 9z"/>
<path color="#f2f528" d="M798 463l10-12 12-19-10 11z"/>
<path color="#f4eb28" d="M808 451l10-15 12-20-10 16z"/>
<path color="#484848" d="M818 436l10-17 12-19-10 16z"/>
<path color="#f5ac22" d="M828 419l10-8 12-18-10 7z"/>
<path color="#f59f20" d="M838 411l10 9 12-15-10-12z"/>
<path color="#f5c525" d="M848 420l10 28 12-14-10-29z"/>
<path color="#f4eb28" d="M858 448l10 42 13-16-11-40z"/>
<path color="#edf428" d="M868 490l10 47 13-16-10-47z"/>
<path color="#ddf029" d="M878 537l10 47 13-15-10-48z"/>
<path color="#bee62d" d="M888 584l11 43 12-13-10-45z"/>
<path color="#6fce32" d="M899 627l10 37 12-11-10-39z"/>
<path color="#3ec755" d="M909 664l10 29 13-10-11-30z"/>
<path color="#44d78b" d="M919 693l10 22 13-11-10-21z"/>
<path color="#52e8b7" d="M929 715l11 17 12-14-10-14z"/>
<path color="#59edc4" d="M940 732l10 11 13-13-11-12z"/>
<path color="#60f2d1" d="M950 743l10 9 11 5 10 4 11 1 13-3-11-2-10-6-11-9-10-12z"/>
<path color="#59edc4" d="M992 762l10-1 13-4-10 2z"/>
<path color="#484848" d="M1002 761l11-4 11-6 10-8 11-9 11-11 10-9 11-5 13 0-11 3-11 11-10 12-11 9-11 7-10 3-11 3z"/>
<path color="#a4de2d" d="M1077 709l11 4 11 9 12 1-10-9-11-5z"/>
<path color="#97d92d" d="M1099 722l11 11 12 0-11-10z"/>
<path color="#8ad52d" d="M1110 733l11 14 12-3-11-11z"/>
<path color="#7dd12f" d="M1121 747l10 15 13-3-11-15z"/>
<path color="#6fce32" d="M1131 762l11 15 13-1-11-17z"/>
<path color="#54c639" d="M1142 777l11 16 13 0-11-17z"/>
<path color="#3cc143" d="M1153 793l12 16 12 0-11-16z"/>
<path color="#3ec755" d="M1165 809l11 16 12-2-11-14z"/>
<path color="#42d279" d="M1176 825l11 16 12-4-11-14z"/>
<path color="#46dd9c" d="M1187 841l11 16 13-4-12-16z"/>
<path color="#4be2aa" d="M1198 857l11 17 13-2-11-19z"/>
<path color="#59edc4" d="M1209 874l11 16 13 0-11-18z"/>
<path color="#66f7de" d="M1220 890l12 17 12-2-11-15z"/>
<path color="#6dfdea" d="M1232 907l11 17 13-6-12-13z"/>
<path color="#70fff0" d="M1243 924l11 17 12 16 12-10-11-15-11-14z"/>
<path color="#70fef1" d="M1266 957l11 15 11 14 12 11 12 10 11 9 12 8 12-12-11-9-12-8-11-7-12-10-11-15-12-16z"/>
<path color="#70fdf1" d="M1335 1024l11 7 12 7 12 7 12 6 11 7 13-6-12-6-12-6-11-8-12-10-12-10z"/>
<path class="k" d="M303 542l9 5 8 3 9 4 8 3 9 3 9 3 8 3 9 4 8 3 9 5 9 5 9 6 8 5 9 6 9 4 9 5 9 4 9 4 8 4 9 4 9 4 9 3 9 3 9 2 10 1 9-23 9-25 9-23 9-21 9-17 10-14 9-13 9-12 9-11 10-9 9-7 10-7 9-3 9 15 10 7 9 7 10 7 10 6 9 3 10 1 9 1 10 1 10-1 10-4 9-7 10-6 10-6 10-6 10-8 10-12 10-15 10-17 10-8 10 9 10 28 10 42 10 47 10 47 11 43 10 37 10 29 10 22 11 17 10 11 10 9 11 5 10 4 11 1 10-1 11-4 11-6 10-8 11-9 11-11 10-9 11-5 11 4 11 9 11 11 11 14 10 15 11 15 11 16 12 16 11 16 11 16 11 16 11 17 11 16 12 17 11 17 11 17 12 16 11 15 11 14 12 11 12 10 11 9 12 8 11 7 12 7 12 7 12 6 11 7"/>
<path color="#253dee" d="M291 546l8 5 9 5 8 4 9 4 12-7-8-3-9-4-8-3-9-5z"/>
<path color="#2b4bee" d="M325 564l9 3 8 3 13-7-9-3-9-3z"/>
<path color="#325cef" d="M342 570l9 4 8 6 9 5 9 5 8 4 9 4 9 3 9 4 9 4 12-5-9-4-9-6-8-5-9-6-9-5-9-5-8-3-9-4-8-3z"/>
<path color="#396df0" d="M421 609l8 5 9 3 9 4 9 4 9 4 12-4-9-4-8-4-9-4-9-4-9-5z"/>
<path color="#4a8bf0" d="M465 629l9 5 12-5-9-4z"/>
<path color="#6cf1f0" d="M474 634l9 5 9 6 9 5 9 4 13-16-10-1-9-2-9-3-9-3z"/>
<path color="#484848" d="M510 654l9-21 9-25 9-26 10-21 9-17 9-14 9-12 13-16-9 13-10 14-9 17-9 21-9 23-9 25-9 23z"/>
<path color="#3ec755" d="M574 518l10-12 12-16-9 12z"/>
<path color="#54c639" d="M584 506l9-10 12-17-9 11z"/>
<path color="#6fce32" d="M593 496l9-9 13-17-10 9z"/>
<path color="#97d92d" d="M602 487l10-7 12-17-9 7z"/>
<path color="#b1e22d" d="M612 480l9-6 13-18-10 7z"/>
<path color="#c5e92d" d="M621 474l9-4 10 13 12-15-9-15-9 3z"/>
<path color="#bee62d" d="M640 483l9 9 13-17-10-7z"/>
<path color="#b1e22d" d="M649 492l10 8 9 8 13-19-10-7-9-7z"/>
<path color="#a4de2d" d="M668 508l10 7 13-20-10-6z"/>
<path color="#b1e22d" d="M678 515l10 4 9 1 13-21-10-1-9-3z"/>
<path color="#bee62d" d="M697 520l10 0 12-20-9-1z"/>
<path color="#c5e92d" d="M707 520l10-1 12-18-10-1z"/>
<path color="#c9ea2c" d="M717 519l9-4 13-15-10 1z"/>
<path color="#d1ec2b" d="M726 515l10-6 13-13-10 4z"/>
<path color="#d5ed2b" d="M736 509l10-7 12-13-9 7z"/>
<path color="#e1f129" d="M746 502l10-5 12-14-10 6z"/>
<path color="#e5f228" d="M756 497l9-5 13-15-10 6z"/>
<path color="#e9f328" d="M765 492l10-4 13-17-10 6z"/>
<path color="#ecf428" d="M775 488l10-7 13-18-10 8z"/>
<path color="#eff428" d="M785 481l10-9 13-21-10 12z"/>
<path color="#f3f528" d="M795 472l10-13 13-23-10 15z"/>
<path color="#f4e528" d="M805 459l10-14 13-26-10 17z"/>
<path color="#f5d227" d="M815 445l10-6 13-28-10 8z"/>
<path color="#f5c525" d="M825 439l10 10 13-29-10-9z"/>
<path color="#f5da28" d="M835 449l10 28 13-29-10-28z"/>
<path color="#f3f528" d="M845 477l10 38 13-25-10-42z"/>
<path color="#ebf328" d="M855 515l11 43 12-21-10-47z"/>
<path color="#d5ed2b" d="M866 558l10 42 12-16-10-47z"/>
<path color="#b1e22d" d="M876 600l10 38 13-11-11-43z"/>
<path color="#62ca35" d="M886 638l10 33 13-7-10-37z"/>
<path color="#3ec755" d="M896 671l10 27 13-5-10-29z"/>
<path color="#46dd9c" d="M906 698l11 22 12-5-10-22z"/>
<path color="#52e8b7" d="M917 720l10 16 13-4-11-17z"/>
<path color="#59edc4" d="M927 736l10 12 13-5-10-11z"/>
<path color="#60f2d1" d="M937 748l11 8 10 7 11 5 10 3 13-9-11-1-10-4-11-5-10-9z"/>
<path color="#59edc4" d="M979 771l11 0 12-10-10 1z"/>
<path color="#4be2aa" d="M990 771l10-4 13-10-11 4z"/>
<path color="#44d78b" d="M1000 767l11-8 13-8-11 6z"/>
<path color="#484848" d="M1011 759l11-12 10-13 11-13 11-11 10-5 11 3 13 5-11-4-11 5-10 9-11 11-11 9-10 8z"/>
<path color="#bee62d" d="M1075 708l11 8 13 6-11-9z"/>
<path color="#b1e22d" d="M1086 716l11 12 13 5-11-11z"/>
<path color="#a4de2d" d="M1097 728l11 14 13 5-11-14z"/>
<path color="#97d92d" d="M1108 742l11 16 12 4-10-15z"/>
<path color="#7dd12f" d="M1119 758l11 17 12 2-11-15z"/>
<path color="#62ca35" d="M1130 775l11 18 12 0-11-16z"/>
<path color="#46c33c" d="M1141 793l11 18 13-2-12-16z"/>
<path color="#3cc143" d="M1152 811l11 17 13-3-11-16z"/>
<path color="#40cc67" d="M1163 828l11 17 13-4-11-16z"/>
<path color="#44d78b" d="M1174 845l11 18 13-6-11-16z"/>
<path color="#4be2aa" d="M1185 863l11 18 13-7-11-17z"/>
<path color="#52e8b7" d="M1196 881l12 18 12-9-11-16z"/>
<path color="#60f2d1" d="M1208 899l11 17 13-9-12-17z"/>
<path color="#6dfdea" d="M1219 916l11 18 13-10-11-17z"/>
<path color="#70fff0" d="M1230 934l11 15 12 14 13-6-12-16-11-17z"/>
<path color="#70fef1" d="M1253 963l11 13 12 12 11 12 12 12 11 11 13-7-11-9-12-10-12-11-11-14-11-15z"/>
<path color="#70fdf1" d="M1310 1023l12 9 12 8 11 7 12 7 12 8 12 8 12-12-11-7-12-6-12-7-12-7-11-7-12-8z"/>
<path class="k" d="M291 546l8 5 9 5 8 4 9 4 9 3 8 3 9 4 8 6 9 5 9 5 8 4 9 4 9 3 9 4 9 4 8 5 9 3 9 4 9 4 9 4 9 5 9 5 9 6 9 5 9 4 9-21 9-25 9-26 10-21 9-17 9-14 9-12 10-12 9-10 9-9 10-7 9-6 9-4 10 13 9 9 10 8 9 8 10 7 10 4 9 1 10 0 10-1 9-4 10-6 10-7 10-5 9-5 10-4 10-7 10-9 10-13 10-14 10-6 10 10 10 28 10 38 11 43 10 42 10 38 10 33 10 27 11 22 10 16 10 12 11 8 10 7 11 5 10 3 11 0 10-4 11-8 11-12 10-13 11-13 11-11 10-5 11 3 11 8 11 12 11 14 11 16 11 17 11 18 11 18 11 17 11 17 11 18 11 18 12 18 11 17 11 18 11 15 12 14 11 13 12 12 11 12 12 12 11 11 12 9 12 8 11 7 12 7 12 8 12 8"/>
<path color="#253dee" d="M279 555l8 4 9 4 8 4 12-7-8-4-9-5-8-5z"/>
<path color="#2b4bee" d="M304 567l9 4 8 3 9 4 8 4 9 4 12-6-8-6-9-4-8-3-9-3-9-4z"/>
<path color="#325cef" d="M347 586l9 5 8 5 9 5 9 5 8 4 9 4 9 3 13-8-9-4-9-4-9-3-9-4-8-4-9-5-9-5z"/>
<path color="#396df0" d="M408 617l9 3 9 4 9 4 9 5 8 5 13-9-9-4-9-4-9-4-9-3-8-5z"/>
<path color="#4a8bf0" d="M452 638l9 6 13-10-9-5z"/>
<path color="#6cf1f0" d="M461 644l9 5 9 5 9 3 10 2 12-5-9-4-9-5-9-6-9-5z"/>
<path color="#484848" d="M498 659l9-18 9-24 9-23 9-18 9-14 13-18-9 17-10 21-9 26-9 25-9 21z"/>
<path color="#60f2d1" d="M543 562l10-12 12-20-9 14z"/>
<path color="#4be2aa" d="M553 550l9-9 12-23-9 12z"/>
<path color="#44d78b" d="M562 541l9-9 13-26-10 12z"/>
<path color="#3ec755" d="M571 532l9-10 13-26-9 10z"/>
<path color="#54c639" d="M580 522l10-9 12-26-9 9z"/>
<path color="#6fce32" d="M590 513l9-10 13-23-10 7z"/>
<path color="#97d92d" d="M599 503l9-9 13-20-9 6z"/>
<path color="#b1e22d" d="M608 494l10-7 9 7 13-11-10-13-9 4z"/>
<path color="#a4de2d" d="M627 494l10 12 9 11 13-17-10-8-9-9z"/>
<path color="#97d92d" d="M646 517l10 12 12-21-9-8z"/>
<path color="#8ad52d" d="M656 529l9 9 10 3 13-22-10-4-10-7z"/>
<path color="#97d92d" d="M675 541l10 0 12-21-9-1z"/>
<path color="#a4de2d" d="M685 541l9-2 13-19-10 0z"/>
<path color="#b1e22d" d="M694 539l10-2 13-18-10 1z"/>
<path color="#bee62d" d="M704 537l10-3 12-19-9 4z"/>
<path color="#c9ea2c" d="M714 534l9-5 13-20-10 6z"/>
<path color="#d1ec2b" d="M723 529l10-5 13-22-10 7z"/>
<path color="#d9ef2a" d="M733 524l10-5 13-22-10 5z"/>
<path color="#ddf029" d="M743 519l10-4 12-23-9 5z"/>
<path color="#e5f228" d="M753 515l10-3 12-24-10 4z"/>
<path color="#e9f328" d="M763 512l10-6 12-25-10 7z"/>
<path color="#ecf428" d="M773 506l10-9 12-25-10 9z"/>
<path color="#eff428" d="M783 497l9-13 13-25-10 13z"/>
<path color="#f3f528" d="M792 484l10-13 13-26-10 14z"/>
<path color="#f4e528" d="M802 471l10-5 11 9 12-26-10-10-10 6z"/>
<path color="#f3f028" d="M823 475l10 26 12-24-10-28z"/>
<path color="#eff428" d="M833 501l10 36 12-22-10-38z"/>
<path color="#e8f328" d="M843 537l10 40 13-19-11-43z"/>
<path color="#cdeb2c" d="M853 577l10 40 13-17-10-42z"/>
<path color="#a4de2d" d="M863 617l10 36 13-15-10-38z"/>
<path color="#62ca35" d="M873 653l10 31 13-13-10-33z"/>
<path color="#3ec755" d="M883 684l11 26 12-12-10-27z"/>
<path color="#46dd9c" d="M894 710l10 20 13-10-11-22z"/>
<path color="#52e8b7" d="M904 730l10 16 13-10-10-16z"/>
<path color="#59edc4" d="M914 746l11 13 12-11-10-12z"/>
<path color="#60f2d1" d="M925 759l10 8 11 6 10 2 13-7-11-5-10-7-11-8z"/>
<path color="#59edc4" d="M956 775l10-1 13-3-10-3z"/>
<path color="#52e8b7" d="M966 774l11-3 13 0-11 0z"/>
<path color="#484848" d="M977 771l11-5 10-9 11-10 10-13 11-14 11-12 11-7 10 3 13 4-11-3-10 5-11 11-11 13-10 13-11 12-11 8-10 4z"/>
<path color="#c9ea2c" d="M1062 704l11 8 13 4-11-8z"/>
<path color="#c5e92d" d="M1073 712l11 11 13 5-11-12z"/>
<path color="#bee62d" d="M1084 723l11 13 13 6-11-14z"/>
<path color="#b1e22d" d="M1095 736l11 16 13 6-11-16z"/>
<path color="#97d92d" d="M1106 752l11 18 13 5-11-17z"/>
<path color="#7dd12f" d="M1117 770l11 19 13 4-11-18z"/>
<path color="#62ca35" d="M1128 789l11 20 13 2-11-18z"/>
<path color="#46c33c" d="M1139 809l11 21 13-2-11-17z"/>
<path color="#3ec755" d="M1150 830l11 21 13-6-11-17z"/>
<path color="#44d78b" d="M1161 851l11 20 13-8-11-18z"/>
<path color="#4be2aa" d="M1172 871l12 18 12-8-11-18z"/>
<path color="#52e8b7" d="M1184 889l11 17 13-7-12-18z"/>
<path color="#60f2d1" d="M1195 906l11 15 13-5-11-17z"/>
<path color="#6dfdea" d="M1206 921l11 14 13-1-11-18z"/>
<path color="#70fff0" d="M1217 935l12 14 11 14 13 0-12-14-11-15z"/>
<path color="#70fef0" d="M1240 963l11 16 13-3-11-13z"/>
<path color="#70fef1" d="M1251 979l12 16 11 16 12 14 12 12 12-14-11-11-12-12-11-12-12-12z"/>
<path color="#70fdf1" d="M1298 1037l11 9 12 6 11 4 12 4 12 5 12 7 13-2-12-8-12-8-12-7-11-7-12-8-12-9z"/>
<path class="k" d="M279 555l8 4 9 4 8 4 9 4 8 3 9 4 8 4 9 4 9 5 8 5 9 5 9 5 8 4 9 4 9 3 9 3 9 4 9 4 9 5 8 5 9 6 9 5 9 5 9 3 10 2 9-18 9-24 9-23 9-18 9-14 10-12 9-9 9-9 9-10 10-9 9-10 9-9 10-7 9 7 10 12 9 11 10 12 9 9 10 3 10 0 9-2 10-2 10-3 9-5 10-5 10-5 10-4 10-3 10-6 10-9 9-13 10-13 10-5 11 9 10 26 10 36 10 40 10 40 10 36 10 31 11 26 10 20 10 16 11 13 10 8 11 6 10 2 10-1 11-3 11-5 10-9 11-10 10-13 11-14 11-12 11-7 10 3 11 8 11 11 11 13 11 16 11 18 11 19 11 20 11 21 11 21 11 20 12 18 11 17 11 15 11 14 12 14 11 14 11 16 12 16 11 16 12 14 12 12 11 9 12 6 11 4 12 4 12 5 12 7"/>
<path color="#253dee" d="M266 561l9 6 8 6 9 4 8 3 13-9-9-4-8-4-9-4-8-4z"/>
<path color="#2b4bee" d="M300 580l9 1 8 2 13-5-9-4-8-3z"/>
<path color="#325cef" d="M317 583l9 4 8 5 9 5 9 6 9 5 8 4 9 4 9 5 9 5 8 5 13-11-9-3-9-3-9-4-8-4-9-5-9-5-8-5-9-5-9-4-8-4z"/>
<path color="#396df0" d="M404 631l9 5 9 4 9 3 9 2 12-7-8-5-9-5-9-4-9-4z"/>
<path color="#3f79f0" d="M440 645l9 2 12-3-9-6z"/>
<path color="#5ec6f0" d="M449 647l9 3 12-1-9-5z"/>
<path color="#6cf1f0" d="M458 650l9 5 9 6 9 5 13-7-10-2-9-3-9-5z"/>
<path color="#484848" d="M485 666l9-10 9-19 9-20 9-17 13-24-9 18-9 23-9 24-9 18z"/>
<path color="#70fef0" d="M521 600l10-15 12-23-9 14z"/>
<path color="#70fff0" d="M531 585l9-12 13-23-10 12z"/>
<path color="#60f2d1" d="M540 573l9-10 13-22-9 9z"/>
<path color="#4be2aa" d="M549 563l9-9 13-22-9 9z"/>
<path color="#44d78b" d="M558 554l10-8 12-24-9 10z"/>
<path color="#3ec755" d="M568 546l9-9 13-24-10 9z"/>
<path color="#46c33c" d="M577 537l9-7 13-27-9 10z"/>
<path color="#6fce32" d="M586 530l10-8 12-28-9 9z"/>
<path color="#8ad52d" d="M596 522l9-7 13-28-10 7z"/>
<path color="#97d92d" d="M605 515l10-1 9 11 13-19-10-12-9-7z"/>
<path color="#8ad52d" d="M624 525l10 10 12-18-9-11z"/>
<path color="#7dd12f" d="M634 535l9 9 13-15-10-12z"/>
<path color="#6fce32" d="M643 544l10 7 9 2 13-12-10-3-9-9z"/>
<path color="#7dd12f" d="M662 553l10 0 13-12-10 0z"/>
<path color="#8ad52d" d="M672 553l10-1 12-13-9 2z"/>
<path color="#97d92d" d="M682 552l9 1 13-16-10 2z"/>
<path color="#a4de2d" d="M691 553l10-1 13-18-10 3z"/>
<path color="#bee62d" d="M701 552l10-4 12-19-9 5z"/>
<path color="#c5e92d" d="M711 548l10-5 12-19-10 5z"/>
<path color="#cdeb2c" d="M721 543l9-5 13-19-10 5z"/>
<path color="#d5ed2b" d="M730 538l10-4 13-19-10 4z"/>
<path color="#ddf029" d="M740 534l10-4 13-18-10 3z"/>
<path color="#e1f129" d="M750 530l10-5 13-19-10 6z"/>
<path color="#e9f328" d="M760 525l10-8 13-20-10 9z"/>
<path color="#ecf428" d="M770 517l10-11 12-22-9 13z"/>
<path color="#eff428" d="M780 506l10-11 12-24-10 13z"/>
<path color="#f3f528" d="M790 495l10-6 10 9 13-23-11-9-10 5z"/>
<path color="#f0f528" d="M810 498l10 23 13-20-10-26z"/>
<path color="#ecf428" d="M820 521l10 35 13-19-10-36z"/>
<path color="#e1f129" d="M830 556l10 39 13-18-10-40z"/>
<path color="#c9ea2c" d="M840 595l10 39 13-17-10-40z"/>
<path color="#8ad52d" d="M850 634l10 36 13-17-10-36z"/>
<path color="#46c33c" d="M860 670l11 30 12-16-10-31z"/>
<path color="#40cc67" d="M871 700l10 23 13-13-11-26z"/>
<path color="#46dd9c" d="M881 723l10 19 13-12-10-20z"/>
<path color="#52e8b7" d="M891 742l11 13 12-9-10-16z"/>
<path color="#59edc4" d="M902 755l10 10 13-6-11-13z"/>
<path color="#60f2d1" d="M912 765l10 6 11 4 10 2 13-2-10-2-11-6-10-8z"/>
<path color="#59edc4" d="M943 777l11 1 12-4-10 1z"/>
<path color="#52e8b7" d="M954 778l10-2 13-5-11 3z"/>
<path color="#484848" d="M964 776l11-5 10-8 11-12 11-17 10-19 11-17 11-10 11 1 10 10 13 13-11-8-10-3-11 7-11 12-11 14-10 13-11 10-10 9-11 5z"/>
<path color="#d1ec2b" d="M1060 699l11 14 13 10-11-11z"/>
<path color="#cdeb2c" d="M1071 713l11 18 13 5-11-13z"/>
<path color="#c5e92d" d="M1082 731l11 19 13 2-11-16z"/>
<path color="#b1e22d" d="M1093 750l11 20 13 0-11-18z"/>
<path color="#97d92d" d="M1104 770l11 20 13-1-11-19z"/>
<path color="#6fce32" d="M1115 790l11 20 13-1-11-20z"/>
<path color="#54c639" d="M1126 810l11 20 13 0-11-21z"/>
<path color="#3cc143" d="M1137 830l11 20 13 1-11-21z"/>
<path color="#42d279" d="M1148 850l12 20 12 1-11-20z"/>
<path color="#46dd9c" d="M1160 870l11 18 13 1-12-18z"/>
<path color="#52e8b7" d="M1171 888l11 17 13 1-11-17z"/>
<path color="#59edc4" d="M1182 905l11 16 13 0-11-15z"/>
<path color="#66f7de" d="M1193 921l12 16 12-2-11-14z"/>
<path color="#6dfdea" d="M1205 937l11 18 13-6-12-14z"/>
<path color="#70fff0" d="M1216 955l11 18 12 18 12-12-11-16-11-14z"/>
<path color="#70fef1" d="M1239 991l11 17 12 14 11 11 12 8 13-4-12-12-12-14-11-16-12-16z"/>
<path color="#70fdf1" d="M1285 1041l11 7 12 7 12 8 11 8 12 8 12 7 13-14-12-7-12-5-12-4-11-4-12-6-11-9z"/>
<path class="k" d="M266 561l9 6 8 6 9 4 8 3 9 1 8 2 9 4 8 5 9 5 9 6 9 5 8 4 9 4 9 5 9 5 8 5 9 5 9 4 9 3 9 2 9 2 9 3 9 5 9 6 9 5 9-10 9-19 9-20 9-17 10-15 9-12 9-10 9-9 10-8 9-9 9-7 10-8 9-7 10-1 9 11 10 10 9 9 10 7 9 2 10 0 10-1 9 1 10-1 10-4 10-5 9-5 10-4 10-4 10-5 10-8 10-11 10-11 10-6 10 9 10 23 10 35 10 39 10 39 10 36 11 30 10 23 10 19 11 13 10 10 10 6 11 4 10 2 11 1 10-2 11-5 10-8 11-12 11-17 10-19 11-17 11-10 11 1 10 10 11 14 11 18 11 19 11 20 11 20 11 20 11 20 11 20 12 20 11 18 11 17 11 16 12 16 11 18 11 18 12 18 11 17 12 14 11 11 12 8 11 7 12 7 12 8 11 8 12 8 12 7"/>
<path color="#253dee" d="M254 567l8 2 9 5 8 6 9 5 12-5-8-3-9-4-8-6-9-6z"/>
<path color="#2b4bee" d="M288 585l8 5 9 4 8 4 9 5 9 5 8 3 13-8-9-6-9-5-8-5-9-4-8-2-9-1z"/>
<path color="#325cef" d="M339 611l9 3 9 3 8 6 9 6 9 5 9 4 9 2 12-4-9-5-8-5-9-5-9-5-9-4-8-4-9-5z"/>
<path color="#396df0" d="M401 640l9 2 8 5 9 7 9 5 13-12-9-2-9-2-9-3-9-4z"/>
<path color="#4a8bf0" d="M436 659l9 5 13-14-9-3z"/>
<path color="#6cf1f0" d="M445 664l9 3 9 3 9 3 13-7-9-5-9-6-9-5z"/>
<path color="#484848" d="M472 673l9-8 10-16 9-18 9-15 12-16-9 17-9 20-9 19-9 10z"/>
<path color="#70fef1" d="M509 616l9-10 13-21-10 15z"/>
<path color="#70fef0" d="M518 606l9-7 13-26-9 12z"/>
<path color="#70fff0" d="M527 599l10-7 12-29-9 10z"/>
<path color="#66f7de" d="M537 592l9-8 12-30-9 9z"/>
<path color="#52e8b7" d="M546 584l9-8 13-30-10 8z"/>
<path color="#46dd9c" d="M555 576l9-8 13-31-9 9z"/>
<path color="#42d279" d="M564 568l10-5 12-33-9 7z"/>
<path color="#3ec755" d="M574 563l9-6 13-35-10 8z"/>
<path color="#54c639" d="M583 557l10-7 12-35-9 7z"/>
<path color="#6fce32" d="M593 550l9-9 10 3 9 6 13-15-10-10-9-11-10 1z"/>
<path color="#62ca35" d="M621 550l10 10 9 10 10 4 9 1 13-22-10 0-9-2-10-7-9-9z"/>
<path color="#6fce32" d="M659 575l10 1 13-24-10 1z"/>
<path color="#7dd12f" d="M669 576l10 1 12-24-9-1z"/>
<path color="#8ad52d" d="M679 577l9 1 13-26-10 1z"/>
<path color="#97d92d" d="M688 578l10-3 13-27-10 4z"/>
<path color="#b1e22d" d="M698 575l10-7 13-25-10 5z"/>
<path color="#c5e92d" d="M708 568l10-9 12-21-9 5z"/>
<path color="#cdeb2c" d="M718 559l9-6 13-19-10 4z"/>
<path color="#d5ed2b" d="M727 553l10-3 13-20-10 4z"/>
<path color="#d9ef2a" d="M737 550l10-2 13-23-10 5z"/>
<path color="#e1f129" d="M747 548l10-4 13-27-10 8z"/>
<path color="#e8f328" d="M757 544l10-8 13-30-10 11z"/>
<path color="#ecf428" d="M767 536l10-10 13-31-10 11z"/>
<path color="#eef428" d="M777 526l10-4 13-33-10 6z"/>
<path color="#eff428" d="M787 522l10 9 13-33-10-9z"/>
<path color="#edf428" d="M797 531l10 23 13-33-10-23z"/>
<path color="#e8f328" d="M807 554l10 31 13-29-10-35z"/>
<path color="#d5ed2b" d="M817 585l10 34 13-24-10-39z"/>
<path color="#bee62d" d="M827 619l11 34 12-19-10-39z"/>
<path color="#6fce32" d="M838 653l10 32 12-15-10-36z"/>
<path color="#3cc143" d="M848 685l10 28 13-13-11-30z"/>
<path color="#42d279" d="M858 713l10 22 13-12-10-23z"/>
<path color="#4be2aa" d="M868 735l10 16 13-9-10-19z"/>
<path color="#52e8b7" d="M878 751l11 10 13-6-11-13z"/>
<path color="#59edc4" d="M889 761l10 9 13-5-10-10z"/>
<path color="#60f2d1" d="M899 770l11 7 10 7 13-9-11-4-10-6z"/>
<path color="#59edc4" d="M920 784l10 4 13-11-10-2z"/>
<path color="#52e8b7" d="M930 788l11-2 13-8-11-1z"/>
<path color="#4be2aa" d="M941 786l10-6 13-4-10 2z"/>
<path color="#484848" d="M951 780l11-9 11-12 10-14 11-19 11-21 10-19 11-10 11 3 13 10-11-1-11 10-11 17-10 19-11 17-11 12-10 8-11 5z"/>
<path color="#e1f129" d="M1037 679l11 10 12 10-10-10z"/>
<path color="#ddf029" d="M1048 689l11 13 12 11-11-14z"/>
<path color="#d9ef2a" d="M1059 702l10 15 13 14-11-18z"/>
<path color="#d1ec2b" d="M1069 717l11 19 13 14-11-19z"/>
<path color="#c5e92d" d="M1080 736l11 23 13 11-11-20z"/>
<path color="#b1e22d" d="M1091 759l11 25 13 6-11-20z"/>
<path color="#8ad52d" d="M1102 784l11 23 13 3-11-20z"/>
<path color="#6fce32" d="M1113 807l11 21 13 2-11-20z"/>
<path color="#46c33c" d="M1124 828l12 19 12 3-11-20z"/>
<path color="#3ec755" d="M1136 847l11 19 13 4-12-20z"/>
<path color="#42d279" d="M1147 866l11 20 13 2-11-18z"/>
<path color="#46dd9c" d="M1158 886l11 21 13-2-11-17z"/>
<path color="#52e8b7" d="M1169 907l11 21 13-7-11-16z"/>
<path color="#60f2d1" d="M1180 928l12 18 13-9-12-16z"/>
<path color="#6dfdea" d="M1192 946l11 17 13-8-11-18z"/>
<path color="#70fff0" d="M1203 963l11 18 13-8-11-18z"/>
<path color="#70fef0" d="M1214 981l12 18 13-8-12-18z"/>
<path color="#70fef1" d="M1226 999l11 15 12 12 11 9 12 9 11 10 12 11 13-10-12-7-11-7-12-8-11-11-12-14-11-17z"/>
<path color="#70fdf1" d="M1295 1065l12 9 11 6 12 5 12 6 13-5-12-7-12-8-11-8-12-8z"/>
<path class="k" d="M254 567l8 2 9 5 8 6 9 5 8 5 9 4 8 4 9 5 9 5 8 3 9 3 9 3 8 6 9 6 9 5 9 4 9 2 9 2 8 5 9 7 9 5 9 5 9 3 9 3 9 3 9-8 10-16 9-18 9-15 9-10 9-7 10-7 9-8 9-8 9-8 10-5 9-6 10-7 9-9 10 3 9 6 10 10 9 10 10 4 9 1 10 1 10 1 9 1 10-3 10-7 10-9 9-6 10-3 10-2 10-4 10-8 10-10 10-4 10 9 10 23 10 31 10 34 11 34 10 32 10 28 10 22 10 16 11 10 10 9 11 7 10 7 10 4 11-2 10-6 11-9 11-12 10-14 11-19 11-21 10-19 11-10 11 3 11 10 11 13 10 15 11 19 11 23 11 25 11 23 11 21 12 19 11 19 11 20 11 21 11 21 12 18 11 17 11 18 12 18 11 15 12 12 11 9 12 9 11 10 12 11 12 9 11 6 12 5 12 6"/>
<path color="#253dee" d="M241 578l9 4 8 3 9 3 8 4 13-7-9-5-8-6-9-5-8-2z"/>
<path color="#2b4bee" d="M275 592l9 5 8 4 9 4 8 4 9 3 9 4 12-5-8-3-9-5-9-5-8-4-9-4-8-5z"/>
<path color="#325cef" d="M327 616l8 4 9 5 9 5 9 4 8 4 9 5 9 6 13-9-9-2-9-4-9-5-9-6-8-6-9-3-9-3z"/>
<path color="#396df0" d="M388 649l9 6 9 6 9 4 9 3 12-9-9-5-9-7-8-5-9-2z"/>
<path color="#4a8bf0" d="M424 668l9 3 12-7-9-5z"/>
<path color="#6cf1f0" d="M433 671l9 2 9 3 9 2 12-5-9-3-9-3-9-3z"/>
<path color="#484848" d="M460 678l9-6 9-13 9-13 13-15-9 18-10 16-9 8z"/>
<path color="#70fdf1" d="M487 646l9-10 9-6 13-24-9 10-9 15z"/>
<path color="#70fef1" d="M505 630l10-4 9-4 13-30-10 7-9 7z"/>
<path color="#70fff0" d="M524 622l9-4 9-6 13-36-9 8-9 8z"/>
<path color="#66f7de" d="M542 612l10-6 12-38-9 8z"/>
<path color="#59edc4" d="M552 606l9-7 13-36-10 5z"/>
<path color="#4be2aa" d="M561 599l10-7 12-35-9 6z"/>
<path color="#42d279" d="M571 592l9-9 13-33-10 7z"/>
<path color="#3ec755" d="M580 583l9-10 13-32-9 9z"/>
<path color="#46c33c" d="M589 573l10-2 9 7 10 11 13-29-10-10-9-6-10-3z"/>
<path color="#3cc143" d="M618 589l9 10 13-29-9-10z"/>
<path color="#3ec755" d="M627 599l10 5 13-30-10-4z"/>
<path color="#3cc143" d="M637 604l10 3 12-32-9-1z"/>
<path color="#46c33c" d="M647 607l9 0 10 0 13-30-10-1-10-1z"/>
<path color="#54c639" d="M666 607l10-2 12-27-9-1z"/>
<path color="#6fce32" d="M676 605l9-4 13-26-10 3z"/>
<path color="#7dd12f" d="M685 601l10-5 13-28-10 7z"/>
<path color="#97d92d" d="M695 596l10-4 13-33-10 9z"/>
<path color="#b1e22d" d="M705 592l10-2 12-37-9 6z"/>
<path color="#c5e92d" d="M715 590l10-2 12-38-10 3z"/>
<path color="#c9ea2c" d="M725 588l9-3 13-37-10 2z"/>
<path color="#d1ec2b" d="M734 585l10-5 13-36-10 4z"/>
<path color="#d9ef2a" d="M744 580l10-6 13-38-10 8z"/>
<path color="#e1f129" d="M754 574l10-6 13-42-10 10z"/>
<path color="#e8f328" d="M764 568l10-2 10 7 13-42-10-9-10 4z"/>
<path color="#e5f228" d="M784 573l10 18 13-37-10-23z"/>
<path color="#d9ef2a" d="M794 591l10 25 13-31-10-31z"/>
<path color="#c5e92d" d="M804 616l11 30 12-27-10-34z"/>
<path color="#97d92d" d="M815 646l10 31 13-24-11-34z"/>
<path color="#54c639" d="M825 677l10 28 13-20-10-32z"/>
<path color="#3ec755" d="M835 705l10 24 13-16-10-28z"/>
<path color="#44d78b" d="M845 729l10 19 13-13-10-22z"/>
<path color="#4be2aa" d="M855 748l11 14 12-11-10-16z"/>
<path color="#59edc4" d="M866 762l10 11 10 8 13-11-10-9-11-10z"/>
<path color="#60f2d1" d="M886 781l11 6 10 3 13-6-10-7-11-7z"/>
<path color="#59edc4" d="M907 790l11 1 12-3-10-4z"/>
<path color="#52e8b7" d="M918 791l10-3 13-2-11 2z"/>
<path color="#484848" d="M928 788l11-6 10-10 11-14 10-19 11-23 11-26 10-23 11-15 11 2 11 11 11 17 13 20-11-13-11-10-11-3-11 10-10 19-11 21-11 19-10 14-11 12-11 9-10 6z"/>
<path color="#e5f228" d="M1046 682l11 21 12 14-10-15z"/>
<path color="#ddf029" d="M1057 703l10 23 13 10-11-19z"/>
<path color="#d1ec2b" d="M1067 726l11 24 13 9-11-23z"/>
<path color="#c5e92d" d="M1078 750l11 25 13 9-11-25z"/>
<path color="#a4de2d" d="M1089 775l11 24 13 8-11-23z"/>
<path color="#8ad52d" d="M1100 799l12 23 12 6-11-21z"/>
<path color="#62ca35" d="M1112 822l11 23 13 2-12-19z"/>
<path color="#46c33c" d="M1123 845l11 20 13 1-11-19z"/>
<path color="#3ec755" d="M1134 865l11 20 13 1-11-20z"/>
<path color="#44d78b" d="M1145 885l11 20 13 2-11-21z"/>
<path color="#4be2aa" d="M1156 905l11 20 13 3-11-21z"/>
<path color="#59edc4" d="M1167 925l12 21 13 0-12-18z"/>
<path color="#66f7de" d="M1179 946l11 21 13-4-11-17z"/>
<path color="#70fff0" d="M1190 967l11 19 12 17 13-4-12-18-11-18z"/>
<path color="#70fef1" d="M1213 1003l11 15 12 13 11 13 12 11 11 10 12 8 13-8-12-11-11-10-12-9-11-9-12-12-11-15z"/>
<path color="#70fdf1" d="M1282 1073l12 7 12 7 11 8 12 8 13-12-12-6-12-5-11-6-12-9z"/>
<path class="k" d="M241 578l9 4 8 3 9 3 8 4 9 5 8 4 9 4 8 4 9 3 9 4 8 4 9 5 9 5 9 4 8 4 9 5 9 6 9 6 9 6 9 4 9 3 9 3 9 2 9 3 9 2 9-6 9-13 9-13 9-10 9-6 10-4 9-4 9-4 9-6 10-6 9-7 10-7 9-9 9-10 10-2 9 7 10 11 9 10 10 5 10 3 9 0 10 0 10-2 9-4 10-5 10-4 10-2 10-2 9-3 10-5 10-6 10-6 10-2 10 7 10 18 10 25 11 30 10 31 10 28 10 24 10 19 11 14 10 11 10 8 11 6 10 3 11 1 10-3 11-6 10-10 11-14 10-19 11-23 11-26 10-23 11-15 11 2 11 11 11 17 11 21 10 23 11 24 11 25 11 24 12 23 11 23 11 20 11 20 11 20 11 20 12 21 11 21 11 19 12 17 11 15 12 13 11 13 12 11 11 10 12 8 12 7 12 7 11 8 12 8"/>
<path color="#2337ec" d="M229 586l8 5 13-9-9-4z"/>
<path color="#253dee" d="M237 591l9 3 8 3 9 2 12-7-8-4-9-3-8-3z"/>
<path color="#2b4bee" d="M263 599l8 4 9 4 8 5 9 4 8 3 13-7-9-3-8-4-9-4-8-4-9-5z"/>
<path color="#325cef" d="M305 619l9 3 9 4 9 6 8 7 9 7 9 6 9 3 8 2 9 2 13-4-9-6-9-6-9-5-8-4-9-4-9-5-9-5-8-4-9-4z"/>
<path color="#396df0" d="M384 659l9 3 9 5 9 6 13-5-9-3-9-4-9-6z"/>
<path color="#4a8bf0" d="M411 673l9 7 13-9-9-3z"/>
<path color="#6cf1f0" d="M420 680l9 4 9 3 9 1 9-5 13-11-9 6-9-2-9-3-9-2z"/>
<path color="#484848" d="M456 683l9-9 13-15-9 13z"/>
<path color="#70fbf2" d="M465 674l9-9 13-19-9 13z"/>
<path color="#70fdf2" d="M474 665l10-7 12-22-9 10z"/>
<path color="#70fdf1" d="M484 658l9-5 9-3 9-3 13-25-9 4-10 4-9 6z"/>
<path color="#70fef1" d="M511 647l9-2 10 0 12-33-9 6-9 4z"/>
<path color="#70fef0" d="M530 645l9 0 13-39-10 6z"/>
<path color="#70fff0" d="M539 645l9-1 10-5 13-47-10 7-9 7z"/>
<path color="#60f2d1" d="M558 639l9-11 13-45-9 9z"/>
<path color="#4be2aa" d="M567 628l10-13 12-42-9 10z"/>
<path color="#44d78b" d="M577 615l9-9 13-35-10 2z"/>
<path color="#42d279" d="M586 606l10 5 12-33-9-7z"/>
<path color="#44d78b" d="M596 611l9 12 13-34-10-11z"/>
<path color="#46dd9c" d="M605 623l10 12 9 8 10 3 13-39-10-3-10-5-9-10z"/>
<path color="#44d78b" d="M634 646l9 1 13-40-9 0z"/>
<path color="#42d279" d="M643 647l10 0 13-40-10 0z"/>
<path color="#40cc67" d="M653 647l10-2 13-40-10 2z"/>
<path color="#3ec755" d="M663 645l10-4 12-40-9 4z"/>
<path color="#46c33c" d="M673 641l9-4 13-41-10 5z"/>
<path color="#62ca35" d="M682 637l10-4 13-41-10 4z"/>
<path color="#6fce32" d="M692 633l10-2 13-41-10 2z"/>
<path color="#7dd12f" d="M702 631l10-2 13-41-10 2z"/>
<path color="#97d92d" d="M712 629l10-2 12-42-9 3z"/>
<path color="#a4de2d" d="M722 627l10-1 12-46-10 5z"/>
<path color="#bee62d" d="M732 626l9-1 13-51-10 6z"/>
<path color="#c5e92d" d="M741 625l10-1 13-56-10 6z"/>
<path color="#cdeb2c" d="M751 624l10 1 10 5 13-57-10-7-10 2z"/>
<path color="#c9ea2c" d="M771 630l10 12 13-51-10-18z"/>
<path color="#bee62d" d="M781 642l11 16 12-42-10-25z"/>
<path color="#97d92d" d="M792 658l10 20 13-32-11-30z"/>
<path color="#6fce32" d="M802 678l10 23 13-24-10-31z"/>
<path color="#3cc143" d="M812 701l10 23 13-19-10-28z"/>
<path color="#42d279" d="M822 724l10 23 13-18-10-24z"/>
<path color="#4be2aa" d="M832 747l11 18 12-17-10-19z"/>
<path color="#59edc4" d="M843 765l10 13 13-16-11-14z"/>
<path color="#60f2d1" d="M853 778l10 9 10 5 11 3 13-8-11-6-10-8-10-11z"/>
<path color="#59edc4" d="M884 795l10 1 11-1 13-4-11-1-10-3z"/>
<path color="#484848" d="M905 795l10-5 11-10 10-14 11-19 10-22 11-26 11-27 11-25 10-18 11-3 11 7 11 14 11 23 11 28 12 28-10-23-11-21-11-17-11-11-11-2-11 15-10 23-11 26-11 23-10 19-11 14-10 10-11 6-10 3z"/>
<path color="#e5f228" d="M1055 698l11 31 12 21-11-24z"/>
<path color="#d5ed2b" d="M1066 729l11 30 12 16-11-25z"/>
<path color="#c9ea2c" d="M1077 759l11 28 12 12-11-24z"/>
<path color="#a4de2d" d="M1088 787l11 26 13 9-12-23z"/>
<path color="#8ad52d" d="M1099 813l11 24 13 8-11-23z"/>
<path color="#62ca35" d="M1110 837l11 23 13 5-11-20z"/>
<path color="#3cc143" d="M1121 860l11 24 13 1-11-20z"/>
<path color="#40cc67" d="M1132 884l11 22 13-1-11-20z"/>
<path color="#46dd9c" d="M1143 906l12 21 12-2-11-20z"/>
<path color="#52e8b7" d="M1155 927l11 20 13-1-12-21z"/>
<path color="#60f2d1" d="M1166 947l11 18 13 2-11-21z"/>
<path color="#6dfdea" d="M1177 965l12 19 12 2-11-19z"/>
<path color="#70fff0" d="M1189 984l11 18 13 1-12-17z"/>
<path color="#70fef0" d="M1200 1002l11 19 13-3-11-15z"/>
<path color="#70fef1" d="M1211 1021l12 18 11 15 12 10 12 7 11 6 12 7 12 9 13-6-12-7-12-7-12-8-11-10-12-11-11-13-12-13z"/>
<path color="#70fdf1" d="M1293 1093l11 10 12 10 13-10-12-8-11-8z"/>
<path class="k" d="M229 586l8 5 9 3 8 3 9 2 8 4 9 4 8 5 9 4 8 3 9 3 9 4 9 6 8 7 9 7 9 6 9 3 8 2 9 2 9 3 9 5 9 6 9 7 9 4 9 3 9 1 9-5 9-9 9-9 10-7 9-5 9-3 9-3 9-2 10 0 9 0 9-1 10-5 9-11 10-13 9-9 10 5 9 12 10 12 9 8 10 3 9 1 10 0 10-2 10-4 9-4 10-4 10-2 10-2 10-2 10-1 9-1 10-1 10 1 10 5 10 12 11 16 10 20 10 23 10 23 10 23 11 18 10 13 10 9 10 5 11 3 10 1 11-1 10-5 11-10 10-14 11-19 10-22 11-26 11-27 11-25 10-18 11-3 11 7 11 14 11 23 11 28 11 31 11 30 11 28 11 26 11 24 11 23 11 24 11 22 12 21 11 20 11 18 12 19 11 18 11 19 12 18 11 15 12 10 12 7 11 6 12 7 12 9 11 10 12 10"/>
<path color="#253dee" d="M216 589l9 5 8 5 8 4 9 3 13-7-9-2-8-3-9-3-8-5z"/>
<path color="#2b4bee" d="M250 606l9 3 8 4 9 5 8 6 9 5 9 5 12-12-9-3-8-3-9-4-8-5-9-4-8-4z"/>
<path color="#325cef" d="M302 634l8 5 9 5 9 4 8 4 9 2 9 3 9 3 12-3-8-2-9-3-9-6-9-7-8-7-9-6-9-4z"/>
<path color="#396df0" d="M363 660l9 5 9 6 8 6 9 5 13-9-9-6-9-5-9-3-9-2z"/>
<path color="#4a8bf0" d="M398 682l9 4 13-6-9-7z"/>
<path color="#6cf1f0" d="M407 686l9 3 9 4 9 3 9-1 13-12-9 5-9-1-9-3-9-4z"/>
<path color="#6ef5f1" d="M443 695l10-5 12-16-9 9z"/>
<path color="#6ff8f1" d="M453 690l9-6 12-19-9 9z"/>
<path color="#70fbf2" d="M462 684l9-3 13-23-10 7z"/>
<path color="#70fcf2" d="M471 681l9-1 13-27-9 5z"/>
<path color="#70fdf2" d="M480 680l9 1 13-31-9 3z"/>
<path color="#70fdf1" d="M489 681l9 0 10-1 9-1 9 0 13-34-9 0-10 0-9 2-9 3z"/>
<path color="#70fef1" d="M526 679l10 0 9-2 9-5 13-44-9 11-10 5-9 1z"/>
<path color="#70fff0" d="M554 672l10-8 13-49-10 13z"/>
<path color="#6dfdea" d="M564 664l9-4 13-54-9 9z"/>
<path color="#60f2d1" d="M573 660l10 4 13-53-10-5z"/>
<path color="#66f7de" d="M583 664l9 11 13-52-9-12z"/>
<path color="#6dfdea" d="M592 675l10 11 13-51-10-12z"/>
<path color="#70fff0" d="M602 686l9 6 13-49-9-8z"/>
<path color="#6dfdea" d="M611 692l10 2 10 1 12-48-9-1-10-3z"/>
<path color="#66f7de" d="M631 695l9 1 13-49-10 0z"/>
<path color="#60f2d1" d="M640 696l10-1 13-50-10 2z"/>
<path color="#59edc4" d="M650 695l10-2 13-52-10 4z"/>
<path color="#4be2aa" d="M660 693l9-5 13-51-9 4z"/>
<path color="#44d78b" d="M669 688l10-5 13-50-10 4z"/>
<path color="#42d279" d="M679 683l10-2 13-50-10 2z"/>
<path color="#3ec755" d="M689 681l10-1 13-51-10 2z"/>
<path color="#3cc143" d="M699 680l10 1 13-54-10 2z"/>
<path color="#46c33c" d="M709 681l10 3 13-58-10 1z"/>
<path color="#54c639" d="M719 684l10 1 12-60-9 1z"/>
<path color="#62ca35" d="M729 685l10 1 10 3 12-64-10-1-10 1z"/>
<path color="#6fce32" d="M749 689l10 6 12-65-10-5z"/>
<path color="#62ca35" d="M759 695l10 10 12-63-10-12z"/>
<path color="#54c639" d="M769 705l10 13 13-60-11-16z"/>
<path color="#3cc143" d="M779 718l10 14 13-54-10-20z"/>
<path color="#40cc67" d="M789 732l10 13 13-44-10-23z"/>
<path color="#44d78b" d="M799 745l10 12 13-33-10-23z"/>
<path color="#4be2aa" d="M809 757l10 10 13-20-10-23z"/>
<path color="#52e8b7" d="M819 767l11 10 13-12-11-18z"/>
<path color="#59edc4" d="M830 777l10 8 13-7-10-13z"/>
<path color="#60f2d1" d="M840 785l10 6 11 4 10 3 13-3-11-3-10-5-10-9z"/>
<path color="#59edc4" d="M871 798l10 0 13-2-10-1z"/>
<path color="#52e8b7" d="M881 798l11-2 13-1-11 1z"/>
<path color="#484848" d="M892 796l10-5 11-10 10-17 11-23 11-30 10-36 11-38 11-35 10-23 11-3 11 11 11 20 11 27 13 36-11-23-11-14-11-7-11 3-10 18-11 25-11 27-11 26-10 22-11 19-10 14-11 10-10 5z"/>
<path color="#f3f528" d="M1031 634l11 31 13 33-11-28z"/>
<path color="#eef428" d="M1042 665l11 33 13 31-11-31z"/>
<path color="#e8f328" d="M1053 698l11 33 13 28-11-30z"/>
<path color="#d9ef2a" d="M1064 731l11 32 13 24-11-28z"/>
<path color="#c9ea2c" d="M1075 763l11 31 13 19-11-26z"/>
<path color="#b1e22d" d="M1086 794l11 29 13 14-11-24z"/>
<path color="#8ad52d" d="M1097 823l11 26 13 11-11-23z"/>
<path color="#62ca35" d="M1108 849l11 25 13 10-11-24z"/>
<path color="#3cc143" d="M1119 874l11 24 13 8-11-22z"/>
<path color="#42d279" d="M1130 898l12 24 13 5-12-21z"/>
<path color="#46dd9c" d="M1142 922l11 24 13 1-11-20z"/>
<path color="#59edc4" d="M1153 946l11 23 13-4-11-18z"/>
<path color="#66f7de" d="M1164 969l12 21 13-6-12-19z"/>
<path color="#70fff0" d="M1176 990l11 19 11 15 13-3-11-19-11-18z"/>
<path color="#70fef0" d="M1198 1024l12 15 13 0-12-18z"/>
<path color="#70fef1" d="M1210 1039l11 13 12 13 12 11 11 10 12 9 12 9 11 7 13-8-11-10-12-9-12-7-11-6-12-7-12-10-11-15z"/>
<path color="#70fdf1" d="M1291 1111l12 7 13-5-12-10z"/>
<path class="k" d="M216 589l9 5 8 5 8 4 9 3 9 3 8 4 9 5 8 6 9 5 9 5 8 5 9 5 9 4 8 4 9 2 9 3 9 3 9 5 9 6 8 6 9 5 9 4 9 3 9 4 9 3 9-1 10-5 9-6 9-3 9-1 9 1 9 0 10-1 9-1 9 0 10 0 9-2 9-5 10-8 9-4 10 4 9 11 10 11 9 6 10 2 10 1 9 1 10-1 10-2 9-5 10-5 10-2 10-1 10 1 10 3 10 1 10 1 10 3 10 6 10 10 10 13 10 14 10 13 10 12 10 10 11 10 10 8 10 6 11 4 10 3 10 0 11-2 10-5 11-10 10-17 11-23 11-30 10-36 11-38 11-35 10-23 11-3 11 11 11 20 11 27 11 31 11 33 11 33 11 32 11 31 11 29 11 26 11 25 11 24 12 24 11 24 11 23 12 21 11 19 11 15 12 15 11 13 12 13 12 11 11 10 12 9 12 9 11 7 12 7"/>
<path color="#253dee" d="M204 595l8 5 8 6 9 5 8 5 9 5 8 5 13-13-8-4-9-3-9-3-8-4-8-5-9-5z"/>
<path color="#2b4bee" d="M254 626l9 5 9 4 8 3 9 3 9 3 8 3 13-3-9-5-8-5-9-5-9-5-8-6-9-5z"/>
<path color="#325cef" d="M306 647l9 3 9 4 8 4 13-4-9-2-8-4-9-4z"/>
<path color="#396df0" d="M332 658l9 4 9 6 9 6 9 6 9 6 9 6 12-10-9-5-8-6-9-6-9-5-9-3-9-3z"/>
<path color="#4a8bf0" d="M386 692l9 5 12-11-9-4z"/>
<path color="#6cf1f0" d="M395 697l9 4 9 4 9 2 9 0 9-4 13-13-10 5-9 1-9-3-9-4-9-3z"/>
<path color="#6ef5f1" d="M440 703l9-5 13-14-9 6z"/>
<path color="#6ff8f1" d="M449 698l9-2 13-15-9 3z"/>
<path color="#70fbf2" d="M458 696l9 2 9 4 13-21-9-1-9 1z"/>
<path color="#70fcf2" d="M476 702l10 5 9 5 9 6 13-39-9 1-10 1-9 0z"/>
<path color="#70fdf2" d="M504 718l9 6 10 4 9 2 13-53-9 2-10 0-9 0z"/>
<path color="#70fdf1" d="M532 730l10-4 9-6 13-56-10 8-9 5z"/>
<path color="#70fef1" d="M551 720l9-3 10 5 9 11 10 11 13-58-10-11-9-11-10-4-9 4z"/>
<path color="#70fdf1" d="M589 744l10 5 12-57-9-6z"/>
<path color="#70fef1" d="M599 749l9 2 10 0 9 2 10 0 10-1 13-59-10 2-10 1-9-1-10-1-10-2z"/>
<path color="#70fff0" d="M647 752l10-2 9-2 13-65-10 5-9 5z"/>
<path color="#6dfdea" d="M666 748l10 1 13-68-10 2z"/>
<path color="#66f7de" d="M676 749l10 2 10 4 13-74-10-1-10 1z"/>
<path color="#60f2d1" d="M696 755l10 4 10 4 13-78-10-1-10-3z"/>
<path color="#59edc4" d="M716 763l10 3 10 3 13-80-10-3-10-1z"/>
<path color="#52e8b7" d="M736 769l10 3 10 4 13-71-10-10-10-6z"/>
<path color="#59edc4" d="M756 776l10 3 10 4 13-51-10-14-10-13z"/>
<path color="#60f2d1" d="M776 783l10 3 10 4 10 3 11 4 10 4 10 2 11 2 13-10-11-4-10-6-10-8-11-10-10-10-10-12-10-13z"/>
<path color="#59edc4" d="M848 805l10-1 13-6-10-3z"/>
<path color="#52e8b7" d="M858 804l10-2 13-4-10 0z"/>
<path color="#484848" d="M868 802l11-5 10-10 11-15 10-23 11-32 11-39 10-45 11-48 11-44 10-29 11-2 11 13 11 24 11 31 11 35 11 37 11 38 13 43-11-33-11-33-11-31-11-27-11-20-11-11-11 3-10 23-11 35-11 38-10 36-11 30-11 23-10 17-11 10-10 5-11 2z"/>
<path color="#ecf428" d="M1051 688l11 37 13 38-11-32z"/>
<path color="#e5f228" d="M1062 725l11 36 13 33-11-31z"/>
<path color="#d1ec2b" d="M1073 761l11 34 13 28-11-29z"/>
<path color="#bee62d" d="M1084 795l11 32 13 22-11-26z"/>
<path color="#97d92d" d="M1095 827l11 30 13 17-11-25z"/>
<path color="#62ca35" d="M1106 857l11 29 13 12-11-24z"/>
<path color="#3cc143" d="M1117 886l11 27 14 9-12-24z"/>
<path color="#42d279" d="M1128 913l12 27 13 6-11-24z"/>
<path color="#4be2aa" d="M1140 940l11 26 13 3-11-23z"/>
<path color="#60f2d1" d="M1151 966l11 23 14 1-12-21z"/>
<path color="#6dfdea" d="M1162 989l12 21 13-1-11-19z"/>
<path color="#70fff0" d="M1174 1010l11 18 13-4-11-15z"/>
<path color="#70fef0" d="M1185 1028l12 16 13-5-12-15z"/>
<path color="#70fef1" d="M1197 1044l11 14 12 13 11 10 12 8 12 8 11 7 12 8 12 8 13-2-12-7-11-7-12-9-12-9-11-10-12-11-12-13-11-13z"/>
<path class="k" d="M204 595l8 5 8 6 9 5 8 5 9 5 8 5 9 5 9 4 8 3 9 3 9 3 8 3 9 3 9 4 8 4 9 4 9 6 9 6 9 6 9 6 9 6 9 5 9 4 9 4 9 2 9 0 9-4 9-5 9-2 9 2 9 4 10 5 9 5 9 6 9 6 10 4 9 2 10-4 9-6 9-3 10 5 9 11 10 11 10 5 9 2 10 0 9 2 10 0 10-1 10-2 9-2 10 1 10 2 10 4 10 4 10 4 10 3 10 3 10 3 10 4 10 3 10 4 10 3 10 4 10 3 11 4 10 4 10 2 11 2 10-1 10-2 11-5 10-10 11-15 10-23 11-32 11-39 10-45 11-48 11-44 10-29 11-2 11 13 11 24 11 31 11 35 11 37 11 38 11 37 11 36 11 34 11 32 11 30 11 29 11 27 12 27 11 26 11 23 12 21 11 18 12 16 11 14 12 13 11 10 12 8 12 8 11 7 12 8 12 8"/></g>
<path d="M145.6 138 C152 118 161 96 178 74" fill="none" stroke="#000" stroke-width="3.2" stroke-linecap="butt"/>
<path d="M187.5 61.5 L172.5 71.5 L181.5 79 Z" fill="#000"/>
<path d="M203.2 113.5 C208 126 214 135 228 142.5" fill="none" stroke="#f03cf0" stroke-width="3" />
<path d="M240.5 148.5 L226.5 137.5 L223.8 146.5 Z" fill="#f03cf0"/>
<path stroke="#1a1a1a" stroke-width="0.9" fill="none" stroke-linejoin="round" d="M69.0 29.3 L81.5 21.2 L93.8 30.2 L89.5 44.6 L73.4 44.6 L69.0 29.3 M69.0 29.3 L53.8 29.3 L48.3 44.7 L61.8 53.7 L73.4 44.6 M73.4 44.6 L69.0 60.5 L80.5 68.3 L94.3 59.0 L89.5 44.6 M69.0 29.3 L64.4 15.3 M93.8 30.2 L109.4 25.1 M91.7 32.6 L88.4 41.8 M80.2 10.6 L80.2 21.4 M82.8 10.6 L82.8 21.4"/>
<text x="81.6" y="8.9" text-anchor="middle" font-size="9" font-weight="bold">O</text>
<text x="43.3" y="79.3" font-size="10.6" font-weight="bold">1b, 1659 cm<tspan font-size="7" dy="-4">-1</tspan></text>
<path stroke="#f545ee" stroke-width="1" fill="none" stroke-linejoin="round" d="M283.6 50.2 L297.2 58.6 L310.8 51.7 L324.3 58.6 L337.9 50.2 M297.2 58.6 L297.2 74.3 M300.1 61.0 L300.1 73.0 M324.3 58.6 L324.3 74.3 M321.4 61.0 L321.4 73.0 M297.2 74.3 L308.4 85.2 L297.2 96.3 L285.9 85.2 L297.2 74.3 M324.3 74.3 L335.5 85.2 L324.3 96.3 L313.0 85.2 L324.3 74.3 M309.3 39.8 L309.3 51.5 M312.3 39.8 L312.3 51.5"/>
<text x="310.8" y="38.6" text-anchor="middle" font-size="9" font-weight="bold" fill="#f545ee">O</text>
<text x="279" y="108.8" font-size="10.4" font-weight="bold" fill="#f545ee">1a, 1618 cm<tspan font-size="7" dy="-4">-1</tspan></text>
<text x="0.5" y="12.3" font-size="13.5">(a)</text>
<g fill="#e8383d"><circle cx="426.0" cy="214.6" r="1.45"/><circle cx="426.6" cy="212.1" r="1.45"/><circle cx="427.2" cy="208.4" r="1.45"/><circle cx="427.8" cy="206.8" r="1.45"/><circle cx="428.4" cy="200.8" r="1.45"/><circle cx="429.0" cy="197.0" r="1.45"/><circle cx="429.6" cy="192.9" r="1.45"/><circle cx="430.2" cy="189.9" r="1.45"/><circle cx="430.8" cy="185.6" r="1.45"/><circle cx="431.4" cy="182.6" r="1.45"/><circle cx="432.0" cy="180.2" r="1.45"/><circle cx="432.6" cy="174.1" r="1.45"/><circle cx="433.2" cy="170.8" r="1.45"/><circle cx="433.8" cy="166.6" r="1.45"/><circle cx="434.4" cy="165.6" r="1.45"/><circle cx="435.0" cy="163.1" r="1.45"/><circle cx="435.6" cy="160.4" r="1.45"/><circle cx="436.2" cy="158.8" r="1.45"/><circle cx="436.8" cy="152.7" r="1.45"/><circle cx="437.4" cy="152.7" r="1.45"/><circle cx="437.9" cy="150.1" r="1.45"/><circle cx="438.5" cy="146.3" r="1.45"/><circle cx="439.1" cy="141.6" r="1.45"/><circle cx="439.7" cy="140.7" r="1.45"/><circle cx="440.3" cy="139.9" r="1.45"/><circle cx="440.9" cy="137.2" r="1.45"/><circle cx="441.5" cy="133.2" r="1.45"/><circle cx="442.1" cy="132.0" r="1.45"/><circle cx="442.7" cy="130.6" r="1.45"/><circle cx="443.3" cy="127.8" r="1.45"/><circle cx="443.9" cy="124.5" r="1.45"/><circle cx="444.5" cy="120.9" r="1.45"/><circle cx="445.1" cy="123.1" r="1.45"/><circle cx="445.7" cy="120.4" r="1.45"/><circle cx="446.3" cy="118.8" r="1.45"/><circle cx="446.9" cy="119.0" r="1.45"/><circle cx="447.5" cy="115.4" r="1.45"/><circle cx="448.1" cy="113.8" r="1.45"/><circle cx="448.7" cy="109.4" r="1.45"/><circle cx="449.3" cy="109.4" r="1.45"/><circle cx="449.9" cy="109.7" r="1.45"/><circle cx="450.5" cy="105.3" r="1.45"/><circle cx="451.1" cy="105.1" r="1.45"/><circle cx="451.7" cy="105.4" r="1.45"/><circle cx="452.3" cy="102.6" r="1.45"/><circle cx="452.9" cy="101.2" r="1.45"/><circle cx="453.5" cy="100.2" r="1.45"/><circle cx="454.1" cy="97.7" r="1.45"/><circle cx="454.7" cy="99.4" r="1.45"/><circle cx="455.3" cy="95.6" r="1.45"/><circle cx="455.9" cy="92.8" r="1.45"/><circle cx="456.5" cy="91.8" r="1.45"/><circle cx="457.1" cy="90.4" r="1.45"/><circle cx="457.7" cy="89.2" r="1.45"/><circle cx="458.3" cy="87.7" r="1.45"/><circle cx="458.9" cy="90.0" r="1.45"/><circle cx="459.5" cy="86.5" r="1.45"/><circle cx="460.1" cy="88.9" r="1.45"/><circle cx="460.6" cy="86.3" r="1.45"/><circle cx="461.2" cy="87.1" r="1.45"/><circle cx="461.8" cy="82.4" r="1.45"/><circle cx="462.4" cy="81.1" r="1.45"/><circle cx="463.0" cy="82.2" r="1.45"/><circle cx="463.6" cy="78.9" r="1.45"/><circle cx="464.2" cy="81.2" r="1.45"/><circle cx="464.8" cy="79.3" r="1.45"/><circle cx="465.4" cy="78.5" r="1.45"/><circle cx="466.0" cy="79.3" r="1.45"/><circle cx="466.6" cy="76.7" r="1.45"/><circle cx="467.2" cy="74.1" r="1.45"/><circle cx="467.8" cy="77.1" r="1.45"/><circle cx="468.4" cy="74.0" r="1.45"/><circle cx="469.0" cy="74.7" r="1.45"/><circle cx="469.6" cy="71.6" r="1.45"/><circle cx="470.2" cy="72.6" r="1.45"/><circle cx="470.8" cy="71.8" r="1.45"/><circle cx="471.4" cy="71.2" r="1.45"/><circle cx="472.0" cy="71.1" r="1.45"/><circle cx="472.6" cy="72.7" r="1.45"/><circle cx="473.2" cy="68.6" r="1.45"/><circle cx="473.8" cy="71.6" r="1.45"/><circle cx="474.4" cy="69.0" r="1.45"/><circle cx="475.0" cy="68.0" r="1.45"/><circle cx="475.6" cy="69.4" r="1.45"/><circle cx="476.2" cy="67.7" r="1.45"/><circle cx="476.8" cy="65.9" r="1.45"/><circle cx="477.4" cy="67.0" r="1.45"/><circle cx="478.0" cy="67.6" r="1.45"/><circle cx="478.6" cy="69.8" r="1.45"/><circle cx="479.2" cy="66.9" r="1.45"/><circle cx="479.8" cy="66.0" r="1.45"/><circle cx="480.4" cy="65.5" r="1.45"/><circle cx="481.0" cy="65.7" r="1.45"/><circle cx="481.6" cy="63.7" r="1.45"/><circle cx="482.2" cy="64.5" r="1.45"/><circle cx="482.8" cy="63.6" r="1.45"/><circle cx="483.4" cy="62.2" r="1.45"/><circle cx="483.9" cy="63.8" r="1.45"/><circle cx="484.5" cy="62.8" r="1.45"/><circle cx="485.1" cy="59.4" r="1.45"/><circle cx="485.7" cy="60.7" r="1.45"/><circle cx="486.3" cy="63.2" r="1.45"/><circle cx="486.9" cy="61.3" r="1.45"/><circle cx="487.5" cy="60.2" r="1.45"/><circle cx="488.1" cy="59.1" r="1.45"/><circle cx="488.7" cy="60.2" r="1.45"/><circle cx="489.3" cy="60.8" r="1.45"/><circle cx="489.9" cy="60.8" r="1.45"/><circle cx="490.5" cy="58.8" r="1.45"/><circle cx="491.1" cy="59.0" r="1.45"/><circle cx="491.7" cy="59.8" r="1.45"/><circle cx="492.3" cy="59.2" r="1.45"/><circle cx="492.9" cy="59.3" r="1.45"/><circle cx="493.5" cy="57.6" r="1.45"/><circle cx="494.1" cy="59.2" r="1.45"/><circle cx="494.7" cy="57.5" r="1.45"/><circle cx="495.3" cy="56.8" r="1.45"/><circle cx="495.9" cy="57.1" r="1.45"/><circle cx="496.5" cy="58.6" r="1.45"/><circle cx="497.1" cy="55.6" r="1.45"/><circle cx="497.7" cy="58.0" r="1.45"/><circle cx="498.3" cy="56.5" r="1.45"/><circle cx="498.9" cy="57.8" r="1.45"/><circle cx="499.5" cy="58.9" r="1.45"/><circle cx="500.1" cy="56.2" r="1.45"/><circle cx="500.7" cy="56.0" r="1.45"/><circle cx="501.3" cy="56.3" r="1.45"/><circle cx="501.9" cy="55.7" r="1.45"/><circle cx="502.5" cy="56.8" r="1.45"/><circle cx="503.1" cy="56.7" r="1.45"/><circle cx="503.7" cy="55.9" r="1.45"/><circle cx="504.3" cy="53.1" r="1.45"/><circle cx="504.9" cy="54.4" r="1.45"/><circle cx="505.5" cy="55.9" r="1.45"/><circle cx="506.1" cy="54.5" r="1.45"/><circle cx="506.6" cy="55.7" r="1.45"/><circle cx="507.2" cy="55.5" r="1.45"/><circle cx="507.8" cy="53.7" r="1.45"/><circle cx="508.4" cy="55.4" r="1.45"/><circle cx="509.0" cy="56.7" r="1.45"/><circle cx="509.6" cy="55.7" r="1.45"/><circle cx="510.2" cy="54.3" r="1.45"/><circle cx="510.8" cy="54.2" r="1.45"/><circle cx="511.4" cy="52.6" r="1.45"/><circle cx="512.0" cy="55.0" r="1.45"/><circle cx="512.6" cy="53.1" r="1.45"/><circle cx="513.2" cy="53.4" r="1.45"/><circle cx="513.8" cy="54.1" r="1.45"/><circle cx="514.4" cy="52.7" r="1.45"/><circle cx="515.0" cy="53.1" r="1.45"/><circle cx="515.6" cy="54.7" r="1.45"/><circle cx="516.2" cy="52.2" r="1.45"/><circle cx="516.8" cy="55.0" r="1.45"/><circle cx="517.4" cy="53.3" r="1.45"/><circle cx="518.0" cy="53.3" r="1.45"/><circle cx="518.6" cy="52.7" r="1.45"/><circle cx="519.2" cy="54.1" r="1.45"/><circle cx="519.8" cy="53.2" r="1.45"/><circle cx="520.4" cy="53.3" r="1.45"/><circle cx="521.0" cy="51.8" r="1.45"/><circle cx="521.6" cy="54.0" r="1.45"/><circle cx="522.2" cy="52.8" r="1.45"/><circle cx="522.8" cy="53.2" r="1.45"/><circle cx="523.4" cy="54.5" r="1.45"/><circle cx="524.0" cy="49.3" r="1.45"/><circle cx="524.6" cy="52.8" r="1.45"/><circle cx="525.2" cy="54.5" r="1.45"/><circle cx="525.8" cy="50.8" r="1.45"/><circle cx="526.4" cy="53.9" r="1.45"/><circle cx="527.0" cy="52.0" r="1.45"/><circle cx="527.6" cy="51.4" r="1.45"/><circle cx="528.2" cy="53.3" r="1.45"/><circle cx="528.8" cy="52.9" r="1.45"/><circle cx="529.4" cy="53.0" r="1.45"/><circle cx="529.9" cy="52.5" r="1.45"/><circle cx="530.5" cy="54.3" r="1.45"/><circle cx="531.1" cy="53.8" r="1.45"/><circle cx="531.7" cy="52.4" r="1.45"/><circle cx="532.3" cy="50.8" r="1.45"/><circle cx="532.9" cy="51.3" r="1.45"/><circle cx="533.5" cy="49.9" r="1.45"/><circle cx="534.1" cy="51.2" r="1.45"/><circle cx="534.7" cy="52.7" r="1.45"/><circle cx="535.3" cy="52.1" r="1.45"/><circle cx="535.9" cy="54.5" r="1.45"/><circle cx="536.5" cy="53.2" r="1.45"/><circle cx="537.1" cy="53.2" r="1.45"/><circle cx="537.7" cy="51.5" r="1.45"/><circle cx="538.3" cy="51.0" r="1.45"/><circle cx="538.9" cy="52.5" r="1.45"/><circle cx="539.5" cy="52.5" r="1.45"/><circle cx="540.1" cy="53.7" r="1.45"/><circle cx="540.7" cy="51.9" r="1.45"/><circle cx="541.3" cy="51.4" r="1.45"/><circle cx="541.9" cy="51.1" r="1.45"/><circle cx="542.5" cy="52.7" r="1.45"/><circle cx="543.1" cy="49.2" r="1.45"/><circle cx="543.7" cy="50.2" r="1.45"/><circle cx="544.3" cy="51.8" r="1.45"/><circle cx="544.9" cy="52.3" r="1.45"/><circle cx="545.5" cy="52.1" r="1.45"/><circle cx="546.1" cy="51.5" r="1.45"/><circle cx="546.7" cy="51.7" r="1.45"/><circle cx="547.3" cy="51.0" r="1.45"/><circle cx="547.9" cy="50.6" r="1.45"/><circle cx="548.5" cy="49.9" r="1.45"/><circle cx="549.1" cy="50.2" r="1.45"/><circle cx="549.7" cy="51.8" r="1.45"/><circle cx="550.3" cy="51.1" r="1.45"/><circle cx="550.9" cy="52.1" r="1.45"/><circle cx="551.5" cy="52.3" r="1.45"/><circle cx="552.1" cy="49.2" r="1.45"/><circle cx="552.6" cy="52.2" r="1.45"/><circle cx="553.2" cy="49.1" r="1.45"/><circle cx="553.8" cy="52.0" r="1.45"/><circle cx="554.4" cy="51.3" r="1.45"/><circle cx="555.0" cy="50.2" r="1.45"/><circle cx="555.6" cy="51.6" r="1.45"/><circle cx="556.2" cy="51.1" r="1.45"/><circle cx="556.8" cy="51.9" r="1.45"/><circle cx="557.4" cy="52.2" r="1.45"/><circle cx="558.0" cy="51.8" r="1.45"/><circle cx="558.6" cy="52.4" r="1.45"/><circle cx="559.2" cy="49.5" r="1.45"/><circle cx="559.8" cy="51.8" r="1.45"/><circle cx="560.4" cy="49.4" r="1.45"/><circle cx="561.0" cy="55.0" r="1.45"/><circle cx="561.6" cy="51.6" r="1.45"/><circle cx="562.2" cy="50.9" r="1.45"/><circle cx="562.8" cy="52.0" r="1.45"/><circle cx="563.4" cy="50.2" r="1.45"/><circle cx="564.0" cy="50.8" r="1.45"/><circle cx="564.6" cy="52.0" r="1.45"/><circle cx="565.2" cy="51.1" r="1.45"/><circle cx="565.8" cy="48.0" r="1.45"/><circle cx="566.4" cy="51.3" r="1.45"/><circle cx="567.0" cy="51.2" r="1.45"/><circle cx="567.6" cy="52.2" r="1.45"/><circle cx="568.2" cy="51.5" r="1.45"/><circle cx="568.8" cy="53.3" r="1.45"/><circle cx="569.4" cy="51.9" r="1.45"/><circle cx="570.0" cy="48.5" r="1.45"/><circle cx="570.6" cy="50.3" r="1.45"/><circle cx="571.2" cy="50.8" r="1.45"/><circle cx="571.8" cy="50.3" r="1.45"/><circle cx="572.4" cy="49.3" r="1.45"/><circle cx="573.0" cy="50.9" r="1.45"/><circle cx="573.6" cy="49.0" r="1.45"/><circle cx="574.2" cy="50.3" r="1.45"/><circle cx="574.8" cy="51.5" r="1.45"/><circle cx="575.4" cy="49.5" r="1.45"/><circle cx="575.9" cy="54.7" r="1.45"/><circle cx="576.5" cy="52.4" r="1.45"/><circle cx="577.1" cy="51.4" r="1.45"/><circle cx="577.7" cy="52.9" r="1.45"/><circle cx="578.3" cy="51.9" r="1.45"/><circle cx="578.9" cy="52.6" r="1.45"/><circle cx="579.5" cy="52.6" r="1.45"/><circle cx="580.1" cy="48.3" r="1.45"/><circle cx="580.7" cy="51.0" r="1.45"/><circle cx="581.3" cy="51.8" r="1.45"/><circle cx="581.9" cy="50.1" r="1.45"/><circle cx="582.5" cy="52.1" r="1.45"/><circle cx="583.1" cy="50.7" r="1.45"/><circle cx="583.7" cy="51.4" r="1.45"/><circle cx="584.3" cy="49.7" r="1.45"/><circle cx="584.9" cy="53.6" r="1.45"/><circle cx="585.5" cy="50.9" r="1.45"/><circle cx="586.1" cy="51.7" r="1.45"/><circle cx="586.7" cy="53.3" r="1.45"/><circle cx="587.3" cy="50.5" r="1.45"/><circle cx="587.9" cy="53.0" r="1.45"/><circle cx="588.5" cy="49.8" r="1.45"/><circle cx="589.1" cy="51.2" r="1.45"/><circle cx="589.7" cy="51.0" r="1.45"/><circle cx="590.3" cy="51.8" r="1.45"/><circle cx="590.9" cy="50.8" r="1.45"/><circle cx="591.5" cy="54.3" r="1.45"/><circle cx="592.1" cy="51.8" r="1.45"/><circle cx="592.7" cy="52.7" r="1.45"/><circle cx="593.3" cy="51.6" r="1.45"/><circle cx="593.9" cy="52.0" r="1.45"/><circle cx="594.5" cy="51.2" r="1.45"/><circle cx="595.1" cy="53.0" r="1.45"/><circle cx="595.7" cy="49.6" r="1.45"/><circle cx="596.3" cy="49.0" r="1.45"/><circle cx="596.9" cy="52.3" r="1.45"/><circle cx="597.5" cy="52.0" r="1.45"/><circle cx="598.1" cy="51.7" r="1.45"/><circle cx="598.6" cy="50.4" r="1.45"/><circle cx="599.2" cy="49.6" r="1.45"/><circle cx="599.8" cy="53.6" r="1.45"/><circle cx="600.4" cy="52.8" r="1.45"/><circle cx="601.0" cy="53.4" r="1.45"/><circle cx="601.6" cy="53.5" r="1.45"/><circle cx="602.2" cy="54.2" r="1.45"/><circle cx="602.8" cy="51.6" r="1.45"/><circle cx="603.4" cy="53.6" r="1.45"/><circle cx="604.0" cy="50.2" r="1.45"/><circle cx="604.6" cy="51.0" r="1.45"/><circle cx="605.2" cy="53.5" r="1.45"/><circle cx="605.8" cy="53.5" r="1.45"/><circle cx="606.4" cy="52.9" r="1.45"/><circle cx="607.0" cy="50.4" r="1.45"/><circle cx="607.6" cy="53.3" r="1.45"/><circle cx="608.2" cy="54.1" r="1.45"/><circle cx="608.8" cy="52.3" r="1.45"/><circle cx="609.4" cy="51.7" r="1.45"/><circle cx="610.0" cy="53.1" r="1.45"/><circle cx="610.6" cy="50.2" r="1.45"/><circle cx="611.2" cy="51.9" r="1.45"/><circle cx="611.8" cy="51.7" r="1.45"/><circle cx="612.4" cy="53.4" r="1.45"/><circle cx="613.0" cy="52.3" r="1.45"/><circle cx="613.6" cy="52.5" r="1.45"/><circle cx="614.2" cy="55.2" r="1.45"/><circle cx="614.8" cy="51.9" r="1.45"/><circle cx="615.4" cy="54.6" r="1.45"/><circle cx="616.0" cy="52.4" r="1.45"/><circle cx="616.6" cy="54.2" r="1.45"/><circle cx="617.2" cy="49.8" r="1.45"/><circle cx="617.8" cy="51.9" r="1.45"/><circle cx="618.4" cy="51.3" r="1.45"/><circle cx="619.0" cy="51.2" r="1.45"/><circle cx="619.6" cy="54.1" r="1.45"/><circle cx="620.2" cy="55.3" r="1.45"/><circle cx="620.8" cy="52.8" r="1.45"/><circle cx="621.3" cy="51.3" r="1.45"/><circle cx="621.9" cy="52.3" r="1.45"/><circle cx="622.5" cy="51.4" r="1.45"/><circle cx="623.1" cy="51.3" r="1.45"/><circle cx="623.7" cy="54.4" r="1.45"/><circle cx="624.3" cy="52.1" r="1.45"/><circle cx="624.9" cy="50.0" r="1.45"/><circle cx="625.5" cy="53.2" r="1.45"/><circle cx="626.1" cy="55.1" r="1.45"/><circle cx="626.7" cy="52.8" r="1.45"/><circle cx="627.3" cy="53.1" r="1.45"/><circle cx="627.9" cy="52.0" r="1.45"/><circle cx="628.5" cy="53.7" r="1.45"/><circle cx="629.1" cy="52.4" r="1.45"/><circle cx="629.7" cy="55.4" r="1.45"/><circle cx="630.3" cy="51.5" r="1.45"/><circle cx="630.9" cy="50.6" r="1.45"/><circle cx="631.5" cy="51.0" r="1.45"/><circle cx="632.1" cy="54.5" r="1.45"/><circle cx="632.7" cy="52.2" r="1.45"/><circle cx="633.3" cy="56.4" r="1.45"/><circle cx="633.9" cy="52.3" r="1.45"/><circle cx="634.5" cy="52.7" r="1.45"/><circle cx="635.1" cy="53.9" r="1.45"/><circle cx="635.7" cy="52.2" r="1.45"/><circle cx="636.3" cy="52.5" r="1.45"/><circle cx="636.9" cy="51.5" r="1.45"/><circle cx="637.5" cy="52.6" r="1.45"/><circle cx="638.1" cy="52.4" r="1.45"/><circle cx="638.7" cy="55.2" r="1.45"/><circle cx="639.3" cy="54.2" r="1.45"/><circle cx="639.9" cy="53.4" r="1.45"/><circle cx="640.5" cy="52.4" r="1.45"/><circle cx="641.1" cy="52.8" r="1.45"/><circle cx="641.7" cy="50.9" r="1.45"/><circle cx="642.3" cy="53.9" r="1.45"/><circle cx="642.9" cy="53.1" r="1.45"/><circle cx="643.5" cy="52.5" r="1.45"/><circle cx="644.1" cy="53.1" r="1.45"/><circle cx="644.6" cy="52.2" r="1.45"/><circle cx="645.2" cy="53.6" r="1.45"/><circle cx="645.8" cy="51.1" r="1.45"/><circle cx="646.4" cy="53.3" r="1.45"/><circle cx="647.0" cy="51.5" r="1.45"/><circle cx="647.6" cy="52.9" r="1.45"/><circle cx="648.2" cy="51.0" r="1.45"/><circle cx="648.8" cy="54.7" r="1.45"/></g>
<path fill="none" stroke="#3a3a3a" stroke-width="2.4" stroke-linejoin="round" d="M426.0 220.5 L426.2 219.7 L426.5 217.9 L426.7 216.0 L427.0 216.0 L427.2 214.8 L427.5 213.4 L427.7 211.3 L428.0 211.4 L428.2 209.0 L428.5 208.6 L428.7 207.3 L429.0 205.7 L429.2 204.1 L429.5 203.5 L429.7 202.3 L430.0 201.0 L430.2 200.0 L430.4 200.4 L430.7 198.0 L430.9 196.7 L431.2 195.1 L431.4 193.5 L431.7 193.3 L431.9 192.7 L432.2 192.4 L432.4 190.8 L432.7 189.5 L432.9 188.3 L433.2 188.7 L433.4 187.1 L433.7 185.9 L433.9 184.5 L434.2 184.6 L434.4 184.2 L434.7 183.5 L434.9 182.5 L435.1 181.9 L435.4 180.3 L435.6 179.4 L435.9 178.8 L436.1 177.8 L436.4 178.1 L436.6 176.9 L436.9 176.6 L437.1 175.7 L437.4 174.3 L437.6 174.4 L437.9 174.8 L438.1 173.2 L438.4 172.9 L438.6 172.7 L438.9 171.7 L439.1 170.0 L439.3 169.0 L439.6 169.7 L439.8 168.3 L440.1 167.6 L440.3 168.4 L440.6 167.2 L440.8 166.7 L441.1 166.0 L441.3 166.5 L441.6 165.3 L441.8 163.9 L442.1 163.3 L442.3 162.5 L442.6 163.3 L442.8 161.5 L443.1 161.8 L443.3 162.5 L443.6 160.8 L443.8 161.0 L444.0 160.1 L444.3 160.0 L444.5 158.8 L444.8 159.0 L445.0 158.9 L445.3 157.7 L445.5 157.8 L445.8 157.8 L446.0 156.4 L446.3 157.0 L446.5 156.8 L446.8 156.3 L447.0 156.5 L447.3 155.6 L447.5 153.9 L447.8 155.1 L448.0 154.3 L448.2 154.6 L448.5 154.0 L448.7 152.4 L449.0 152.5 L449.2 153.0 L449.5 152.4 L449.7 152.6 L450.0 152.2 L450.2 152.0 L450.5 151.7 L450.7 150.7 L451.0 150.3 L451.2 150.1 L451.5 150.2 L451.7 150.6 L452.0 149.6 L452.2 149.9 L452.5 148.5 L452.7 148.5 L452.9 148.1 L453.2 148.5 L453.4 149.2 L453.7 147.3 L453.9 146.9 L454.2 148.3 L454.4 147.1 L454.7 146.3 L454.9 147.4 L455.2 145.5 L455.4 146.5 L455.7 146.8 L455.9 145.1 L456.2 145.6 L456.4 145.9 L456.7 144.8 L456.9 146.3 L457.1 143.9 L457.4 145.3 L457.6 144.5 L457.9 144.7 L458.1 144.0 L458.4 143.6 L458.6 144.4 L458.9 143.3 L459.1 143.8 L459.4 143.8 L459.6 143.4 L459.9 143.7 L460.1 143.4 L460.4 142.3 L460.6 142.8 L460.9 141.9 L461.1 142.1 L461.3 142.9 L461.6 143.2 L461.8 142.4 L462.1 141.7 L462.3 141.7 L462.6 142.1 L462.8 140.9 L463.1 142.4 L463.3 141.9 L463.6 141.0 L463.8 139.7 L464.1 140.6 L464.3 141.3 L464.6 140.3 L464.8 140.1 L465.1 139.8 L465.3 140.5 L465.6 140.7 L465.8 140.0 L466.0 139.7 L466.3 138.9 L466.5 138.5 L466.8 140.1 L467.0 139.9 L467.3 139.5 L467.5 139.5 L467.8 139.0 L468.0 138.9 L468.3 139.0 L468.5 138.2 L468.8 139.0 L469.0 139.5 L469.3 139.7 L469.5 139.3 L469.8 139.2 L470.0 139.6 L470.2 138.1 L470.5 138.3 L470.7 138.6 L471.0 138.7 L471.2 139.1 L471.5 138.6 L471.7 136.9 L472.0 139.2 L472.2 137.8 L472.5 137.4 L472.7 137.7 L473.0 137.9 L473.2 137.2 L473.5 138.2 L473.7 137.2 L474.0 136.6 L474.2 138.0 L474.5 137.8 L474.7 137.2 L474.9 136.6 L475.2 136.3 L475.4 136.7 L475.7 137.4 L475.9 137.6 L476.2 136.8 L476.4 136.6 L476.7 137.5 L476.9 136.7 L477.2 136.5 L477.4 136.0 L477.7 137.2 L477.9 136.2 L478.2 137.2 L478.4 136.7 L478.7 136.5 L478.9 135.5 L479.1 134.4 L479.4 136.1 L479.6 136.0 L479.9 135.6 L480.1 137.0 L480.4 135.7 L480.6 136.8 L480.9 135.1 L481.1 135.2 L481.4 135.7 L481.6 136.4 L481.9 134.9 L482.1 135.7 L482.4 135.8 L482.6 135.5 L482.9 136.8 L483.1 135.5 L483.4 135.1 L483.6 135.5 L483.8 135.5 L484.1 136.2 L484.3 135.2 L484.6 135.4 L484.8 135.5 L485.1 135.8 L485.3 134.9 L485.6 134.7 L485.8 135.2 L486.1 134.8 L486.3 134.6 L486.6 134.4 L486.8 135.1 L487.1 135.4 L487.3 135.5 L487.6 135.2 L487.8 134.9 L488.0 134.6 L488.3 135.4 L488.5 135.0 L488.8 135.7 L489.0 134.3 L489.3 135.3 L489.5 134.8 L489.8 135.4 L490.0 135.1 L490.3 135.4 L490.5 133.9 L490.8 134.7 L491.0 135.0 L491.3 135.4 L491.5 135.2 L491.8 134.5 L492.0 133.8 L492.2 135.6 L492.5 135.3 L492.7 134.9 L493.0 135.1 L493.2 135.7 L493.5 134.7 L493.7 134.2 L494.0 135.6 L494.2 134.5 L494.5 134.1 L494.7 134.0 L495.0 134.9 L495.2 133.2 L495.5 134.2 L495.7 135.0 L496.0 134.0 L496.2 135.2 L496.5 134.0 L496.7 135.2 L496.9 134.0 L497.2 134.8 L497.4 133.8 L497.7 134.0 L497.9 134.2 L498.2 134.4 L498.4 133.8 L498.7 135.5 L498.9 134.1 L499.2 134.1 L499.4 134.0 L499.7 133.9 L499.9 132.2 L500.2 134.3 L500.4 133.8 L500.7 134.2 L500.9 133.4 L501.1 135.5 L501.4 133.3 L501.6 134.7 L501.9 135.6 L502.1 134.9 L502.4 134.3 L502.6 134.1 L502.9 134.2 L503.1 133.7 L503.4 134.2 L503.6 134.2 L503.9 135.4 L504.1 133.9 L504.4 133.6 L504.6 134.4 L504.9 135.3 L505.1 134.9 L505.4 133.2 L505.6 134.5 L505.8 134.5 L506.1 134.6 L506.3 133.7 L506.6 134.4 L506.8 134.6 L507.1 135.0 L507.3 134.1 L507.6 133.5 L507.8 134.2 L508.1 133.5 L508.3 133.9 L508.6 134.0 L508.8 133.9 L509.1 134.0 L509.3 133.4 L509.6 133.7 L509.8 134.4 L510.0 133.9 L510.3 134.0 L510.5 133.7 L510.8 133.9 L511.0 133.7 L511.3 134.9 L511.5 133.8 L511.8 133.2 L512.0 134.8 L512.3 133.0 L512.5 133.8 L512.8 134.1 L513.0 135.0 L513.3 133.3 L513.5 134.5 L513.8 134.2 L514.0 133.6 L514.3 134.5 L514.5 134.5 L514.7 134.6 L515.0 134.0 L515.2 133.6 L515.5 133.7 L515.7 133.7 L516.0 134.1 L516.2 133.8 L516.5 134.3 L516.7 132.7 L517.0 133.8 L517.2 135.0 L517.5 134.5 L517.7 132.9 L518.0 134.7 L518.2 134.1 L518.5 133.6 L518.7 134.5 L518.9 133.2 L519.2 132.9 L519.4 134.3 L519.7 133.2 L519.9 134.4 L520.2 134.4 L520.4 133.7 L520.7 133.7 L520.9 134.2 L521.2 133.3 L521.4 134.7 L521.7 134.3 L521.9 134.5 L522.2 133.4 L522.4 133.3 L522.7 133.4 L522.9 134.6 L523.1 133.7 L523.4 133.5 L523.6 134.8 L523.9 134.3 L524.1 133.4 L524.4 133.4 L524.6 133.6 L524.9 133.5 L525.1 133.6 L525.4 133.7 L525.6 133.8 L525.9 134.3 L526.1 133.9 L526.4 134.0 L526.6 132.4 L526.9 133.6 L527.1 133.8 L527.4 133.9 L527.6 133.8 L527.8 133.9 L528.1 133.4 L528.3 133.8 L528.6 133.3 L528.8 134.2 L529.1 133.6 L529.3 133.2 L529.6 134.4 L529.8 133.7 L530.1 133.6 L530.3 133.9 L530.6 134.0 L530.8 134.8 L531.1 133.1 L531.3 134.3 L531.6 134.5 L531.8 133.4 L532.0 134.8 L532.3 133.2 L532.5 133.5 L532.8 133.4 L533.0 133.8 L533.3 134.4 L533.5 134.8 L533.8 132.9 L534.0 134.0 L534.3 134.0 L534.5 132.8 L534.8 134.1 L535.0 133.9 L535.3 133.9 L535.5 133.8 L535.8 134.3 L536.0 134.1 L536.3 133.0 L536.5 133.3 L536.7 135.5 L537.0 134.9 L537.2 133.5 L537.5 133.8 L537.7 133.9 L538.0 133.1 L538.2 134.8 L538.5 133.0 L538.7 133.6 L539.0 133.4 L539.2 133.6 L539.5 133.2 L539.7 133.9 L540.0 134.0 L540.2 133.2 L540.5 133.6 L540.7 134.4 L540.9 132.9 L541.2 133.0 L541.4 132.9 L541.7 133.7 L541.9 133.5 L542.2 133.9 L542.4 134.3 L542.7 133.7 L542.9 133.6 L543.2 134.1 L543.4 132.6 L543.7 134.6 L543.9 134.2 L544.2 134.1 L544.4 132.9 L544.7 133.8 L544.9 133.9 L545.2 134.2 L545.4 134.1 L545.6 134.5 L545.9 133.1 L546.1 133.3 L546.4 133.1 L546.6 134.1 L546.9 132.2 L547.1 134.3 L547.4 134.9 L547.6 133.9 L547.9 133.6 L548.1 133.2 L548.4 134.3 L548.6 133.3 L548.9 132.7 L549.1 134.2 L549.4 134.1 L549.6 134.7 L549.8 133.5 L550.1 133.2 L550.3 133.2 L550.6 133.2 L550.8 132.8 L551.1 133.6 L551.3 133.1 L551.6 134.2 L551.8 134.1 L552.1 133.5 L552.3 134.2 L552.6 133.3 L552.8 132.9 L553.1 133.4 L553.3 134.1 L553.6 134.1 L553.8 132.9 L554.0 134.1 L554.3 133.6 L554.5 133.8 L554.8 133.6 L555.0 133.0 L555.3 134.0 L555.5 134.5 L555.8 132.8 L556.0 133.5 L556.3 133.2 L556.5 133.7 L556.8 133.2 L557.0 132.9 L557.3 132.9 L557.5 133.8 L557.8 133.9 L558.0 133.4 L558.3 133.5 L558.5 133.3 L558.7 134.1 L559.0 135.0 L559.2 133.4 L559.5 133.2 L559.7 133.3 L560.0 132.7 L560.2 133.2 L560.5 133.9 L560.7 133.1 L561.0 133.7 L561.2 132.9 L561.5 133.5 L561.7 133.4 L562.0 133.5 L562.2 133.6 L562.5 134.5 L562.7 133.6"/>
<path fill="none" stroke="#3f76e4" stroke-width="2.4" stroke-linejoin="round" d="M426.0 222.7 L426.2 220.7 L426.5 220.0 L426.7 219.0 L427.0 219.6 L427.2 219.9 L427.5 220.1 L427.7 217.7 L428.0 219.3 L428.2 217.6 L428.5 219.1 L428.7 217.4 L429.0 216.6 L429.2 216.5 L429.5 216.4 L429.7 216.5 L430.0 216.2 L430.2 214.8 L430.4 214.8 L430.7 214.8 L430.9 214.2 L431.2 214.6 L431.4 213.1 L431.7 212.6 L431.9 213.5 L432.2 212.7 L432.4 211.8 L432.7 212.5 L432.9 210.6 L433.2 210.6 L433.4 211.3 L433.7 210.3 L433.9 209.6 L434.2 211.0 L434.4 209.6 L434.7 209.7 L434.9 209.4 L435.1 208.6 L435.4 209.0 L435.6 209.2 L435.9 209.0 L436.1 207.8 L436.4 207.2 L436.6 207.3 L436.9 207.1 L437.1 206.7 L437.4 205.6 L437.6 205.8 L437.9 206.3 L438.1 205.7 L438.4 204.6 L438.6 205.3 L438.9 205.0 L439.1 204.5 L439.3 204.8 L439.6 203.4 L439.8 204.9 L440.1 202.5 L440.3 203.4 L440.6 203.6 L440.8 202.4 L441.1 203.3 L441.3 201.7 L441.6 201.3 L441.8 201.9 L442.1 201.5 L442.3 200.5 L442.6 201.2 L442.8 200.5 L443.1 200.1 L443.3 199.1 L443.6 200.1 L443.8 199.5 L444.0 198.6 L444.3 200.6 L444.5 199.0 L444.8 199.7 L445.0 199.4 L445.3 197.0 L445.5 197.7 L445.8 196.8 L446.0 197.5 L446.3 196.9 L446.5 197.2 L446.8 197.0 L447.0 196.5 L447.3 196.2 L447.5 195.1 L447.8 195.9 L448.0 195.4 L448.2 195.5 L448.5 195.1 L448.7 195.7 L449.0 194.1 L449.2 194.8 L449.5 194.3 L449.7 194.2 L450.0 193.3 L450.2 193.3 L450.5 193.4 L450.7 193.1 L451.0 192.8 L451.2 192.4 L451.5 192.3 L451.7 191.7 L452.0 191.3 L452.2 191.6 L452.5 192.6 L452.7 190.6 L452.9 190.2 L453.2 191.4 L453.4 191.3 L453.7 192.0 L453.9 190.2 L454.2 191.0 L454.4 189.2 L454.7 191.5 L454.9 189.8 L455.2 189.3 L455.4 189.7 L455.7 189.8 L455.9 189.0 L456.2 189.3 L456.4 189.0 L456.7 188.6 L456.9 188.7 L457.1 188.4 L457.4 187.6 L457.6 188.1 L457.9 187.6 L458.1 188.0 L458.4 186.8 L458.6 187.9 L458.9 186.4 L459.1 188.6 L459.4 187.2 L459.6 187.4 L459.9 185.7 L460.1 186.0 L460.4 186.8 L460.6 186.2 L460.9 184.9 L461.1 185.5 L461.3 185.0 L461.6 186.1 L461.8 185.9 L462.1 184.5 L462.3 183.3 L462.6 184.9 L462.8 184.0 L463.1 184.8 L463.3 183.3 L463.6 184.2 L463.8 184.0 L464.1 184.7 L464.3 183.7 L464.6 183.2 L464.8 182.3 L465.1 183.7 L465.3 182.3 L465.6 182.9 L465.8 182.7 L466.0 183.0 L466.3 183.3 L466.5 182.9 L466.8 181.0 L467.0 182.6 L467.3 182.0 L467.5 180.9 L467.8 182.7 L468.0 181.0 L468.3 181.5 L468.5 180.9 L468.8 180.4 L469.0 180.8 L469.3 180.7 L469.5 180.1 L469.8 180.0 L470.0 180.6 L470.2 180.2 L470.5 180.7 L470.7 179.1 L471.0 180.4 L471.2 179.5 L471.5 178.4 L471.7 178.8 L472.0 179.3 L472.2 179.5 L472.5 179.3 L472.7 178.3 L473.0 178.5 L473.2 178.5 L473.5 176.9 L473.7 178.8 L474.0 178.5 L474.2 178.3 L474.5 177.8 L474.7 177.6 L474.9 177.9 L475.2 177.1 L475.4 177.1 L475.7 177.5 L475.9 178.7 L476.2 176.7 L476.4 177.6 L476.7 177.3 L476.9 176.9 L477.2 177.4 L477.4 177.0 L477.7 176.4 L477.9 176.6 L478.2 176.1 L478.4 176.6 L478.7 176.2 L478.9 176.5 L479.1 176.0 L479.4 175.5 L479.6 175.7 L479.9 176.3 L480.1 175.5 L480.4 175.2 L480.6 174.5 L480.9 175.1 L481.1 175.2 L481.4 175.6 L481.6 173.6 L481.9 175.2 L482.1 175.2 L482.4 174.6 L482.6 175.4 L482.9 173.6 L483.1 174.1 L483.4 173.8 L483.6 174.6 L483.8 174.2 L484.1 173.3 L484.3 173.2 L484.6 171.9 L484.8 172.9 L485.1 174.5 L485.3 173.3 L485.6 173.4 L485.8 172.5 L486.1 173.1 L486.3 172.7 L486.6 173.0 L486.8 172.4 L487.1 171.8 L487.3 172.9 L487.6 173.7 L487.8 173.0 L488.0 171.4 L488.3 172.1 L488.5 172.3 L488.8 172.6 L489.0 171.4 L489.3 171.7 L489.5 171.9 L489.8 172.0 L490.0 171.7 L490.3 171.7 L490.5 171.1 L490.8 170.6 L491.0 172.5 L491.3 172.1 L491.5 171.2 L491.8 171.0 L492.0 171.9 L492.2 171.3 L492.5 171.1 L492.7 171.0 L493.0 170.9 L493.2 170.6 L493.5 170.0 L493.7 170.0 L494.0 170.0 L494.2 170.1 L494.5 170.6 L494.7 170.4 L495.0 169.7 L495.2 169.9 L495.5 169.4 L495.7 169.7 L496.0 169.7 L496.2 169.4 L496.5 170.5 L496.7 169.6 L496.9 169.8 L497.2 168.9 L497.4 169.7 L497.7 169.1 L497.9 169.5 L498.2 168.9 L498.4 168.6 L498.7 169.1 L498.9 168.9 L499.2 168.8 L499.4 168.3 L499.7 168.9 L499.9 168.6 L500.2 168.9 L500.4 169.1 L500.7 168.4 L500.9 168.2 L501.1 168.8 L501.4 167.4 L501.6 168.7 L501.9 167.7 L502.1 167.9 L502.4 169.0 L502.6 168.0 L502.9 168.8 L503.1 167.9 L503.4 167.4 L503.6 166.6 L503.9 167.2 L504.1 168.5 L504.4 167.8 L504.6 166.6 L504.9 167.3 L505.1 166.3 L505.4 167.7 L505.6 167.6 L505.8 168.0 L506.1 167.4 L506.3 166.3 L506.6 167.6 L506.8 166.5 L507.1 166.6 L507.3 166.4 L507.6 167.0 L507.8 166.7 L508.1 165.4 L508.3 167.4 L508.6 166.1 L508.8 165.6 L509.1 166.2 L509.3 165.5 L509.6 168.1 L509.8 166.5 L510.0 167.0 L510.3 166.5 L510.5 166.2 L510.8 165.8 L511.0 166.6 L511.3 165.5 L511.5 166.9 L511.8 165.4 L512.0 166.0 L512.3 166.9 L512.5 166.8 L512.8 166.8 L513.0 166.3 L513.3 165.6 L513.5 164.8 L513.8 165.1 L514.0 166.3 L514.3 166.8 L514.5 165.6 L514.7 166.2 L515.0 165.4 L515.2 165.7 L515.5 163.7 L515.7 166.2 L516.0 164.9 L516.2 164.0 L516.5 165.3 L516.7 165.5 L517.0 164.0 L517.2 166.2 L517.5 165.9 L517.7 165.5 L518.0 164.5 L518.2 164.3 L518.5 164.8 L518.7 163.4 L518.9 164.7 L519.2 164.6 L519.4 164.7 L519.7 163.7 L519.9 164.4 L520.2 164.6 L520.4 163.3 L520.7 163.5 L520.9 163.7 L521.2 165.0 L521.4 164.8 L521.7 164.3 L521.9 164.2 L522.2 164.3 L522.4 164.1 L522.7 163.6 L522.9 164.5 L523.1 163.7 L523.4 164.1 L523.6 164.1 L523.9 163.9 L524.1 163.3 L524.4 163.5 L524.6 164.1 L524.9 163.4 L525.1 163.5 L525.4 163.3 L525.6 163.7 L525.9 162.9 L526.1 163.2 L526.4 164.1 L526.6 164.1 L526.9 164.1 L527.1 163.0 L527.4 163.6 L527.6 163.4 L527.8 163.2 L528.1 162.4 L528.3 161.8 L528.6 163.1 L528.8 161.8 L529.1 162.7 L529.3 162.2 L529.6 163.1 L529.8 163.6 L530.1 162.6 L530.3 162.1 L530.6 163.7 L530.8 162.8 L531.1 162.6 L531.3 162.3 L531.6 163.3 L531.8 163.0 L532.0 162.0 L532.3 161.5 L532.5 162.5 L532.8 161.9 L533.0 162.4 L533.3 162.2 L533.5 162.6 L533.8 162.5 L534.0 162.7 L534.3 162.3 L534.5 161.6 L534.8 162.1 L535.0 161.8 L535.3 162.6 L535.5 161.7 L535.8 164.0 L536.0 163.0 L536.3 162.3 L536.5 163.1 L536.7 161.7 L537.0 161.9 L537.2 162.5 L537.5 161.9 L537.7 162.8 L538.0 162.4 L538.2 162.1 L538.5 162.8 L538.7 161.2 L539.0 162.2 L539.2 161.2 L539.5 161.8 L539.7 161.5 L540.0 162.2 L540.2 161.8 L540.5 161.9 L540.7 161.5 L540.9 160.8 L541.2 161.9 L541.4 161.6 L541.7 161.3 L541.9 161.0 L542.2 161.5 L542.4 161.7 L542.7 161.7 L542.9 161.4 L543.2 161.2 L543.4 161.7 L543.7 161.5 L543.9 160.8 L544.2 161.3 L544.4 161.6 L544.7 160.8 L544.9 160.8 L545.2 160.8 L545.4 160.7 L545.6 161.3 L545.9 161.0 L546.1 160.9 L546.4 161.0 L546.6 162.1 L546.9 161.0 L547.1 160.8 L547.4 160.7 L547.6 161.1 L547.9 160.9 L548.1 162.0 L548.4 161.8 L548.6 162.6 L548.9 161.0 L549.1 159.9 L549.4 159.8 L549.6 161.4 L549.8 160.4 L550.1 160.0 L550.3 160.9 L550.6 161.8 L550.8 159.8 L551.1 160.9 L551.3 160.9 L551.6 159.6 L551.8 160.3 L552.1 160.1 L552.3 159.6 L552.6 160.6 L552.8 161.1 L553.1 160.0 L553.3 160.5 L553.6 160.0 L553.8 160.2 L554.0 160.8 L554.3 160.4 L554.5 160.6 L554.8 160.5 L555.0 160.3 L555.3 160.1 L555.5 160.2 L555.8 161.0 L556.0 159.9 L556.3 161.1 L556.5 158.9 L556.8 160.6 L557.0 160.2 L557.3 159.4 L557.5 160.3 L557.8 160.9 L558.0 160.9 L558.3 159.9 L558.5 159.8 L558.7 159.6 L559.0 159.9 L559.2 160.3 L559.5 159.7 L559.7 159.1 L560.0 160.4 L560.2 157.8 L560.5 160.2 L560.7 159.2 L561.0 158.8 L561.2 159.4 L561.5 159.7 L561.7 159.4 L562.0 159.1 L562.2 161.4 L562.5 159.5 L562.7 160.0 L562.9 160.2 L563.2 159.7 L563.4 159.6 L563.7 159.4 L563.9 160.1 L564.2 159.0 L564.4 160.9 L564.7 160.3 L564.9 160.4 L565.2 159.6 L565.4 159.9 L565.7 159.3 L565.9 160.1 L566.2 158.9 L566.4 159.2 L566.7 159.9 L566.9 160.6 L567.2 160.3 L567.4 160.5 L567.6 158.8 L567.9 159.1 L568.1 160.3 L568.4 158.4 L568.6 159.7 L568.9 160.8 L569.1 158.8 L569.4 158.7 L569.6 159.4 L569.9 159.9 L570.1 158.7 L570.4 159.7 L570.6 159.4 L570.9 159.1 L571.1 159.2 L571.4 159.6 L571.6 159.9 L571.8 158.9 L572.1 160.6 L572.3 159.1 L572.6 159.1 L572.8 159.0 L573.1 159.5 L573.3 159.1 L573.6 158.8 L573.8 159.8 L574.1 159.2 L574.3 159.0 L574.6 159.9 L574.8 159.7 L575.1 158.2 L575.3 158.5 L575.6 159.6 L575.8 158.7 L576.1 158.9 L576.3 158.3 L576.5 158.4 L576.8 160.5 L577.0 159.2 L577.3 158.2 L577.5 158.1 L577.8 159.4 L578.0 159.7 L578.3 158.9 L578.5 159.4 L578.8 159.0 L579.0 159.7 L579.3 158.5 L579.5 158.6 L579.8 158.7 L580.0 159.6 L580.3 159.9 L580.5 159.7 L580.7 158.6 L581.0 160.0 L581.2 158.5 L581.5 157.8 L581.7 159.2 L582.0 159.0 L582.2 158.3 L582.5 158.3 L582.7 159.2 L583.0 158.9 L583.2 158.7 L583.5 159.0 L583.7 158.4 L584.0 158.6 L584.2 158.0 L584.5 159.8 L584.7 158.1 L584.9 158.3 L585.2 158.8 L585.4 158.5 L585.7 158.1 L585.9 158.5 L586.2 158.8 L586.4 158.5 L586.7 159.1 L586.9 159.4 L587.2 159.2 L587.4 159.1 L587.7 158.5 L587.9 158.2 L588.2 158.5 L588.4 157.8 L588.7 158.7 L588.9 159.0 L589.2 159.0 L589.4 159.1 L589.6 158.8 L589.9 157.8 L590.1 159.4 L590.4 158.2 L590.6 158.5 L590.9 158.0 L591.1 158.8 L591.4 158.1 L591.6 158.8 L591.9 158.1 L592.1 159.6 L592.4 158.2 L592.6 158.0 L592.9 159.4 L593.1 158.0 L593.4 159.1 L593.6 157.9 L593.8 158.4 L594.1 158.0 L594.3 158.2 L594.6 159.1 L594.8 157.5 L595.1 157.7 L595.3 159.0 L595.6 158.0 L595.8 158.1 L596.1 158.7 L596.3 159.0 L596.6 157.6 L596.8 158.6 L597.1 157.8 L597.3 157.2 L597.6 158.0 L597.8 158.8 L598.1 157.7 L598.3 159.1 L598.5 158.8 L598.8 156.5 L599.0 158.7 L599.3 158.0 L599.5 158.9 L599.8 158.3 L600.0 158.1 L600.3 159.8 L600.5 158.6 L600.8 157.8 L601.0 157.7 L601.3 158.0 L601.5 158.8 L601.8 158.0 L602.0 158.5 L602.3 158.6 L602.5 158.2 L602.7 156.8 L603.0 158.7 L603.2 157.5 L603.5 158.0 L603.7 159.0 L604.0 158.7 L604.2 158.2 L604.5 158.4 L604.7 158.0 L605.0 158.7 L605.2 158.7 L605.5 157.5 L605.7 158.1 L606.0 158.6 L606.2 158.1 L606.5 157.0 L606.7 158.4 L607.0 159.0 L607.2 157.5 L607.4 156.9 L607.7 157.3 L607.9 158.8 L608.2 159.3 L608.4 157.3 L608.7 158.2 L608.9 157.7 L609.2 158.1 L609.4 157.0 L609.7 158.0 L609.9 158.2 L610.2 157.9 L610.4 158.7 L610.7 157.9 L610.9 158.1 L611.2 159.3 L611.4 158.7 L611.6 158.7 L611.9 158.9 L612.1 157.8 L612.4 157.3 L612.6 157.8 L612.9 158.9 L613.1 159.0 L613.4 157.5 L613.6 158.2 L613.9 158.0 L614.1 158.7 L614.4 159.2 L614.6 156.7 L614.9 158.3 L615.1 158.1 L615.4 158.6 L615.6 157.0 L615.8 158.2 L616.1 158.0 L616.3 157.9 L616.6 157.9 L616.8 157.1 L617.1 159.0 L617.3 157.6 L617.6 158.3 L617.8 158.2 L618.1 158.3 L618.3 157.7 L618.6 158.7 L618.8 158.2 L619.1 157.6 L619.3 158.2 L619.6 158.2 L619.8 157.7 L620.1 157.8 L620.3 158.1 L620.5 157.8 L620.8 158.4 L621.0 157.4 L621.3 158.5 L621.5 158.8 L621.8 157.6 L622.0 158.6 L622.3 158.4 L622.5 158.0 L622.8 157.4 L623.0 158.1 L623.3 158.1 L623.5 158.1 L623.8 157.6 L624.0 158.1 L624.3 157.7 L624.5 157.0 L624.7 158.0 L625.0 158.0 L625.2 158.4 L625.5 158.3 L625.7 158.5 L626.0 158.5 L626.2 158.2 L626.5 157.6 L626.7 157.5 L627.0 158.1 L627.2 157.6 L627.5 158.6 L627.7 156.6 L628.0 156.3 L628.2 157.9 L628.5 157.5 L628.7 157.7 L629.0 157.3 L629.2 158.1 L629.4 158.7 L629.7 157.3 L629.9 158.4 L630.2 157.6 L630.4 158.3 L630.7 158.2 L630.9 157.2 L631.2 156.8 L631.4 157.8 L631.7 158.0 L631.9 157.6 L632.2 158.1 L632.4 158.7 L632.7 157.7 L632.9 159.0 L633.2 157.5 L633.4 158.0 L633.6 157.6 L633.9 158.6 L634.1 158.2 L634.4 157.4 L634.6 156.9 L634.9 157.2 L635.1 157.5 L635.4 158.3 L635.6 157.4 L635.9 157.6 L636.1 157.9 L636.4 156.9 L636.6 158.1 L636.9 156.6 L637.1 158.1 L637.4 158.1 L637.6 157.7 L637.9 158.4 L638.1 157.9 L638.3 157.6 L638.6 158.7 L638.8 158.1 L639.1 158.5 L639.3 157.9 L639.6 157.0 L639.8 157.9 L640.1 157.8 L640.3 157.5 L640.6 158.3 L640.8 157.5 L641.1 157.9 L641.3 158.0 L641.6 158.6 L641.8 158.0 L642.1 157.0 L642.3 156.9 L642.5 157.8 L642.8 157.6 L643.0 157.9 L643.3 158.3 L643.5 158.7 L643.8 156.6 L644.0 158.2 L644.3 157.5 L644.5 156.7 L644.8 157.8 L645.0 157.7 L645.3 157.4 L645.5 157.8 L645.8 157.4 L646.0 157.8 L646.3 156.9 L646.5 157.3 L646.7 158.3 L647.0 158.3 L647.2 157.9 L647.5 157.9 L647.7 158.0 L648.0 157.0 L648.2 158.0 L648.5 157.8 L648.7 157.5 L649.0 158.7 L649.2 157.3"/>
<path d="M415.3 26.8 V234.8 H673.5" fill="none" stroke="#111" stroke-width="1"/>
<path d="M411.2 222.8 H415.3" stroke="#111" stroke-width="1"/>
<text x="408.6" y="225.8" text-anchor="end" font-size="8.5">0.00</text>
<path d="M411.2 198.3 H415.3" stroke="#111" stroke-width="1"/>
<text x="408.6" y="201.3" text-anchor="end" font-size="8.5">0.05</text>
<path d="M411.2 173.8 H415.3" stroke="#111" stroke-width="1"/>
<text x="408.6" y="176.8" text-anchor="end" font-size="8.5">0.10</text>
<path d="M411.2 149.3 H415.3" stroke="#111" stroke-width="1"/>
<text x="408.6" y="152.3" text-anchor="end" font-size="8.5">0.15</text>
<path d="M411.2 124.8 H415.3" stroke="#111" stroke-width="1"/>
<text x="408.6" y="127.8" text-anchor="end" font-size="8.5">0.20</text>
<path d="M411.2 100.4 H415.3" stroke="#111" stroke-width="1"/>
<text x="408.6" y="103.4" text-anchor="end" font-size="8.5">0.25</text>
<path d="M411.2 75.9 H415.3" stroke="#111" stroke-width="1"/>
<text x="408.6" y="78.9" text-anchor="end" font-size="8.5">0.30</text>
<path d="M411.2 51.4 H415.3" stroke="#111" stroke-width="1"/>
<text x="408.6" y="54.4" text-anchor="end" font-size="8.5">0.35</text>
<path d="M411.2 26.9 H415.3" stroke="#111" stroke-width="1"/>
<text x="408.6" y="29.9" text-anchor="end" font-size="8.5">0.40</text>
<path d="M426.0 234.8 V238.6" stroke="#111" stroke-width="1"/>
<text x="426.0" y="249" text-anchor="middle" font-size="8.5">0</text>
<path d="M467.2 234.8 V238.6" stroke="#111" stroke-width="1"/>
<text x="467.2" y="249" text-anchor="middle" font-size="8.5">1000</text>
<path d="M508.4 234.8 V238.6" stroke="#111" stroke-width="1"/>
<text x="508.4" y="249" text-anchor="middle" font-size="8.5">2000</text>
<path d="M549.6 234.8 V238.6" stroke="#111" stroke-width="1"/>
<text x="549.6" y="249" text-anchor="middle" font-size="8.5">3000</text>
<path d="M590.8 234.8 V238.6" stroke="#111" stroke-width="1"/>
<text x="590.8" y="249" text-anchor="middle" font-size="8.5">4000</text>
<path d="M632.0 234.8 V238.6" stroke="#111" stroke-width="1"/>
<text x="632.0" y="249" text-anchor="middle" font-size="8.5">5000</text>
<path d="M673.2 234.8 V238.6" stroke="#111" stroke-width="1"/>
<text x="673.2" y="249" text-anchor="middle" font-size="8.5">6000</text>
<text x="550.3" y="263.6" text-anchor="middle" font-size="9.3" font-weight="bold">t / s</text>
<text transform="translate(384.2 125) rotate(-90)" text-anchor="middle" font-size="9.3" font-weight="bold">[1b] / M</text>
<circle cx="518.4" cy="38.5" r="2.1" fill="#e8383d"/>
<text x="530.8" y="41.8" font-size="8.9">[In(SbF<tspan font-size="6" dy="2.2">6</tspan><tspan dy="-2.2">)</tspan><tspan font-size="6" dy="2.2">3</tspan><tspan dy="-2.2">]</tspan><tspan font-size="6" dy="2.2">0</tspan><tspan dy="-2.2"> = 0.02M [1a]</tspan><tspan font-size="6" dy="2.2">0</tspan><tspan dy="-2.2"> = 0.41M</tspan></text>
<rect x="516.6" y="122.3" width="4.3" height="4.3" fill="#3a3a3a"/>
<text x="530.8" y="127.6" font-size="8.9">[In(SbF<tspan font-size="6" dy="2.2">6</tspan><tspan dy="-2.2">)</tspan><tspan font-size="6" dy="2.2">3</tspan><tspan dy="-2.2">]</tspan><tspan font-size="6" dy="2.2">0</tspan><tspan dy="-2.2"> = 0.02M [1a]</tspan><tspan font-size="6" dy="2.2">0</tspan><tspan dy="-2.2"> = 0.21M</tspan></text>
<path d="M518.9 146.2 L521.5 150.9 L516.3 150.9Z" fill="#3f76e4"/>
<text x="530.8" y="151.9" font-size="8.9">[In(SbF<tspan font-size="6" dy="2.2">6</tspan><tspan dy="-2.2">)</tspan><tspan font-size="6" dy="2.2">3</tspan><tspan dy="-2.2">]</tspan><tspan font-size="6" dy="2.2">0</tspan><tspan dy="-2.2"> = 0.01M [1a]</tspan><tspan font-size="6" dy="2.2">0</tspan><tspan dy="-2.2"> = 0.19M</tspan></text>
<text x="373.5" y="14.3" font-size="13.5">(b)</text>
</svg>
</body></html>
